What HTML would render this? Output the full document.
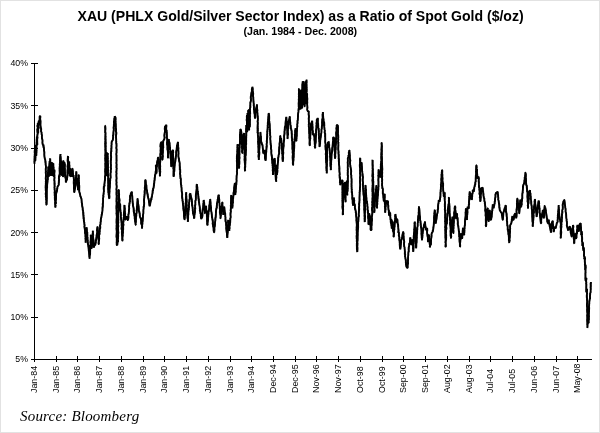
<!DOCTYPE html><html><head><meta charset="utf-8"><style>
html,body{margin:0;padding:0;background:#fff}
body{width:600px;height:433px;position:relative;overflow:hidden;font-family:"Liberation Sans",sans-serif;color:#000}
#frame{position:absolute;left:0;top:0;width:598px;height:431px;border:1px solid #e2e2e2}
#all{position:absolute;left:0;top:0;width:600px;height:433px;will-change:transform}
.t{position:absolute;left:0;width:600px;text-align:center;font-weight:bold;white-space:nowrap}
#t1{top:8.4px;font-size:14.07px;line-height:16px;left:0.6px}
#t2{top:26.1px;font-size:10.66px;line-height:11px;left:0.3px}
.yl{position:absolute;left:0;width:28px;text-align:right;font-size:8.75px;line-height:10px}
.xl{position:absolute;font-size:8.87px;line-height:10px;white-space:nowrap;transform-origin:0 0;transform:rotate(-90deg)}
#src{position:absolute;left:20px;top:406.8px;font-family:"Liberation Serif",serif;font-style:italic;font-size:15px;line-height:18px;letter-spacing:0.2px}
</style></head><body>
<div id="all">
<div id="frame"></div>
<div class="t" id="t1">XAU (PHLX Gold/Silver Sector Index) as a Ratio of Spot Gold ($/oz)</div>
<div class="t" id="t2">(Jan. 1984 - Dec. 2008)</div>
<div class="yl" style="top:58.4px">40%</div>
<div class="yl" style="top:100.7px">35%</div>
<div class="yl" style="top:143.0px">30%</div>
<div class="yl" style="top:185.3px">25%</div>
<div class="yl" style="top:227.5px">20%</div>
<div class="yl" style="top:269.8px">15%</div>
<div class="yl" style="top:312.1px">10%</div>
<div class="yl" style="top:354.4px">5%</div>
<div class="xl" style="left:29.1px;top:392.5px">Jan-84</div>
<div class="xl" style="left:51.1px;top:392.5px">Jan-85</div>
<div class="xl" style="left:72.1px;top:392.5px">Jan-86</div>
<div class="xl" style="left:94.1px;top:392.5px">Jan-87</div>
<div class="xl" style="left:116.1px;top:392.5px">Jan-88</div>
<div class="xl" style="left:138.1px;top:392.5px">Jan-89</div>
<div class="xl" style="left:159.1px;top:392.5px">Jan-90</div>
<div class="xl" style="left:181.1px;top:392.5px">Jan-91</div>
<div class="xl" style="left:203.1px;top:392.5px">Jan-92</div>
<div class="xl" style="left:225.1px;top:392.5px">Jan-93</div>
<div class="xl" style="left:246.1px;top:392.5px">Jan-94</div>
<div class="xl" style="left:268.1px;top:392.5px">Dec-94</div>
<div class="xl" style="left:290.1px;top:392.5px">Dec-95</div>
<div class="xl" style="left:311.1px;top:392.5px">Nov-96</div>
<div class="xl" style="left:333.1px;top:392.5px">Nov-97</div>
<div class="xl" style="left:355.1px;top:392.5px">Oct-98</div>
<div class="xl" style="left:377.1px;top:392.5px">Oct-99</div>
<div class="xl" style="left:398.1px;top:392.5px">Sep-00</div>
<div class="xl" style="left:420.1px;top:392.5px">Sep-01</div>
<div class="xl" style="left:442.1px;top:392.5px">Aug-02</div>
<div class="xl" style="left:464.1px;top:392.5px">Aug-03</div>
<div class="xl" style="left:485.1px;top:392.5px">Jul-04</div>
<div class="xl" style="left:507.1px;top:392.5px">Jul-05</div>
<div class="xl" style="left:529.1px;top:392.5px">Jun-06</div>
<div class="xl" style="left:551.1px;top:392.5px">Jun-07</div>
<div class="xl" style="left:572.1px;top:392.5px">May-08</div>
<div id="src">Source: Bloomberg</div>
<svg width="600" height="433" viewBox="0 0 600 433" style="position:absolute;left:0;top:0">
<g stroke="#000" stroke-width="1" fill="none" shape-rendering="crispEdges">
<path d="M34.5 63V359.5H592"/>
<path d="M31 63.5H38M31 105.5H38M31 148.5H38M31 190.5H38M31 232.5H38M31 274.5H38M31 317.5H38M31 359.5H38M34.5 356V362M56.5 356V362M77.5 356V362M99.5 356V362M121.5 356V362M143.5 356V362M164.5 356V362M186.5 356V362M208.5 356V362M230.5 356V362M251.5 356V362M273.5 356V362M295.5 356V362M316.5 356V362M338.5 356V362M360.5 356V362M382.5 356V362M403.5 356V362M425.5 356V362M447.5 356V362M469.5 356V362M490.5 356V362M512.5 356V362M534.5 356V362M556.5 356V362M577.5 356V362"/>
</g>
<path d="M34.5 163.7 L34.4 162.0 L34.3 161.8 L34.5 160.3 L34.6 157.9 L34.6 156.7 L34.5 155.6 L34.9 155.5 L34.6 153.5 L35.0 153.8 L34.7 152.5 L34.6 152.5 L34.8 150.0 L34.8 152.2 L34.8 151.4 L35.2 153.1 L35.1 153.9 L35.0 156.4 L34.9 157.4 L35.1 157.2 L35.2 160.1 L35.3 160.8 L35.4 159.2 L35.3 158.4 L35.5 158.3 L35.5 155.6 L35.7 155.2 L35.4 154.7 L35.4 154.3 L35.7 151.6 L35.6 149.7 L35.8 148.2 L35.8 149.1 L35.7 148.3 L35.8 146.7 L35.8 145.0 L35.9 146.4 L36.2 148.4 L36.1 148.5 L36.2 148.6 L36.4 151.4 L36.1 153.1 L36.3 153.1 L36.3 153.3 L36.3 155.8 L36.2 153.8 L36.5 152.3 L36.3 151.4 L36.6 151.0 L36.5 149.0 L36.7 149.2 L36.7 148.8 L36.5 146.2 L36.8 145.3 L36.5 145.8 L36.5 142.5 L36.7 141.6 L36.6 141.4 L36.7 138.7 L36.8 138.6 L36.9 139.1 L36.8 136.7 L37.0 137.9 L36.8 139.6 L37.2 141.4 L37.3 142.5 L37.1 142.3 L37.3 142.7 L37.3 145.0 L37.1 142.7 L37.2 141.9 L37.2 141.1 L37.2 139.1 L37.4 138.2 L37.6 136.8 L37.3 137.3 L37.4 135.2 L37.3 134.4 L37.8 134.6 L37.5 132.4 L37.3 130.2 L37.4 129.7 L37.4 129.9 L37.8 126.6 L37.4 126.8 L37.4 125.7 L37.9 124.6 L37.7 123.3 L37.8 125.5 L37.7 124.9 L38.0 125.7 L38.0 127.9 L37.8 128.4 L38.2 130.9 L38.2 132.1 L38.2 133.1 L38.2 133.3 L38.2 131.4 L38.0 130.7 L38.2 128.6 L38.4 128.1 L38.4 128.9 L38.7 127.8 L38.4 126.7 L38.4 123.5 L38.4 122.2 L38.8 122.3 L38.7 120.8 L38.8 123.3 L39.1 124.1 L39.2 125.0 L39.3 122.6 L39.5 123.7 L39.4 122.0 L39.6 119.1 L39.7 118.3 L39.5 118.9 L39.7 116.3 L40.2 116.0 L40.4 116.8 L40.1 118.9 L40.1 118.3 L40.5 121.6 L40.5 120.6 L40.5 124.1 L40.5 123.5 L40.5 125.0 L40.4 125.0 L40.9 128.7 L41.1 128.4 L41.2 129.2 L41.0 131.6 L41.3 131.7 L41.3 132.0 L41.6 133.1 L41.6 134.3 L42.0 135.0 L41.9 136.8 L42.0 138.3 L42.4 139.7 L42.5 140.3 L42.5 141.7 L42.4 142.9 L42.7 143.7 L43.0 145.0 L43.5 144.7 L43.7 146.7 L44.0 149.2 L44.1 151.0 L44.2 151.0 L44.4 152.8 L44.4 152.6 L44.3 154.2 L44.5 156.8 L44.7 157.4 L44.7 158.3 L45.3 160.0 L45.4 162.4 L45.5 162.7 L45.6 163.6 L45.6 164.6 L45.9 165.9 L46.0 167.7 L45.8 168.3 L45.7 170.6 L46.1 170.7 L45.7 172.6 L45.8 171.7 L45.7 172.7 L45.9 173.8 L46.0 176.9 L45.9 176.3 L45.7 178.8 L46.1 180.5 L46.1 179.8 L45.8 181.4 L46.0 184.1 L45.8 183.0 L45.8 185.0 L45.7 185.3 L45.6 187.8 L45.8 188.5 L45.7 188.1 L45.8 190.9 L46.1 190.5 L46.1 193.6 L45.7 192.8 L45.8 195.0 L46.0 194.8 L45.8 196.6 L46.3 198.1 L46.0 200.4 L46.4 199.5 L46.4 201.9 L46.1 201.6 L46.4 204.4 L46.5 205.0 L46.8 202.7 L46.7 203.2 L46.8 200.5 L46.8 199.3 L46.6 199.3 L46.9 198.5 L46.6 196.6 L46.7 196.2 L46.7 193.9 L46.7 192.6 L46.8 192.2 L46.8 192.4 L46.8 190.6 L46.8 189.0 L46.8 187.6 L47.1 187.9 L47.1 185.2 L47.2 185.0 L47.1 185.2 L47.3 183.7 L47.6 181.7 L47.5 180.2 L47.9 180.0 L47.9 177.9 L47.9 177.8 L47.8 175.8 L48.0 175.0 L47.9 172.5 L48.2 171.4 L48.0 170.7 L48.4 169.1 L48.3 170.1 L48.2 167.2 L48.3 166.7 L48.4 167.2 L48.4 167.9 L48.7 169.3 L48.6 172.5 L48.8 171.5 L48.6 172.8 L48.7 173.0 L48.8 175.5 L48.8 176.7 L48.9 174.7 L48.8 173.0 L48.9 172.0 L48.8 170.7 L49.0 170.3 L49.2 170.0 L49.3 169.3 L49.4 168.0 L49.2 166.0 L49.2 166.5 L49.5 164.6 L49.6 161.5 L49.5 161.7 L49.6 163.9 L49.7 164.5 L49.6 164.0 L49.8 166.1 L49.9 168.1 L49.9 168.6 L49.9 170.0 L49.6 169.8 L49.8 170.6 L50.1 171.7 L50.0 174.1 L50.0 175.0 L50.1 174.2 L49.8 172.6 L50.2 172.3 L50.1 170.3 L49.9 169.6 L50.0 168.7 L50.0 165.7 L50.0 166.3 L50.5 165.2 L50.2 163.3 L50.4 162.1 L50.3 161.7 L50.1 160.2 L50.3 158.7 L50.2 158.8 L50.3 161.6 L50.2 162.3 L50.4 162.0 L50.6 164.9 L50.4 166.0 L50.5 166.7 L50.4 167.7 L50.5 170.1 L50.9 171.4 L50.7 169.9 L51.0 173.3 L50.7 173.4 L51.0 173.9 L50.8 175.8 L50.9 173.9 L50.9 172.6 L50.8 173.8 L51.0 172.3 L51.1 171.4 L51.3 168.4 L50.9 168.0 L51.2 165.5 L51.1 165.7 L51.2 163.7 L51.5 163.1 L51.3 162.5 L51.5 162.2 L51.2 165.7 L51.6 167.1 L51.4 168.2 L51.5 167.8 L51.7 170.7 L51.6 170.1 L51.5 171.0 L51.9 171.6 L52.0 173.3 L51.8 175.0 L51.8 173.2 L51.8 172.8 L52.2 171.2 L52.2 171.5 L52.3 169.7 L52.1 169.4 L51.9 167.7 L52.2 166.6 L52.3 165.5 L52.1 163.0 L52.3 162.5 L52.2 164.8 L52.3 164.6 L52.6 165.3 L52.4 168.3 L52.4 168.5 L52.5 169.3 L52.5 169.3 L52.9 170.6 L52.6 172.5 L53.0 174.8 L52.6 174.6 L52.8 175.8 L52.7 173.8 L52.7 173.1 L52.8 171.7 L53.2 171.5 L53.0 170.9 L53.1 168.8 L53.1 167.5 L53.1 165.5 L53.1 166.9 L53.4 164.5 L53.3 163.3 L53.2 165.5 L53.3 164.9 L53.4 166.4 L53.7 169.1 L53.3 169.9 L53.7 168.7 L53.6 172.2 L53.4 172.5 L53.9 173.0 L53.9 175.4 L53.7 176.9 L53.8 176.7 L53.7 174.4 L54.1 174.5 L54.2 174.6 L54.3 172.7 L54.3 171.0 L54.3 170.0 L54.5 169.9 L54.6 171.5 L54.3 173.8 L54.3 173.5 L54.5 176.1 L54.2 175.8 L54.5 178.0 L54.3 178.8 L54.2 180.5 L54.5 180.9 L54.6 183.8 L54.5 184.7 L54.4 184.1 L54.7 187.2 L54.4 186.6 L54.7 188.2 L54.5 189.2 L54.9 191.0 L54.7 191.7 L54.5 192.0 L54.7 193.5 L54.7 195.6 L55.0 197.0 L54.8 197.3 L54.9 199.8 L54.9 200.5 L55.2 199.9 L55.3 201.3 L55.0 203.0 L55.1 203.3 L55.5 205.7 L55.2 205.4 L55.3 207.5 L55.7 205.5 L55.3 204.1 L55.5 202.7 L55.9 203.9 L56.0 202.3 L55.7 201.7 L56.1 198.3 L55.8 198.8 L56.0 197.4 L56.1 195.3 L56.0 193.6 L56.3 193.3 L56.5 191.5 L56.5 192.6 L56.8 191.5 L57.3 188.4 L57.3 188.8 L57.5 186.7 L58.7 185.0 L58.7 182.6 L59.0 182.4 L58.8 180.8 L58.7 181.7 L59.2 179.2 L58.9 179.1 L59.0 175.9 L59.1 177.3 L59.3 175.0 L59.5 176.7 L59.7 176.2 L59.5 174.0 L59.7 174.6 L59.7 171.6 L59.6 170.6 L59.8 168.6 L59.8 170.1 L59.5 169.0 L59.8 165.9 L60.1 166.8 L59.7 164.1 L59.9 163.1 L59.8 163.4 L60.1 162.0 L60.0 160.0 L60.2 159.8 L60.1 158.0 L60.2 156.0 L60.2 156.2 L60.5 154.2 L60.6 154.5 L60.3 155.8 L60.6 156.4 L60.8 158.3 L60.8 161.0 L60.4 160.5 L60.6 161.2 L60.6 164.0 L60.6 163.8 L60.8 166.1 L60.9 167.6 L60.5 168.5 L60.6 170.2 L60.7 170.6 L60.6 172.2 L60.7 172.0 L61.0 172.9 L60.8 175.0 L60.8 174.0 L61.2 172.3 L60.8 171.5 L61.1 171.1 L60.8 170.5 L61.2 167.8 L61.3 167.7 L61.1 164.3 L61.1 163.3 L61.3 164.5 L61.2 163.2 L61.3 160.8 L61.3 163.0 L61.5 162.5 L61.3 165.5 L61.5 165.7 L61.5 165.8 L61.4 166.7 L61.7 168.2 L61.5 170.5 L61.6 169.8 L61.6 172.9 L61.6 173.0 L61.8 175.5 L61.8 175.8 L61.7 173.5 L62.0 173.3 L61.8 172.9 L62.2 170.4 L62.0 170.0 L62.4 168.6 L62.3 167.5 L62.2 166.5 L62.6 166.9 L62.2 164.3 L62.3 164.3 L62.5 162.5 L62.7 162.3 L62.7 164.6 L62.8 165.8 L62.5 167.1 L62.7 167.0 L63.0 170.0 L62.9 169.6 L62.8 171.6 L62.8 172.1 L63.1 174.4 L63.0 174.4 L63.0 176.7 L63.3 176.4 L62.9 173.6 L63.3 174.5 L62.9 172.1 L63.1 172.2 L63.3 171.0 L63.1 169.7 L63.1 168.4 L63.5 166.2 L63.2 166.3 L63.3 163.4 L63.4 163.1 L63.3 160.9 L63.5 160.8 L63.7 162.6 L63.6 161.9 L63.4 165.0 L63.5 166.4 L63.7 166.9 L63.6 168.1 L63.8 168.7 L63.9 169.9 L63.8 171.1 L63.9 171.0 L63.8 173.5 L64.1 175.4 L64.0 175.8 L63.9 174.6 L63.9 173.5 L64.1 171.5 L64.1 170.2 L64.0 170.3 L64.0 169.6 L64.4 168.7 L64.1 167.0 L64.3 165.8 L64.2 166.0 L64.7 164.6 L64.5 162.5 L64.7 164.3 L64.9 163.9 L64.9 165.9 L64.6 168.3 L65.0 169.1 L64.8 168.1 L64.8 171.3 L65.0 171.7 L65.0 174.0 L65.0 175.0 L65.5 175.3 L65.3 175.6 L65.4 177.7 L65.4 177.5 L65.9 179.1 L65.9 181.8 L65.8 182.5 L66.6 180.0 L67.0 180.0 L67.1 177.7 L67.1 178.0 L67.2 177.5 L67.5 175.5 L67.6 172.9 L67.4 173.2 L67.5 171.7 L67.4 171.3 L67.6 170.7 L67.7 167.7 L67.5 166.8 L67.5 166.5 L67.6 165.5 L68.0 163.8 L67.9 162.5 L67.6 160.5 L67.7 158.6 L67.9 159.0 L68.2 157.5 L68.0 156.3 L67.9 156.4 L67.8 159.0 L68.0 158.3 L68.1 159.8 L68.2 161.2 L68.1 163.4 L68.2 164.6 L68.5 164.4 L68.1 165.8 L68.4 166.5 L68.5 169.8 L68.3 169.7 L68.5 169.7 L68.4 172.4 L68.5 173.3 L68.5 172.6 L68.8 172.3 L68.9 169.1 L68.8 167.4 L68.7 167.2 L69.0 165.1 L69.0 163.8 L68.9 165.3 L69.2 162.0 L69.2 161.7 L69.3 162.9 L69.1 164.9 L69.2 164.7 L69.5 165.1 L69.5 168.4 L69.6 167.4 L69.4 170.6 L69.5 171.8 L69.3 171.5 L69.4 172.7 L69.7 174.2 L69.7 175.8 L70.0 175.2 L69.8 174.0 L70.0 172.2 L70.1 171.7 L70.3 168.9 L70.3 168.3 L70.3 170.9 L70.2 171.8 L70.4 171.2 L70.8 173.8 L70.6 175.0 L70.7 176.6 L70.8 176.7 L71.1 174.7 L71.1 174.7 L71.4 173.7 L71.4 171.9 L71.3 170.8 L71.6 172.6 L71.6 173.0 L71.5 174.5 L71.8 174.6 L71.8 176.7 L72.1 174.2 L71.8 173.2 L72.3 171.9 L72.0 171.4 L72.1 169.3 L72.5 170.1 L72.5 168.3 L72.7 170.1 L72.7 169.5 L72.9 171.5 L73.0 174.0 L73.0 173.0 L73.2 176.7 L73.0 176.7 L73.7 175.0 L73.6 175.1 L73.5 176.2 L73.9 179.5 L74.0 180.0 L73.7 181.2 L73.7 180.9 L73.8 183.9 L73.9 183.8 L73.8 184.2 L74.1 186.1 L73.9 187.5 L74.1 190.3 L74.2 191.1 L74.1 190.0 L74.2 192.5 L74.5 191.1 L74.7 189.7 L74.7 189.1 L74.9 189.0 L75.3 186.7 L75.2 186.4 L75.3 182.9 L75.8 184.0 L75.6 180.6 L75.9 180.9 L75.8 178.8 L76.0 178.1 L76.2 176.7 L75.9 175.7 L76.1 175.7 L76.2 172.8 L76.4 171.6 L76.3 171.7 L76.5 173.4 L76.4 174.4 L76.5 174.9 L76.4 177.5 L76.4 178.6 L76.6 177.8 L76.8 181.0 L77.1 180.7 L76.9 181.4 L77.0 183.3 L77.3 184.5 L77.4 186.3 L77.4 186.2 L77.8 186.7 L78.0 189.4 L78.0 190.0 L78.0 187.9 L78.1 188.5 L78.1 185.5 L78.1 186.5 L78.2 183.4 L78.5 183.7 L78.2 180.9 L78.3 180.1 L78.3 179.7 L78.4 178.0 L78.7 178.7 L78.8 175.0 L78.7 175.0 L78.7 175.0 L78.9 178.6 L78.8 179.0 L78.9 178.6 L78.7 179.4 L78.7 181.4 L79.1 182.5 L79.0 184.4 L79.0 185.4 L79.2 185.1 L79.3 187.0 L79.2 189.5 L79.4 189.7 L79.2 190.3 L79.3 191.7 L79.9 193.7 L80.2 195.1 L80.5 196.7 L80.8 196.7 L81.0 198.2 L81.3 198.3 L81.4 198.7 L81.7 202.0 L81.7 202.6 L82.0 203.3 L82.1 204.3 L82.2 206.1 L82.6 207.4 L82.6 207.1 L82.7 210.1 L83.1 210.4 L83.0 211.7 L83.1 211.5 L83.4 213.0 L83.4 216.6 L83.5 215.2 L83.7 217.7 L83.8 218.8 L83.8 220.0 L84.0 222.2 L84.3 222.1 L84.3 222.7 L84.4 224.4 L84.7 224.8 L84.3 226.7 L84.7 228.3 L84.7 228.9 L84.9 229.4 L85.1 231.8 L85.0 232.8 L85.4 233.7 L85.4 237.1 L85.5 237.0 L85.7 237.3 L85.4 238.9 L85.6 239.3 L85.6 242.2 L85.5 242.5 L85.6 241.3 L85.9 239.4 L85.8 238.6 L86.0 238.8 L85.8 236.6 L85.9 235.7 L86.1 235.4 L86.1 234.3 L86.2 231.8 L86.2 230.7 L86.6 228.4 L86.4 228.0 L86.7 227.5 L86.7 228.1 L86.9 229.6 L86.9 231.5 L87.2 233.4 L87.3 232.0 L87.3 235.7 L87.5 234.6 L87.1 237.2 L87.7 236.6 L87.4 239.6 L87.5 239.2 L87.9 240.7 L87.6 242.2 L88.1 245.0 L88.0 245.0 L88.4 245.2 L88.5 247.8 L88.7 249.3 L88.7 250.0 L89.0 252.1 L89.0 251.6 L89.2 253.8 L89.4 254.8 L89.3 256.4 L89.3 256.6 L89.7 258.7 L89.5 257.5 L89.6 256.3 L89.8 255.3 L90.1 254.3 L90.1 251.6 L90.0 251.8 L90.2 251.2 L90.1 249.3 L90.0 249.8 L90.3 247.8 L90.3 244.9 L90.5 245.7 L90.6 243.5 L90.4 242.9 L90.3 242.9 L90.6 241.3 L90.8 239.0 L90.7 238.0 L90.9 237.3 L90.7 235.3 L90.8 235.0 L90.9 235.9 L90.9 238.2 L91.0 239.3 L91.0 239.5 L91.4 240.6 L91.4 242.1 L91.2 242.3 L91.4 243.3 L91.6 245.4 L91.6 244.8 L91.6 248.3 L91.7 248.3 L91.6 245.9 L91.7 244.6 L92.0 246.1 L92.1 244.1 L92.1 243.7 L92.2 241.7 L92.3 240.7 L92.1 239.5 L92.3 238.3 L92.2 237.4 L92.3 234.6 L92.8 235.1 L92.6 233.6 L92.9 232.9 L92.8 230.8 L92.8 232.1 L92.9 232.5 L93.0 233.6 L93.3 235.7 L93.2 235.1 L93.0 236.2 L93.3 239.5 L93.3 240.9 L93.4 239.4 L93.7 242.2 L93.6 244.4 L93.4 243.9 L93.6 245.7 L93.5 245.4 L93.8 247.5 L94.7 244.2 L95.3 245.0 L95.7 242.7 L95.9 241.5 L95.6 240.5 L95.9 241.2 L96.0 240.2 L96.3 238.3 L96.6 235.8 L96.7 236.6 L96.5 235.5 L96.9 234.1 L97.1 232.4 L97.3 230.6 L96.9 230.8 L97.3 227.5 L97.2 228.8 L97.5 226.7 L97.7 227.3 L97.8 228.0 L97.5 230.1 L97.8 230.9 L98.0 232.3 L98.1 232.6 L98.1 234.4 L98.1 236.4 L98.3 236.8 L98.4 239.6 L98.3 239.7 L98.7 239.4 L98.7 242.4 L98.6 242.5 L98.7 244.2 L98.9 244.4 L98.7 242.1 L99.1 240.4 L99.1 239.1 L99.3 238.6 L99.1 238.0 L99.1 234.5 L99.4 234.5 L99.6 234.5 L99.7 231.0 L99.8 232.1 L99.7 230.0 L99.7 229.1 L100.1 228.8 L100.3 227.2 L100.0 225.1 L100.5 224.6 L100.6 222.4 L100.4 223.5 L100.8 221.4 L100.8 220.0 L100.9 218.8 L101.3 217.0 L101.4 217.6 L101.7 214.2 L101.6 215.3 L102.1 213.6 L102.1 213.4 L102.4 211.0 L102.5 210.0 L102.4 208.0 L102.7 206.8 L102.8 206.2 L102.8 205.1 L102.6 203.3 L102.9 204.6 L103.1 200.8 L102.9 201.7 L103.1 200.0 L103.0 198.6 L103.5 196.0 L103.4 197.3 L103.3 195.3 L103.5 194.8 L103.7 194.1 L103.7 191.7 L104.0 191.5 L103.7 188.7 L103.8 187.4 L103.9 186.0 L104.4 186.3 L104.6 184.9 L104.2 185.1 L104.5 183.1 L104.7 181.7 L105.0 179.4 L104.9 178.6 L105.2 178.5 L105.0 177.4 L105.0 175.6 L105.5 175.9 L105.3 173.3 L105.1 171.5 L105.3 170.4 L105.5 171.1 L105.1 169.8 L105.4 168.6 L105.6 167.1 L105.2 164.3 L105.6 165.1 L105.2 163.8 L105.5 162.5 L105.2 160.0 L105.3 160.0 L105.1 158.2 L105.2 157.7 L105.2 156.0 L105.1 156.1 L105.2 155.1 L105.5 152.1 L105.6 151.5 L105.5 152.2 L105.3 149.1 L105.5 147.9 L105.4 148.8 L105.3 146.6 L105.3 146.6 L105.2 144.9 L105.1 142.7 L105.4 142.9 L105.5 140.3 L105.3 139.5 L105.2 138.1 L105.3 138.9 L105.3 136.0 L105.5 135.3 L105.6 133.6 L105.5 132.3 L105.2 132.9 L105.2 131.3 L105.2 129.6 L105.6 128.8 L105.5 129.4 L105.2 125.8 L105.3 125.8 L105.1 128.1 L105.3 128.7 L105.2 130.5 L105.3 131.2 L105.2 130.5 L105.5 133.5 L105.5 132.8 L105.4 136.0 L105.3 136.1 L105.7 136.2 L105.4 138.8 L105.4 138.1 L105.6 140.7 L105.5 140.9 L105.8 143.0 L105.7 144.7 L105.5 144.1 L105.7 146.7 L105.5 147.8 L105.7 149.2 L106.0 150.4 L105.6 150.5 L105.8 151.7 L105.8 153.9 L105.8 154.9 L106.1 154.1 L105.8 155.7 L106.0 156.9 L106.0 157.0 L106.0 159.3 L106.1 159.5 L106.2 162.5 L106.2 162.3 L106.2 163.6 L106.3 163.8 L106.1 167.4 L106.2 167.3 L106.0 168.4 L106.1 170.7 L106.0 169.7 L106.4 171.0 L106.1 171.5 L106.2 174.4 L106.3 175.0 L106.4 172.5 L106.4 173.0 L106.2 172.2 L106.5 171.5 L106.3 168.1 L106.5 168.2 L106.3 166.5 L106.4 165.7 L106.7 165.1 L106.6 162.8 L106.4 163.3 L106.9 162.4 L106.6 160.1 L106.7 160.2 L106.9 157.8 L106.7 157.8 L106.7 155.2 L107.0 154.6 L107.0 154.5 L106.8 152.5 L107.0 154.5 L106.9 153.5 L107.1 157.1 L106.9 156.2 L106.9 158.4 L106.8 159.3 L107.0 160.1 L106.8 160.1 L107.2 163.8 L107.1 164.8 L107.3 165.6 L106.9 166.9 L107.0 167.3 L107.1 168.6 L107.4 169.3 L107.1 170.6 L107.2 171.4 L107.2 173.8 L107.4 173.1 L107.4 173.7 L107.3 175.8 L107.4 176.0 L107.3 172.9 L107.2 172.6 L107.2 170.3 L107.4 169.6 L107.3 168.5 L107.5 166.8 L107.5 167.8 L107.6 165.9 L107.6 163.8 L107.5 163.4 L107.5 162.6 L107.4 160.7 L107.6 159.3 L107.6 158.6 L107.5 156.5 L107.5 157.7 L107.6 155.7 L107.9 153.9 L107.7 153.3 L107.8 153.9 L107.5 154.7 L107.7 157.8 L107.7 156.7 L107.9 158.9 L107.7 159.1 L107.9 162.6 L107.8 161.5 L107.9 163.2 L108.0 165.1 L107.9 166.8 L108.0 167.7 L107.9 168.9 L108.1 170.2 L107.8 171.7 L108.0 171.7 L107.8 173.8 L108.1 174.7 L108.3 175.1 L108.0 176.4 L108.3 178.2 L108.1 178.8 L108.1 179.6 L108.1 181.5 L108.2 181.7 L108.1 182.8 L108.4 185.1 L108.2 185.4 L108.2 185.7 L108.3 186.7 L108.1 189.1 L108.3 190.0 L108.4 192.4 L108.7 193.4 L108.5 194.9 L109.0 194.5 L108.7 194.5 L109.0 197.3 L109.2 198.3 L109.4 198.4 L109.5 196.2 L109.3 195.0 L109.3 194.4 L109.5 192.4 L109.7 191.2 L109.6 191.1 L109.5 188.3 L109.7 188.1 L109.9 187.4 L109.8 187.4 L109.9 184.8 L109.8 185.3 L110.1 182.9 L110.0 181.7 L110.0 179.6 L110.3 180.9 L110.1 178.4 L110.5 178.4 L110.7 177.1 L110.5 176.1 L110.5 172.9 L110.7 172.8 L110.8 171.7 L110.7 169.7 L110.9 169.8 L111.1 167.9 L110.6 167.6 L111.0 165.9 L110.9 164.5 L110.7 162.5 L110.9 163.7 L110.8 161.7 L110.7 161.0 L111.0 159.4 L111.0 157.7 L111.3 157.3 L111.0 156.3 L110.9 153.9 L111.0 154.6 L111.0 151.6 L111.4 151.7 L111.4 150.9 L111.1 148.2 L111.3 149.1 L111.4 147.8 L111.4 145.2 L111.7 143.9 L111.5 144.1 L111.6 142.6 L111.7 141.7 L112.8 140.0 L113.1 137.6 L113.2 137.9 L113.1 136.4 L112.9 134.7 L113.4 135.5 L113.5 132.5 L113.3 132.8 L113.7 131.1 L113.8 129.6 L113.5 127.7 L113.5 127.9 L113.9 125.6 L113.8 125.0 L114.1 123.7 L113.9 121.8 L114.0 120.9 L114.2 121.5 L114.2 119.0 L114.5 117.7 L114.7 116.3 L115.5 117.5 L115.3 118.4 L115.8 118.7 L115.5 120.5 L115.6 121.2 L115.5 122.4 L115.7 124.8 L115.9 124.5 L115.7 125.4 L115.7 128.7 L116.1 128.7 L116.0 130.0 L115.9 132.0 L116.2 131.8 L116.3 133.0 L116.4 133.6 L116.0 135.6 L116.0 136.5 L116.1 138.4 L116.3 140.0 L116.2 139.6 L116.2 141.4 L116.2 143.3 L116.4 143.4 L116.6 143.8 L116.5 145.2 L116.5 146.7 L116.4 148.0 L116.3 148.6 L116.7 149.1 L116.6 150.6 L116.5 151.2 L116.5 153.0 L116.3 153.9 L116.4 155.0 L116.6 155.6 L116.5 157.2 L116.6 160.0 L116.7 161.0 L116.4 160.1 L116.6 160.9 L116.4 163.8 L116.6 164.2 L116.4 166.1 L116.4 167.6 L116.3 168.1 L116.7 167.8 L116.5 170.0 L116.6 171.7 L116.3 171.0 L116.4 172.4 L116.5 173.9 L116.4 174.3 L116.4 177.0 L116.6 178.6 L116.4 179.4 L116.6 179.7 L116.3 180.6 L116.7 183.0 L116.3 182.7 L116.6 185.3 L116.4 184.2 L116.7 185.5 L116.8 186.9 L116.3 189.4 L116.5 190.4 L116.7 191.6 L116.4 191.5 L116.5 194.4 L116.7 195.4 L116.7 196.0 L116.5 196.8 L116.7 196.4 L116.6 198.5 L116.4 200.9 L116.4 201.6 L116.7 202.5 L116.6 202.4 L116.7 205.5 L116.5 205.4 L116.5 205.2 L116.5 207.3 L116.4 208.1 L116.7 210.3 L116.5 210.1 L116.6 212.0 L116.5 214.2 L116.8 213.6 L116.7 214.2 L116.8 215.9 L116.8 217.6 L116.7 217.6 L116.6 219.9 L116.8 221.5 L116.5 220.8 L116.5 222.6 L116.5 222.8 L116.7 224.3 L116.5 226.1 L116.6 226.9 L116.5 228.1 L116.4 228.4 L116.8 232.0 L116.8 230.6 L116.7 234.2 L116.7 232.9 L116.5 234.9 L116.4 236.3 L116.8 238.4 L116.9 238.7 L116.6 239.9 L116.5 239.9 L116.8 240.4 L116.6 243.7 L116.8 243.0 L116.7 245.0 L117.3 245.2 L117.7 241.6 L118.0 241.7 L118.1 241.5 L117.9 239.0 L118.0 239.3 L118.1 236.9 L118.2 235.8 L117.9 234.4 L118.2 234.2 L118.2 233.8 L118.4 232.9 L118.1 230.7 L118.1 228.7 L118.0 228.7 L118.0 227.9 L118.4 226.1 L118.0 224.1 L118.1 223.9 L118.0 223.6 L118.4 222.8 L118.2 221.6 L118.4 219.1 L118.3 218.6 L118.3 217.1 L118.5 216.9 L118.2 216.4 L118.3 213.6 L118.3 213.3 L118.2 211.2 L118.4 210.4 L118.6 211.1 L118.7 209.7 L118.5 208.9 L118.3 207.4 L118.5 205.9 L118.5 203.7 L118.5 204.4 L118.4 202.5 L118.7 200.6 L118.4 198.6 L118.6 199.3 L118.7 196.6 L118.7 196.2 L118.6 195.3 L118.6 194.6 L118.5 192.2 L118.7 193.3 L118.9 190.0 L118.7 190.0 L118.6 190.4 L118.7 192.4 L119.0 193.5 L119.1 193.9 L119.1 194.7 L119.0 197.3 L119.1 197.9 L119.5 199.2 L119.6 200.6 L119.3 202.4 L119.7 204.3 L119.7 204.0 L120.2 204.2 L120.3 207.0 L120.2 207.9 L120.5 210.7 L120.4 211.3 L120.4 212.5 L120.7 212.1 L120.8 212.6 L120.8 214.3 L120.9 216.9 L121.1 218.6 L121.2 219.8 L121.4 221.0 L121.3 221.0 L121.5 221.1 L121.6 222.7 L121.6 224.8 L121.5 224.3 L121.8 227.2 L121.4 228.2 L121.5 229.0 L121.9 229.9 L122.1 229.8 L121.8 232.5 L121.9 232.2 L122.1 235.2 L121.9 234.2 L122.3 235.3 L122.2 236.6 L122.4 238.0 L122.2 239.4 L122.4 240.8 L122.5 240.7 L122.7 239.1 L122.4 238.7 L122.5 235.8 L122.9 235.1 L122.6 234.8 L123.0 231.9 L122.9 232.2 L122.9 230.5 L123.0 230.4 L123.2 229.4 L123.1 225.9 L123.3 226.0 L123.6 224.1 L123.2 224.0 L123.4 221.7 L123.6 221.5 L123.5 220.2 L123.7 217.9 L123.5 217.8 L124.0 217.0 L123.7 214.7 L123.8 215.4 L124.0 213.2 L124.1 212.1 L124.3 211.7 L124.0 211.9 L124.4 209.6 L124.4 209.4 L124.4 207.6 L124.3 205.7 L124.5 205.0 L124.7 207.0 L124.7 208.6 L124.8 207.9 L124.8 210.3 L124.7 211.2 L124.8 212.1 L124.8 211.8 L125.2 213.7 L125.0 215.3 L125.0 215.8 L125.0 217.3 L125.4 217.4 L125.3 220.0 L125.7 218.7 L126.1 218.0 L126.7 216.7 L126.9 216.5 L127.5 218.1 L128.0 220.0 L128.1 219.5 L128.2 219.0 L128.4 217.8 L128.3 214.1 L128.8 214.4 L128.8 212.6 L129.0 211.6 L128.9 209.4 L128.9 210.7 L129.2 208.3 L129.0 206.5 L129.2 205.1 L129.3 205.6 L129.4 203.6 L129.8 203.1 L129.6 202.1 L130.1 201.2 L129.7 199.7 L130.2 199.2 L130.0 196.8 L130.3 195.2 L130.3 195.0 L130.8 195.3 L131.1 194.4 L131.7 191.7 L131.9 192.3 L131.9 194.5 L131.9 195.8 L132.1 195.1 L132.3 196.3 L132.4 198.3 L132.5 200.0 L132.5 201.5 L132.6 202.3 L133.0 204.9 L132.9 206.3 L133.4 206.3 L133.3 206.6 L133.7 208.3 L133.6 208.5 L133.7 211.5 L134.1 212.9 L134.3 213.2 L134.5 214.5 L134.4 215.8 L134.7 216.7 L134.7 218.6 L135.1 219.7 L135.0 221.1 L135.5 222.3 L135.3 222.5 L135.7 223.9 L135.7 225.0 L135.5 222.8 L135.9 222.7 L135.8 222.5 L135.9 222.0 L135.9 220.2 L136.0 217.0 L136.3 215.9 L136.2 216.3 L136.3 216.3 L136.3 212.9 L136.8 213.5 L136.7 211.7 L136.5 209.6 L136.7 210.2 L136.9 209.7 L136.9 207.6 L137.0 207.0 L137.3 204.5 L137.3 202.8 L137.3 201.5 L137.5 201.4 L137.4 199.3 L137.6 199.2 L137.5 198.3 L137.7 200.8 L137.6 199.7 L137.9 200.9 L137.9 202.0 L138.2 204.7 L138.5 204.4 L138.4 205.3 L138.7 206.2 L138.7 208.3 L138.7 210.7 L139.2 211.5 L139.2 211.2 L139.6 213.0 L139.7 213.2 L139.8 215.8 L140.0 216.7 L140.5 218.1 L140.9 217.9 L141.0 220.0 L141.3 220.8 L141.1 223.5 L141.7 224.7 L141.3 224.1 L142.0 224.8 L142.1 225.6 L142.0 228.3 L142.2 226.1 L142.0 224.8 L142.1 225.4 L142.6 223.2 L142.7 223.1 L142.4 222.7 L142.8 219.4 L142.6 219.6 L142.8 217.8 L143.0 216.7 L142.9 215.4 L143.4 213.0 L143.4 212.8 L143.3 211.1 L143.4 210.0 L143.6 209.1 L143.7 207.9 L143.5 207.8 L143.7 206.2 L143.8 206.8 L144.2 203.6 L144.0 203.3 L144.2 203.3 L144.0 200.5 L144.0 199.3 L144.3 197.6 L144.4 197.5 L144.2 196.3 L144.5 196.1 L144.6 194.6 L144.8 193.9 L144.8 193.3 L144.6 190.8 L145.0 189.8 L144.8 188.6 L144.8 187.5 L145.0 186.7 L144.8 187.0 L145.4 184.8 L145.3 182.6 L145.2 181.9 L145.2 180.2 L145.5 180.0 L145.8 182.2 L145.5 183.5 L145.8 183.9 L146.0 184.9 L146.4 185.0 L146.4 185.2 L146.4 188.9 L146.8 189.2 L146.7 190.0 L147.0 190.2 L147.1 193.0 L147.3 194.0 L147.6 194.5 L147.7 196.1 L148.0 196.7 L148.2 198.2 L148.5 198.1 L148.8 199.4 L148.9 201.2 L149.0 202.5 L149.1 202.6 L149.5 206.1 L149.7 205.8 L150.0 204.7 L150.1 204.4 L150.7 201.0 L150.8 200.8 L151.2 199.5 L151.6 199.4 L151.4 198.3 L152.1 195.4 L152.0 195.6 L152.5 193.3 L152.6 191.1 L152.8 189.9 L153.1 191.0 L153.0 188.7 L153.7 187.4 L153.6 187.3 L153.9 185.5 L153.8 185.3 L154.2 183.3 L154.3 182.7 L154.4 181.0 L154.6 179.4 L154.6 178.2 L155.0 176.5 L155.0 174.8 L155.3 175.0 L155.4 174.3 L155.6 171.7 L156.0 170.8 L155.8 170.6 L156.2 168.9 L156.0 166.5 L156.1 167.0 L156.0 165.0 L155.8 165.8 L156.0 167.2 L156.0 169.2 L156.3 169.5 L156.2 171.8 L156.3 171.8 L156.3 173.3 L156.3 173.5 L156.6 172.5 L156.6 169.6 L156.4 168.4 L156.6 168.5 L156.8 166.7 L157.0 166.7 L157.0 163.1 L157.0 163.3 L157.2 162.0 L157.4 162.1 L157.8 159.7 L157.8 158.5 L158.0 157.5 L158.3 158.7 L158.4 160.3 L158.2 160.6 L158.6 162.6 L158.9 164.1 L158.7 163.2 L159.2 164.2 L159.2 166.7 L159.1 166.6 L159.4 169.7 L159.6 168.8 L159.6 171.9 L159.8 171.1 L159.8 173.3 L160.1 176.2 L160.0 175.8 L159.8 175.7 L160.1 173.1 L160.3 171.1 L160.0 170.7 L160.0 169.7 L160.2 170.1 L160.1 168.0 L160.1 165.6 L160.4 166.8 L160.1 165.6 L160.0 162.7 L160.2 162.5 L160.3 161.2 L160.3 160.4 L160.2 159.9 L160.4 159.1 L160.3 155.5 L160.4 155.8 L160.3 154.7 L160.6 152.8 L160.6 151.7 L160.6 152.0 L160.7 149.9 L160.7 148.8 L160.5 146.6 L160.4 147.1 L160.4 146.6 L160.5 144.7 L160.7 143.3 L161.7 141.7 L161.7 144.0 L161.8 144.8 L161.9 145.6 L161.7 145.7 L161.7 148.4 L161.8 149.7 L161.8 148.6 L162.3 151.6 L162.2 151.7 L162.4 152.4 L162.1 154.8 L162.4 154.2 L162.5 155.3 L162.3 157.1 L162.4 159.1 L162.5 160.0 L162.4 159.0 L162.5 158.9 L162.5 157.6 L162.9 156.3 L162.5 154.1 L162.9 152.9 L162.9 151.3 L162.9 149.8 L162.9 150.5 L162.8 149.2 L162.9 148.5 L163.3 147.7 L163.2 146.6 L163.1 143.6 L163.2 143.8 L163.1 143.2 L163.3 140.8 L164.3 139.2 L164.6 138.0 L164.5 137.2 L164.3 134.6 L164.8 134.0 L164.5 134.5 L164.5 133.6 L165.0 131.5 L165.0 129.6 L164.7 129.4 L164.9 127.3 L165.0 126.7 L166.2 125.0 L166.4 125.4 L166.4 126.3 L166.2 127.8 L166.2 129.6 L166.7 130.7 L166.6 131.9 L166.7 131.4 L166.8 132.7 L166.8 133.9 L166.8 135.7 L166.8 137.7 L167.0 138.3 L167.3 138.5 L167.3 140.1 L167.2 142.7 L167.0 141.8 L167.1 145.0 L167.4 145.0 L167.4 145.0 L167.5 146.3 L167.4 148.4 L167.5 148.6 L167.4 149.7 L167.9 150.9 L167.9 152.8 L168.0 152.5 L168.0 155.0 L168.0 156.3 L168.1 156.4 L168.0 158.3 L167.9 156.2 L168.0 154.7 L168.0 155.0 L168.0 154.9 L168.1 152.9 L168.4 151.8 L168.1 151.0 L168.4 148.6 L168.2 149.6 L168.6 147.4 L168.5 146.8 L168.6 145.7 L168.4 144.9 L168.6 143.8 L168.5 141.2 L168.9 139.6 L168.8 139.2 L168.8 140.9 L169.0 141.0 L169.2 141.7 L169.7 143.3 L169.7 145.0 L169.9 147.6 L169.9 147.2 L170.1 149.2 L170.1 150.2 L170.2 149.7 L170.4 152.7 L170.4 151.6 L170.2 153.4 L170.5 155.0 L170.7 157.5 L170.5 158.0 L171.0 159.5 L171.0 160.8 L171.1 161.8 L171.0 162.3 L171.2 164.1 L171.1 165.4 L171.3 166.8 L171.3 166.7 L171.2 166.8 L171.6 165.7 L171.7 162.5 L171.4 161.3 L171.5 160.8 L171.8 159.7 L171.8 159.1 L171.9 157.1 L171.9 157.1 L172.0 156.4 L171.7 153.7 L172.1 153.3 L172.0 151.7 L173.0 150.0 L173.1 150.7 L173.2 153.2 L173.1 152.0 L172.9 153.1 L173.1 156.4 L173.1 157.0 L173.1 157.3 L173.4 158.5 L173.1 160.3 L173.2 160.0 L173.3 162.8 L173.5 163.8 L173.5 163.4 L173.6 164.3 L173.3 165.8 L173.4 169.1 L173.7 168.1 L173.7 170.3 L173.5 170.8 L173.6 173.5 L173.4 174.7 L173.4 175.4 L173.4 175.6 L173.7 176.7 L174.0 174.5 L174.0 174.2 L173.9 172.4 L174.1 170.8 L174.2 171.9 L174.5 169.3 L174.4 169.7 L174.5 166.1 L174.8 166.0 L174.7 165.0 L174.9 163.4 L174.9 163.0 L175.3 161.5 L175.3 161.5 L175.7 158.6 L175.8 156.5 L175.8 156.7 L176.0 156.0 L176.2 154.1 L176.3 154.3 L176.1 152.7 L176.2 150.2 L176.7 150.9 L176.7 148.3 L177.0 145.9 L177.0 146.1 L177.6 144.2 L177.6 143.7 L178.0 142.0 L177.9 143.9 L178.1 144.5 L178.2 146.9 L178.3 147.5 L178.5 147.5 L178.4 149.6 L178.2 149.5 L178.5 151.5 L178.4 153.3 L178.5 152.6 L178.4 155.9 L178.4 156.7 L178.4 156.6 L178.7 158.3 L178.9 158.9 L179.4 162.4 L179.3 161.1 L179.7 163.3 L179.6 165.7 L179.7 165.0 L179.7 165.5 L179.8 167.5 L179.8 170.2 L180.2 169.2 L180.2 171.0 L180.3 172.6 L180.0 172.8 L180.2 175.2 L180.4 175.7 L180.3 176.7 L180.4 178.6 L180.9 178.5 L180.8 180.0 L180.8 181.2 L180.9 182.6 L180.9 184.1 L181.2 185.4 L181.5 185.1 L181.3 186.7 L181.3 187.1 L181.6 187.7 L181.7 190.9 L181.9 191.1 L181.7 191.4 L182.2 194.1 L182.1 195.2 L182.1 196.8 L182.4 198.5 L182.3 198.3 L182.4 199.0 L182.5 201.5 L182.9 200.7 L182.8 202.9 L183.1 204.4 L182.9 203.9 L183.1 204.8 L183.4 207.2 L183.3 208.3 L183.5 210.0 L183.6 210.4 L183.9 211.2 L184.0 213.9 L184.0 213.1 L184.0 216.1 L184.3 217.7 L184.4 218.4 L184.6 219.3 L184.5 220.0 L184.7 217.7 L184.8 218.2 L184.6 215.8 L185.1 215.5 L185.0 213.4 L185.0 212.0 L185.3 211.7 L185.6 211.0 L185.4 210.3 L185.3 208.9 L185.4 208.1 L185.6 204.6 L185.5 203.9 L185.6 202.5 L185.9 202.8 L185.9 200.2 L185.7 199.3 L185.8 199.6 L186.0 197.7 L186.1 196.2 L186.2 195.1 L186.1 195.6 L186.3 192.3 L186.2 192.5 L186.2 192.3 L186.0 194.5 L186.4 196.3 L186.3 197.3 L186.5 198.2 L186.6 198.5 L186.7 201.8 L186.5 202.8 L186.4 204.0 L186.5 203.7 L186.8 204.8 L186.7 206.6 L186.6 206.7 L186.7 208.0 L187.0 208.5 L186.9 210.6 L187.0 211.7 L187.2 211.9 L187.1 213.0 L187.4 215.2 L187.5 217.5 L187.7 218.5 L187.7 219.0 L187.5 218.2 L187.9 219.1 L187.8 221.7 L188.0 221.2 L187.9 218.8 L188.1 217.4 L188.1 218.7 L188.1 214.8 L188.5 214.6 L188.4 214.8 L188.3 211.6 L188.7 210.7 L188.9 210.5 L188.9 210.6 L188.8 208.3 L189.1 207.1 L188.8 204.9 L189.1 205.0 L189.0 202.8 L189.5 201.1 L189.6 201.9 L189.4 201.6 L189.4 199.7 L189.8 198.7 L189.7 196.7 L189.7 194.3 L190.3 193.5 L190.5 193.3 L190.4 194.1 L191.0 196.6 L190.9 196.6 L191.3 199.0 L191.4 197.5 L191.7 200.0 L192.0 201.5 L192.0 202.3 L191.9 202.6 L192.1 205.9 L192.4 204.6 L192.3 205.9 L192.6 208.0 L192.8 209.7 L192.7 210.3 L193.0 211.7 L193.0 213.5 L193.3 213.8 L193.7 215.6 L193.9 215.3 L194.0 217.8 L194.2 218.3 L194.5 216.1 L194.2 216.2 L194.8 214.0 L194.6 212.8 L194.9 213.2 L195.0 211.6 L195.0 210.0 L194.9 207.6 L195.3 209.2 L195.0 205.3 L195.5 204.8 L195.4 203.6 L195.5 204.6 L195.4 203.4 L195.3 200.1 L195.4 200.7 L195.8 200.3 L195.9 196.9 L195.8 196.7 L195.9 194.5 L196.2 193.2 L196.4 194.4 L196.4 190.6 L196.5 191.2 L196.5 189.9 L196.7 189.0 L196.5 186.3 L196.7 186.6 L196.6 185.0 L197.0 184.2 L196.9 186.1 L197.4 187.5 L197.2 187.5 L197.4 189.2 L197.4 189.7 L197.8 192.5 L197.7 191.7 L198.0 193.3 L198.3 195.1 L198.1 196.6 L198.3 196.3 L198.3 198.6 L198.9 199.2 L198.5 200.8 L198.7 199.8 L199.1 202.8 L199.2 203.3 L199.3 204.5 L199.5 205.3 L199.8 207.1 L199.8 208.5 L200.0 210.1 L199.7 210.7 L200.2 211.7 L200.4 212.0 L200.3 213.3 L200.8 213.5 L200.8 215.5 L200.8 216.0 L201.0 217.5 L201.3 219.2 L201.5 216.7 L201.9 218.4 L202.2 217.1 L202.5 215.6 L202.5 213.3 L202.5 213.0 L202.7 210.4 L202.7 208.6 L203.1 210.0 L203.1 207.3 L203.3 207.5 L203.2 206.4 L203.4 203.3 L203.4 202.8 L203.5 201.8 L203.4 202.5 L203.7 200.0 L203.9 201.2 L204.1 202.3 L204.2 203.1 L204.3 205.0 L204.1 204.3 L204.5 206.0 L204.3 206.3 L204.8 209.5 L204.6 209.0 L204.9 211.7 L205.0 213.0 L205.0 213.3 L205.0 211.3 L205.4 209.4 L205.4 208.7 L205.7 209.8 L205.9 207.4 L206.0 205.8 L206.2 207.4 L206.1 207.7 L206.2 208.3 L206.4 210.4 L206.7 210.9 L206.8 213.3 L207.0 215.9 L207.1 215.0 L206.8 215.9 L207.1 217.4 L207.1 219.7 L207.0 221.0 L207.2 222.7 L207.1 223.6 L207.3 224.8 L207.5 225.0 L207.7 224.9 L207.6 223.3 L207.6 220.2 L207.7 221.7 L208.0 219.9 L207.9 218.8 L207.9 216.2 L208.2 217.5 L208.3 215.0 L208.5 214.3 L208.4 211.8 L208.9 210.0 L209.1 209.2 L209.1 208.8 L209.3 206.9 L209.2 206.1 L209.2 205.7 L209.7 203.7 L209.7 203.3 L209.8 201.3 L210.0 201.4 L210.3 199.2 L210.3 199.4 L210.4 201.1 L210.6 203.0 L210.5 204.8 L211.0 205.3 L210.6 205.2 L210.8 206.9 L211.2 208.1 L211.0 208.2 L211.1 210.5 L211.3 211.7 L211.5 212.0 L211.5 212.9 L211.8 214.8 L212.0 217.8 L212.0 216.3 L212.4 219.6 L212.5 220.0 L212.9 222.2 L212.6 223.3 L212.9 224.7 L212.9 223.6 L213.1 226.7 L213.3 226.7 L213.4 226.5 L213.6 230.3 L213.6 230.9 L213.9 231.2 L214.2 232.5 L214.4 230.5 L214.2 229.8 L214.5 230.5 L214.3 227.0 L214.7 227.2 L214.8 224.2 L214.9 225.2 L215.0 223.3 L215.1 221.3 L215.3 221.3 L215.5 218.7 L215.6 219.9 L215.5 218.4 L215.6 217.4 L215.8 215.0 L216.0 213.0 L215.9 213.9 L216.0 210.7 L216.1 210.2 L216.5 208.2 L216.8 208.2 L216.7 206.5 L217.0 204.2 L216.9 203.7 L217.0 203.3 L217.4 202.1 L217.7 200.8 L217.5 200.0 L217.7 199.4 L218.1 198.7 L218.3 195.8 L218.7 195.0 L219.0 195.4 L218.8 196.8 L219.1 198.0 L219.0 198.3 L219.3 199.8 L219.3 200.5 L219.3 202.5 L219.6 204.5 L219.4 204.4 L219.7 206.7 L220.0 206.7 L219.7 208.0 L220.0 210.2 L219.8 212.5 L219.9 211.7 L220.1 213.9 L220.4 214.6 L220.5 216.5 L220.3 218.5 L220.5 218.3 L220.5 218.5 L220.9 214.8 L220.5 213.8 L220.8 213.3 L221.1 214.2 L221.1 211.4 L221.3 211.6 L221.2 209.9 L221.3 208.3 L221.4 205.9 L221.8 206.5 L222.1 205.8 L222.0 205.1 L222.3 202.5 L222.6 202.4 L222.4 205.0 L222.5 206.5 L222.6 206.3 L222.9 208.3 L223.0 208.1 L223.0 210.8 L223.2 212.1 L223.1 211.3 L223.3 214.4 L223.3 215.0 L223.3 214.3 L223.8 214.0 L223.7 210.6 L223.8 211.6 L224.3 208.8 L224.1 209.1 L224.3 206.7 L224.4 208.5 L224.7 209.4 L224.5 208.9 L224.7 210.3 L224.7 210.8 L225.0 213.1 L225.2 213.2 L225.3 216.9 L225.3 216.7 L225.5 217.4 L225.4 218.8 L225.4 220.1 L225.6 221.9 L226.1 222.1 L226.1 224.5 L226.1 225.3 L226.4 226.6 L226.4 226.3 L226.3 228.3 L226.3 228.9 L226.6 231.7 L226.9 233.0 L226.7 233.4 L227.0 232.9 L227.0 236.3 L227.0 235.5 L227.3 238.0 L227.5 235.9 L227.3 234.3 L227.6 234.0 L227.3 234.9 L227.9 231.3 L227.5 232.6 L227.8 229.7 L227.8 228.5 L227.8 227.8 L227.8 225.5 L227.8 224.7 L228.2 224.9 L228.3 222.7 L228.1 222.9 L228.1 221.1 L228.3 220.0 L228.5 222.5 L228.4 221.1 L228.6 224.2 L228.6 225.5 L229.0 226.9 L229.0 226.0 L229.2 227.5 L229.4 230.5 L229.3 230.8 L229.2 228.8 L229.6 228.9 L229.5 226.1 L229.6 226.3 L229.8 225.2 L230.0 222.9 L230.2 222.5 L230.3 219.8 L230.3 220.0 L230.3 218.1 L230.5 218.1 L230.7 216.9 L230.4 214.6 L230.4 214.8 L230.5 212.2 L230.8 212.8 L230.9 211.5 L230.6 210.6 L230.9 208.1 L230.9 206.2 L230.7 205.2 L230.7 205.3 L231.2 205.3 L230.9 202.8 L231.1 200.7 L231.0 200.7 L231.2 200.2 L231.0 199.2 L231.2 196.1 L231.2 196.1 L231.3 195.0 L231.3 196.6 L231.5 196.7 L231.7 199.0 L231.6 199.1 L232.0 201.8 L231.6 202.0 L232.0 202.6 L231.8 203.2 L232.3 206.4 L232.1 205.0 L232.1 207.6 L232.3 208.3 L232.6 205.9 L232.5 206.8 L232.6 203.6 L233.0 202.5 L232.7 201.2 L232.8 202.1 L232.8 199.0 L233.1 198.0 L233.1 198.8 L233.3 196.7 L233.6 194.6 L233.5 194.2 L233.5 192.2 L233.6 193.6 L234.0 190.4 L234.2 191.2 L234.3 188.8 L234.1 188.1 L234.4 186.6 L234.3 186.3 L234.8 183.5 L234.7 183.3 L234.9 183.4 L234.7 185.2 L234.9 186.1 L234.8 189.4 L234.9 190.2 L235.2 189.4 L235.0 191.0 L235.4 192.4 L235.3 194.9 L235.3 195.0 L235.5 192.5 L235.7 193.1 L235.5 193.0 L235.8 191.6 L235.7 188.8 L235.8 188.0 L235.7 186.9 L236.2 185.3 L236.2 184.7 L236.3 185.0 L236.5 182.0 L236.3 181.7 L236.7 181.4 L236.6 180.1 L236.4 179.2 L236.6 177.7 L236.5 177.1 L236.7 175.1 L236.8 174.8 L237.1 173.8 L237.0 171.7 L236.8 171.5 L237.1 170.5 L237.1 168.6 L237.2 165.8 L237.0 166.0 L237.1 164.2 L237.2 164.3 L236.9 161.6 L236.8 160.5 L237.0 160.0 L236.8 158.4 L236.9 158.6 L236.9 155.4 L237.0 156.2 L237.1 154.2 L237.4 154.1 L237.3 151.5 L237.3 152.1 L237.4 150.9 L237.5 148.2 L237.2 147.8 L237.6 146.7 L237.5 145.3 L237.5 144.2 L237.8 145.1 L237.5 147.1 L237.7 147.4 L238.0 150.3 L238.2 149.1 L238.1 150.0 L238.3 152.4 L238.0 153.6 L238.3 155.0 L238.5 156.2 L238.4 158.0 L238.6 157.5 L238.4 160.3 L238.9 161.6 L238.6 161.5 L238.9 163.4 L238.7 163.0 L238.9 164.5 L238.9 165.2 L239.0 167.2 L239.0 168.3 L239.3 166.2 L239.1 167.5 L238.9 165.7 L239.2 164.9 L239.4 163.4 L239.4 161.1 L239.0 159.5 L239.5 159.2 L239.5 159.2 L239.6 157.0 L239.2 156.0 L239.6 155.0 L239.5 153.3 L239.4 151.7 L239.5 151.0 L239.4 150.0 L239.5 147.6 L239.8 148.4 L239.7 146.7 L239.6 144.8 L239.6 144.4 L240.0 143.5 L239.9 141.2 L240.0 141.5 L240.0 140.3 L240.1 137.9 L239.8 138.5 L240.0 137.4 L239.9 133.8 L240.2 134.7 L240.2 131.7 L240.5 131.9 L240.4 129.9 L240.3 129.2 L240.7 129.5 L241.3 131.7 L241.3 131.8 L241.3 134.3 L241.4 134.1 L241.4 135.0 L241.6 136.8 L241.6 137.6 L241.9 139.5 L242.0 140.8 L241.7 141.8 L241.7 143.3 L241.7 143.3 L242.2 145.9 L241.9 146.2 L242.0 147.4 L242.1 149.3 L242.4 148.9 L242.0 151.3 L242.4 153.2 L242.3 153.3 L242.5 151.8 L242.4 152.2 L242.4 149.7 L242.7 148.9 L242.9 148.3 L242.6 145.4 L242.9 146.3 L242.9 144.4 L243.1 142.6 L242.9 142.0 L242.8 139.8 L243.2 140.7 L243.1 137.1 L243.2 137.2 L243.5 135.8 L243.3 135.0 L244.2 133.3 L244.2 134.0 L244.3 136.7 L244.2 136.6 L244.3 137.4 L244.2 139.6 L244.3 139.6 L244.5 140.7 L244.3 142.3 L244.5 142.8 L244.5 143.4 L244.3 144.1 L244.6 145.3 L244.3 146.7 L244.4 147.5 L244.6 150.5 L244.8 152.1 L244.8 152.2 L244.8 152.0 L244.5 154.1 L244.8 156.1 L244.5 156.2 L244.8 158.6 L245.0 159.0 L244.5 158.5 L244.5 159.9 L244.9 162.6 L244.7 162.0 L244.9 163.3 L245.1 165.8 L245.1 166.0 L244.9 167.3 L244.8 167.9 L245.2 171.1 L245.0 170.8 L244.9 170.3 L244.9 167.7 L245.3 167.0 L245.2 165.1 L245.0 165.7 L245.4 163.9 L245.3 163.2 L245.4 162.9 L245.4 160.2 L245.7 160.8 L245.6 159.6 L245.4 156.3 L245.7 155.8 L245.8 153.6 L245.7 154.7 L245.9 151.4 L245.8 151.7 L245.9 150.3 L246.0 149.6 L246.1 148.1 L246.1 148.5 L245.8 146.4 L245.8 144.7 L246.1 145.0 L246.2 143.6 L246.1 143.0 L246.2 140.1 L246.1 138.8 L246.3 137.4 L246.0 137.2 L245.9 137.3 L246.3 136.2 L246.3 132.9 L246.4 133.0 L246.2 131.9 L246.0 131.8 L246.1 130.2 L246.1 127.7 L246.3 128.3 L246.2 126.7 L246.3 125.0 L246.5 126.9 L246.5 126.3 L246.4 129.4 L246.7 130.0 L246.6 129.3 L246.9 127.3 L247.0 127.8 L246.8 125.2 L246.9 125.1 L247.0 123.0 L247.1 121.6 L246.7 120.7 L246.7 120.3 L246.7 119.0 L247.0 118.7 L246.8 116.8 L247.0 115.0 L247.0 116.5 L247.2 116.5 L247.1 117.0 L247.3 118.3 L246.9 121.6 L247.1 121.6 L247.3 123.4 L247.4 123.5 L247.0 124.1 L247.0 127.0 L247.2 126.4 L247.1 127.9 L247.3 130.6 L247.2 131.3 L247.3 131.7 L247.2 131.7 L247.4 130.5 L247.5 129.5 L247.4 127.4 L247.4 126.9 L247.6 123.7 L247.5 124.5 L247.3 123.2 L247.6 121.3 L247.6 121.5 L247.5 118.1 L247.4 118.1 L247.3 115.9 L247.5 115.5 L247.4 113.8 L247.5 113.3 L247.7 114.6 L247.4 115.8 L247.5 117.7 L247.8 119.1 L247.7 117.9 L247.6 121.3 L247.6 121.2 L247.5 120.9 L247.6 122.3 L247.8 124.8 L247.8 126.8 L248.0 126.3 L247.8 128.1 L247.9 129.9 L247.8 130.0 L247.9 128.5 L248.1 127.2 L248.2 126.0 L247.7 124.3 L247.8 124.6 L247.8 123.4 L248.1 123.2 L248.3 121.6 L248.2 121.4 L247.9 119.5 L248.1 116.5 L248.1 118.0 L247.9 115.7 L248.4 114.2 L248.4 113.6 L248.1 110.9 L248.5 110.2 L248.3 110.0 L248.6 110.0 L248.6 111.6 L248.3 113.5 L248.4 115.9 L248.2 116.3 L248.7 117.8 L248.6 116.9 L248.3 118.5 L248.6 119.9 L248.8 122.7 L248.6 124.0 L248.4 124.2 L248.6 125.5 L248.8 125.7 L248.5 126.5 L248.7 128.3 L249.2 130.0 L249.0 127.9 L249.4 128.0 L249.2 125.7 L249.3 125.8 L249.3 124.2 L249.1 122.0 L249.2 122.0 L249.2 121.8 L249.2 120.9 L249.3 117.8 L249.3 117.5 L249.3 117.4 L249.6 116.0 L249.4 114.3 L249.5 114.5 L249.2 111.3 L249.4 110.0 L249.5 110.0 L249.6 110.0 L249.4 112.0 L249.8 113.4 L249.4 113.7 L249.5 115.0 L249.7 117.8 L249.5 117.6 L249.5 117.6 L249.8 121.0 L249.8 120.2 L249.7 121.0 L249.6 122.9 L249.9 125.1 L249.6 125.6 L249.8 126.7 L249.8 126.0 L249.6 124.8 L249.6 124.3 L249.8 121.3 L249.7 120.1 L250.1 120.3 L249.8 118.2 L249.8 118.0 L250.0 116.1 L249.8 115.0 L250.0 112.9 L250.2 114.3 L250.0 110.7 L249.8 110.6 L250.0 109.9 L250.0 108.3 L250.0 108.1 L250.4 107.4 L250.3 105.0 L250.3 103.8 L250.3 102.6 L250.7 102.0 L251.0 100.6 L250.9 97.8 L250.7 98.9 L250.8 96.3 L251.2 95.9 L251.3 94.1 L251.3 93.3 L251.7 91.7 L252.0 90.1 L251.8 89.4 L252.4 87.1 L252.5 87.2 L252.7 89.3 L252.9 88.4 L252.6 91.2 L252.9 91.3 L252.7 91.3 L253.2 93.4 L253.0 96.4 L253.3 97.3 L253.3 98.3 L253.3 98.3 L253.5 100.9 L253.5 102.0 L253.6 100.9 L253.6 103.0 L253.8 103.8 L253.7 105.6 L253.9 105.9 L254.0 107.7 L253.9 109.3 L254.2 110.0 L254.2 111.3 L254.5 113.2 L254.5 114.4 L254.9 114.0 L254.7 116.0 L254.8 116.5 L255.0 118.3 L255.3 117.8 L255.4 115.9 L255.3 113.9 L255.4 113.1 L255.7 112.0 L255.6 111.9 L255.8 110.0 L256.3 107.8 L256.5 107.8 L256.8 106.4 L257.0 104.7 L256.8 105.2 L256.9 106.7 L257.2 109.6 L257.5 110.0 L257.2 111.5 L257.2 111.4 L257.6 113.9 L257.5 114.2 L257.6 114.8 L257.7 116.7 L257.9 118.4 L257.9 119.8 L257.6 119.8 L257.9 120.6 L257.5 121.4 L257.9 122.7 L257.6 125.4 L257.9 126.5 L257.5 126.5 L257.6 128.5 L257.9 127.9 L257.6 129.8 L257.5 131.4 L257.6 130.9 L257.7 133.3 L257.4 131.9 L257.8 130.8 L257.8 129.5 L257.5 129.2 L257.8 126.5 L257.7 126.7 L257.6 128.1 L257.9 128.0 L257.6 131.2 L257.9 131.4 L257.6 131.7 L258.0 132.8 L257.9 134.7 L257.8 134.5 L258.0 136.1 L258.2 137.4 L258.3 137.8 L258.3 139.3 L258.2 140.4 L258.0 141.9 L258.4 144.2 L258.4 143.8 L258.5 145.5 L258.3 146.7 L258.3 146.5 L258.5 148.1 L258.6 150.8 L258.4 151.2 L258.3 153.1 L258.7 152.7 L258.9 154.3 L258.6 154.4 L258.5 155.9 L258.5 156.6 L258.8 158.5 L258.8 160.0 L258.8 158.9 L259.0 158.4 L258.8 158.0 L259.1 155.6 L259.3 154.1 L259.4 152.5 L259.1 151.8 L259.3 151.4 L259.1 149.4 L259.3 150.2 L259.5 146.7 L259.4 146.8 L259.7 145.1 L259.6 144.0 L259.7 143.3 L259.7 143.5 L259.7 140.6 L260.0 140.2 L260.0 138.4 L260.3 136.5 L260.4 136.0 L260.4 134.5 L260.3 132.3 L260.5 132.5 L260.7 135.0 L260.7 135.3 L260.7 135.9 L261.0 136.1 L260.9 138.8 L260.9 139.8 L261.1 140.9 L261.3 141.7 L261.6 142.8 L261.9 144.1 L262.5 145.0 L262.7 146.1 L262.6 146.3 L262.9 149.1 L263.1 150.1 L263.0 151.2 L263.4 152.0 L263.3 153.3 L263.8 152.5 L264.1 150.6 L264.5 150.0 L264.8 152.6 L264.5 152.9 L264.6 153.9 L265.2 156.1 L264.9 156.7 L265.0 158.2 L265.3 159.4 L265.6 158.2 L265.5 160.8 L265.8 159.5 L265.7 159.1 L265.7 158.5 L265.8 157.4 L265.9 153.7 L265.9 152.7 L266.0 153.2 L266.3 151.7 L266.3 149.6 L266.7 148.8 L266.7 149.5 L266.5 148.6 L266.5 147.0 L266.8 146.2 L266.6 144.6 L267.0 141.6 L266.9 141.8 L266.7 141.6 L266.9 140.0 L267.0 139.2 L267.3 136.4 L267.2 135.5 L267.2 135.0 L267.1 134.8 L267.3 133.3 L267.2 130.9 L267.4 131.9 L267.5 129.5 L267.7 127.0 L267.8 127.9 L267.6 125.7 L267.9 124.6 L267.8 124.3 L267.8 122.8 L268.0 121.7 L268.1 121.7 L268.3 119.2 L268.4 117.1 L268.5 116.3 L268.4 114.3 L268.6 114.6 L268.7 113.0 L268.8 113.8 L268.8 114.6 L269.1 115.1 L269.2 117.1 L269.2 119.2 L269.1 120.6 L269.3 122.2 L269.6 123.7 L269.7 124.3 L269.7 125.0 L269.8 125.9 L269.6 128.5 L269.8 127.2 L269.7 129.5 L270.1 129.8 L269.8 131.3 L270.1 131.9 L270.1 133.0 L270.1 135.1 L270.4 136.1 L270.5 135.8 L270.3 138.3 L270.2 138.6 L270.5 141.3 L270.4 141.8 L270.6 143.6 L270.6 144.6 L270.9 145.2 L270.9 145.7 L271.1 146.0 L270.9 148.9 L271.3 149.6 L271.4 149.4 L271.3 151.7 L271.2 153.9 L271.3 153.1 L271.5 154.3 L271.7 156.1 L271.9 156.6 L272.1 157.9 L271.9 160.1 L272.0 159.7 L272.3 161.7 L272.2 162.3 L272.6 164.5 L272.4 166.4 L272.7 164.8 L272.8 167.0 L272.6 168.0 L272.9 168.2 L272.7 170.6 L273.0 171.5 L272.9 173.7 L272.9 173.0 L273.0 175.0 L273.0 175.0 L273.1 173.1 L273.2 171.4 L273.2 169.7 L273.0 170.3 L273.5 167.7 L273.1 168.3 L273.5 166.1 L273.4 165.6 L273.4 162.4 L273.7 162.9 L273.7 160.3 L273.7 160.0 L274.7 158.3 L274.8 159.9 L274.7 159.2 L274.9 161.2 L274.7 162.3 L274.8 164.4 L274.9 165.8 L275.2 166.2 L275.2 166.1 L275.4 167.1 L275.3 168.1 L275.1 170.2 L275.3 171.7 L275.4 172.5 L275.3 173.6 L275.5 175.1 L275.7 177.5 L275.7 177.0 L275.8 179.7 L276.2 179.9 L276.2 180.3 L276.2 181.7 L276.0 180.0 L276.2 178.2 L276.1 179.4 L276.4 177.1 L276.1 175.5 L276.2 175.1 L276.5 175.1 L276.3 172.1 L276.0 171.5 L276.5 170.4 L276.3 168.9 L276.1 168.9 L276.1 168.4 L276.4 165.6 L276.3 165.0 L276.3 164.7 L276.5 166.1 L276.4 166.9 L276.4 168.6 L276.6 169.4 L276.6 171.7 L276.8 173.7 L276.8 173.2 L277.0 175.0 L276.9 174.9 L277.0 173.5 L277.2 173.0 L277.5 170.8 L277.2 168.3 L277.5 168.9 L277.5 167.9 L277.5 166.1 L277.6 164.8 L277.7 164.1 L278.0 162.1 L278.0 161.7 L278.3 159.3 L278.1 159.4 L278.3 157.2 L278.6 157.2 L278.5 155.7 L278.7 155.0 L278.6 155.0 L279.0 154.2 L279.2 153.1 L279.2 149.8 L279.0 149.8 L279.3 149.8 L279.3 148.1 L279.6 144.9 L279.5 145.0 L279.5 142.9 L279.6 143.1 L279.9 141.5 L280.0 139.2 L280.0 138.1 L280.2 138.6 L280.1 135.6 L280.3 135.8 L280.7 138.7 L281.2 138.3 L281.2 139.3 L281.5 141.2 L281.4 142.3 L281.5 143.2 L281.8 143.3 L281.8 146.7 L281.7 147.9 L281.7 148.7 L282.0 149.5 L282.0 150.0 L282.3 152.4 L282.1 153.4 L282.2 154.3 L282.3 154.1 L282.6 156.7 L282.6 158.0 L282.4 157.2 L282.5 159.5 L282.6 160.0 L282.8 161.7 L283.0 159.5 L283.1 158.6 L283.2 157.7 L282.9 156.5 L282.8 155.6 L283.1 154.6 L283.4 152.3 L283.0 152.1 L283.2 152.7 L283.1 149.5 L283.5 147.9 L283.5 148.1 L283.4 146.0 L283.5 147.0 L283.8 145.9 L283.7 143.3 L283.9 141.1 L283.9 139.7 L284.0 140.9 L284.2 139.0 L284.1 136.8 L284.1 136.0 L284.4 134.7 L284.5 134.7 L284.5 133.7 L284.7 133.5 L284.5 131.3 L284.7 130.0 L284.7 130.2 L284.9 126.6 L285.3 127.3 L285.3 126.0 L285.5 125.8 L285.5 123.3 L285.6 121.9 L285.7 121.6 L286.1 118.3 L286.0 119.2 L286.3 117.0 L286.6 118.7 L286.3 118.2 L286.5 120.4 L286.8 122.8 L286.8 122.5 L286.6 124.2 L286.6 126.3 L286.8 124.8 L286.9 125.8 L287.0 128.3 L287.3 129.2 L287.3 130.3 L287.3 132.5 L287.2 132.0 L287.3 133.9 L287.4 135.4 L287.6 135.6 L287.4 138.7 L287.7 138.3 L287.5 136.7 L287.5 134.9 L288.0 134.7 L288.1 134.3 L288.0 133.5 L287.7 131.6 L287.9 129.9 L287.9 129.4 L288.1 128.1 L288.1 126.8 L288.3 124.5 L288.3 125.3 L288.3 123.3 L288.6 120.9 L289.0 122.2 L288.8 120.7 L289.3 119.9 L289.7 116.8 L289.7 116.3 L290.0 118.5 L289.9 118.1 L289.9 119.7 L290.2 122.1 L290.3 122.0 L290.4 125.0 L290.5 125.0 L290.7 127.6 L290.7 129.1 L291.2 128.6 L291.3 130.0 L291.7 131.9 L291.6 132.7 L291.7 134.0 L292.0 135.4 L291.8 134.5 L291.8 138.3 L292.2 138.3 L292.0 140.3 L292.4 141.0 L292.2 141.0 L292.4 142.1 L292.4 144.0 L292.4 144.6 L292.5 147.5 L292.3 148.6 L292.4 148.5 L292.7 149.2 L292.6 149.8 L292.8 152.6 L292.5 151.6 L292.9 154.1 L292.9 154.3 L292.7 156.0 L292.5 158.7 L292.6 158.1 L292.7 158.7 L292.9 161.4 L293.0 160.9 L292.8 163.1 L293.1 165.1 L293.0 165.3 L293.3 163.4 L293.0 164.0 L293.4 160.5 L293.1 161.7 L293.5 160.4 L293.6 158.9 L293.4 158.8 L293.8 157.2 L293.7 154.5 L293.9 154.5 L293.7 153.0 L293.8 151.7 L293.9 149.8 L294.2 148.4 L293.9 149.5 L294.2 147.8 L294.3 145.0 L294.2 145.8 L294.2 142.7 L294.4 143.6 L294.3 142.6 L294.5 139.4 L294.4 140.5 L294.7 138.3 L294.9 136.0 L294.9 134.9 L294.8 133.8 L295.2 134.4 L295.1 132.5 L295.1 130.3 L295.5 129.8 L295.5 130.1 L295.5 128.3 L295.7 129.6 L295.6 129.5 L295.6 131.1 L295.7 133.6 L295.8 133.5 L296.0 136.2 L296.0 136.2 L296.3 138.6 L296.2 138.4 L296.1 140.7 L296.3 140.8 L296.2 139.0 L296.6 138.5 L296.5 136.3 L296.6 137.5 L296.9 134.6 L296.7 134.9 L296.9 131.5 L297.1 132.1 L296.9 130.7 L296.9 129.1 L297.1 127.7 L297.2 126.7 L297.5 126.7 L297.3 125.6 L297.2 124.5 L297.6 123.2 L297.5 121.9 L297.4 121.1 L297.9 119.5 L298.0 117.0 L298.0 115.3 L298.0 115.0 L298.1 113.7 L298.4 111.7 L298.2 112.1 L298.3 111.7 L298.6 108.7 L298.9 108.1 L298.8 106.7 L298.9 106.6 L298.6 103.8 L298.8 101.7 L298.8 101.7 L298.8 103.1 L298.8 105.4 L298.8 104.8 L299.1 105.5 L298.9 107.9 L298.7 108.6 L298.8 110.0 L298.8 108.4 L299.1 107.6 L298.7 106.8 L298.7 104.3 L299.0 104.0 L298.8 104.3 L298.9 102.9 L298.9 101.1 L298.7 98.6 L299.0 99.2 L299.1 97.3 L298.8 97.4 L299.0 94.2 L298.8 94.7 L299.0 91.9 L299.1 90.8 L298.9 91.3 L298.9 89.6 L299.0 88.7 L298.9 88.9 L299.0 91.8 L299.0 92.6 L299.2 94.0 L299.1 94.7 L299.0 95.6 L299.3 97.9 L299.3 97.8 L299.2 97.7 L299.5 99.2 L299.3 99.7 L299.5 103.2 L299.3 103.9 L299.5 103.7 L299.6 105.0 L299.5 106.7 L299.7 105.1 L299.7 104.7 L299.6 104.7 L299.4 103.6 L299.5 102.2 L299.7 100.1 L299.7 99.7 L300.0 97.0 L300.0 96.8 L299.7 95.5 L299.8 95.2 L300.0 93.3 L299.8 94.4 L300.1 94.9 L300.1 97.5 L300.2 97.7 L300.0 99.5 L300.2 100.2 L300.0 101.9 L300.1 101.9 L300.1 102.4 L300.3 105.3 L300.4 104.9 L300.4 105.8 L300.1 107.1 L300.3 109.2 L300.8 108.3 L300.9 106.5 L301.1 105.4 L300.8 106.1 L301.0 104.4 L300.8 102.8 L301.2 102.7 L300.9 99.0 L300.8 98.7 L301.2 97.8 L301.2 95.6 L300.8 95.2 L301.0 95.7 L300.9 92.6 L300.9 91.9 L301.0 90.3 L301.2 90.0 L301.3 91.4 L301.5 91.6 L301.7 93.3 L301.8 95.2 L301.9 95.2 L301.8 97.6 L301.7 97.9 L302.0 98.1 L301.6 100.6 L302.0 102.6 L302.0 101.3 L301.9 103.0 L301.8 105.8 L302.0 106.0 L302.0 106.3 L302.0 108.3 L302.3 107.0 L302.1 105.2 L301.9 103.7 L301.9 102.8 L301.9 102.9 L301.9 102.5 L302.3 100.9 L302.0 98.4 L302.1 99.1 L302.1 98.4 L302.4 95.8 L302.4 94.6 L302.1 95.0 L302.4 92.9 L302.4 90.6 L302.4 91.3 L302.1 89.7 L302.1 89.6 L302.4 88.0 L302.4 85.6 L302.3 85.0 L302.6 83.6 L302.8 81.4 L302.7 81.7 L302.8 82.5 L302.9 83.8 L302.7 84.5 L302.7 84.8 L302.9 86.1 L302.7 88.8 L303.0 90.8 L302.6 91.8 L302.9 92.2 L302.6 93.1 L302.8 95.1 L303.0 95.3 L302.6 95.5 L302.8 98.4 L302.7 97.1 L303.0 100.8 L302.8 99.8 L303.0 102.8 L302.8 103.0 L303.2 103.6 L303.0 105.0 L303.0 102.5 L303.3 101.5 L303.3 100.5 L303.2 101.4 L303.2 98.1 L303.1 98.2 L303.1 96.1 L302.9 96.8 L303.1 95.9 L303.0 93.1 L303.2 92.5 L303.4 91.7 L303.2 90.4 L303.1 90.6 L303.2 86.8 L303.1 86.5 L303.0 85.6 L303.3 85.9 L303.4 84.6 L303.4 83.1 L303.3 81.3 L303.5 81.9 L303.4 82.7 L303.5 84.9 L303.4 84.8 L303.6 87.7 L303.3 89.3 L303.3 88.2 L303.7 90.8 L303.7 91.6 L303.6 92.4 L303.7 94.6 L303.7 95.0 L303.8 95.6 L303.5 96.9 L303.7 97.6 L303.8 98.7 L303.7 99.6 L303.7 100.9 L303.6 103.5 L303.8 103.3 L304.0 100.8 L303.9 100.7 L303.9 100.2 L303.7 98.0 L304.2 98.6 L304.0 95.9 L303.8 94.8 L304.3 95.3 L304.0 92.3 L304.3 92.4 L304.1 90.6 L304.4 88.8 L304.4 89.5 L304.3 86.2 L304.4 87.5 L304.3 85.0 L304.2 86.0 L304.5 86.1 L304.5 87.2 L304.4 90.0 L304.6 91.8 L304.2 92.2 L304.4 93.2 L304.7 93.4 L304.3 95.9 L304.4 95.7 L304.4 97.7 L304.7 98.5 L304.7 98.9 L304.8 100.5 L304.5 103.4 L304.4 103.5 L304.7 104.1 L304.6 105.9 L304.7 106.7 L304.5 104.2 L304.6 104.6 L304.9 102.8 L304.9 103.4 L305.0 100.4 L305.0 100.0 L305.2 98.3 L304.9 96.8 L305.3 96.5 L304.9 94.6 L305.0 93.4 L305.1 92.9 L305.1 92.9 L305.1 91.0 L305.4 90.8 L305.4 88.7 L305.5 87.1 L305.4 86.7 L305.2 85.2 L305.5 83.4 L305.3 83.3 L305.7 81.7 L305.8 82.4 L305.7 83.8 L305.6 84.3 L305.8 85.8 L305.5 87.5 L305.7 89.1 L305.7 88.5 L306.0 90.0 L305.7 92.1 L305.7 92.4 L305.8 93.6 L306.0 96.2 L306.1 97.0 L305.7 98.1 L305.8 97.5 L306.0 99.2 L306.0 101.9 L305.9 102.0 L306.0 103.3 L306.2 103.5 L305.8 100.6 L305.9 101.3 L305.9 99.8 L306.0 98.1 L306.0 97.7 L306.0 94.3 L306.4 95.2 L306.3 93.6 L306.1 91.5 L306.5 89.8 L306.3 88.5 L306.2 88.3 L306.5 87.4 L306.2 85.7 L306.5 85.7 L306.2 84.2 L306.2 84.1 L306.3 81.0 L306.5 80.8 L306.5 79.7 L306.6 80.9 L306.5 83.0 L306.7 81.7 L306.5 82.7 L306.6 84.2 L306.4 87.0 L306.8 86.8 L306.4 89.0 L306.8 90.1 L306.5 90.4 L306.6 92.2 L306.5 91.9 L306.5 93.7 L306.8 94.7 L306.7 96.3 L306.6 98.1 L307.0 97.9 L307.0 100.5 L306.8 101.3 L306.8 101.7 L306.9 101.3 L306.8 98.2 L307.1 97.0 L306.9 96.4 L306.8 95.8 L307.1 95.1 L307.0 93.3 L307.2 95.3 L306.9 95.0 L307.2 97.4 L307.0 97.4 L307.3 97.9 L307.3 99.9 L307.1 100.7 L307.3 102.3 L307.1 104.4 L307.2 105.0 L307.4 106.6 L307.2 106.8 L307.5 107.2 L307.2 109.7 L307.3 110.0 L308.0 111.7 L308.8 110.8 L308.7 110.9 L308.6 114.5 L308.8 115.3 L308.9 115.8 L308.9 116.6 L309.0 116.9 L308.7 118.2 L308.9 120.9 L308.8 121.7 L309.0 123.7 L308.7 125.2 L308.8 123.7 L308.8 127.1 L309.2 127.5 L309.1 127.6 L309.2 130.8 L309.1 130.6 L309.4 131.4 L309.3 134.0 L309.4 133.8 L309.5 135.4 L309.5 136.2 L309.4 138.3 L309.6 139.1 L309.7 140.2 L309.7 139.8 L309.5 143.0 L309.4 144.5 L309.7 144.2 L309.7 145.8 L309.7 145.6 L309.9 145.0 L309.7 141.1 L310.0 140.1 L309.9 139.6 L309.9 138.9 L310.4 139.1 L310.2 136.9 L310.4 135.1 L310.7 134.0 L310.5 133.3 L310.7 133.6 L310.5 132.1 L310.7 128.9 L310.8 127.8 L311.1 129.2 L310.9 128.0 L310.9 124.7 L311.0 123.8 L311.3 123.3 L311.7 122.2 L312.2 120.8 L312.3 122.5 L312.2 123.5 L312.5 125.1 L312.4 126.2 L312.4 126.6 L312.6 126.6 L312.5 129.4 L312.9 131.3 L312.9 132.5 L312.7 132.6 L313.0 133.2 L313.0 135.0 L313.8 133.3 L313.7 135.9 L313.9 134.2 L314.2 136.4 L314.4 136.8 L314.5 138.6 L314.3 139.8 L314.7 140.5 L314.7 142.8 L314.7 142.4 L315.0 145.6 L314.6 147.3 L315.2 146.8 L315.0 148.3 L315.3 147.3 L314.9 145.4 L315.2 146.3 L315.3 144.1 L315.7 143.0 L315.7 143.0 L315.8 139.8 L315.7 138.0 L315.8 138.3 L315.8 138.5 L316.0 135.7 L316.1 134.1 L315.8 134.2 L315.9 133.8 L316.1 132.0 L316.0 129.3 L316.4 130.6 L316.4 127.9 L316.6 128.2 L316.3 125.8 L316.7 124.6 L316.6 124.1 L316.5 123.3 L316.8 121.3 L316.7 120.0 L317.7 118.3 L317.9 118.6 L317.9 119.3 L317.8 122.1 L318.0 124.2 L318.1 123.2 L318.2 125.6 L318.2 125.0 L318.3 128.3 L318.7 128.1 L318.7 130.0 L318.9 132.2 L318.6 131.3 L318.9 134.1 L318.7 134.1 L318.9 135.4 L319.3 136.9 L318.9 136.9 L319.0 139.4 L319.2 139.2 L319.2 142.5 L319.4 141.7 L319.4 142.4 L319.4 145.0 L319.4 146.4 L319.7 146.7 L319.8 144.3 L320.1 144.1 L320.1 141.9 L320.1 142.4 L320.3 139.6 L320.4 140.3 L320.5 138.3 L320.8 137.0 L320.9 136.2 L321.1 133.6 L321.3 133.3 L321.6 132.3 L321.5 132.4 L321.4 129.3 L321.8 129.0 L321.8 126.8 L321.8 127.8 L321.9 126.4 L322.2 124.4 L322.0 122.0 L322.2 121.7 L322.1 122.0 L322.4 118.8 L322.5 119.0 L322.7 118.4 L322.5 114.5 L322.8 113.4 L322.9 112.2 L323.0 112.5 L322.9 114.0 L323.1 115.8 L323.2 117.2 L323.3 117.4 L323.5 117.5 L323.3 117.9 L323.7 119.9 L323.4 121.6 L323.7 122.1 L323.6 124.8 L323.8 125.0 L323.8 124.6 L323.8 122.8 L323.8 121.7 L324.2 122.7 L324.3 125.3 L324.3 125.9 L324.1 125.4 L324.5 128.6 L324.5 129.2 L324.7 130.0 L324.9 130.5 L324.6 132.4 L324.8 133.0 L325.2 133.4 L325.2 137.0 L325.0 135.6 L325.2 137.0 L325.3 140.2 L325.1 141.3 L325.3 141.7 L325.2 141.4 L325.6 144.9 L325.4 145.0 L325.4 147.1 L325.4 146.7 L325.6 149.7 L325.9 150.2 L326.0 150.8 L326.0 152.5 L325.7 154.1 L325.8 154.6 L326.0 155.0 L326.0 155.7 L325.9 158.7 L325.9 158.3 L326.2 161.0 L326.2 161.3 L326.1 162.7 L326.4 162.8 L326.5 164.8 L326.5 164.8 L326.4 167.2 L326.5 167.4 L326.3 167.7 L326.5 170.0 L326.4 170.6 L326.7 170.9 L326.7 173.3 L326.8 172.8 L326.8 170.2 L326.8 170.8 L326.8 168.0 L326.7 167.4 L327.0 165.5 L327.1 165.8 L326.8 163.3 L326.7 163.2 L327.0 161.4 L327.2 160.8 L327.1 160.0 L327.2 158.8 L326.9 157.1 L327.3 157.7 L327.0 154.2 L327.3 153.3 L327.0 151.9 L327.1 151.8 L327.3 150.0 L327.1 148.7 L327.3 147.7 L327.4 146.8 L327.4 145.7 L327.5 145.0 L328.1 142.1 L328.3 143.6 L328.7 141.7 L328.7 141.3 L328.9 145.3 L329.3 144.3 L329.0 147.6 L329.4 147.6 L329.4 147.6 L329.7 150.0 L329.8 151.5 L329.9 152.6 L329.6 153.0 L330.1 153.1 L330.2 156.6 L330.2 155.4 L330.0 156.8 L330.4 158.0 L330.4 160.9 L330.5 160.8 L330.4 161.5 L330.3 163.8 L330.3 164.1 L330.4 166.4 L330.5 165.6 L330.8 168.2 L330.9 169.0 L330.8 170.0 L330.7 169.6 L330.8 167.9 L330.8 165.9 L331.0 164.3 L331.2 165.5 L331.0 162.2 L331.2 162.5 L331.1 159.8 L331.4 160.2 L331.5 157.7 L331.5 157.0 L331.4 156.8 L331.5 156.8 L331.6 154.2 L331.7 153.3 L332.0 153.3 L332.0 151.9 L332.2 150.7 L332.5 150.3 L332.2 148.6 L332.5 146.7 L332.6 145.7 L332.8 143.5 L332.9 142.2 L332.9 141.8 L333.1 141.2 L333.4 140.9 L333.1 139.1 L333.3 137.0 L334.2 138.3 L334.2 139.9 L334.2 141.8 L334.1 141.3 L334.4 142.7 L334.2 143.3 L334.2 145.0 L334.5 145.2 L334.5 146.8 L334.5 148.4 L334.4 148.4 L334.9 150.7 L334.6 151.0 L334.9 152.3 L335.0 153.9 L334.7 153.6 L334.8 155.3 L334.9 156.9 L335.0 158.3 L335.0 158.6 L335.4 156.3 L335.2 155.4 L335.2 154.8 L335.6 151.4 L335.4 151.8 L335.6 149.3 L335.6 149.1 L335.8 147.7 L335.6 146.8 L335.6 147.2 L335.8 144.3 L335.7 145.3 L336.1 141.9 L336.0 141.7 L336.0 139.4 L336.2 140.2 L335.9 139.2 L336.1 138.3 L336.2 137.0 L336.3 136.1 L336.1 133.2 L336.1 132.8 L336.6 130.7 L336.6 130.8 L336.5 128.5 L336.3 128.2 L336.8 126.6 L336.6 126.7 L336.7 125.0 L337.8 125.3 L338.0 126.8 L337.9 128.8 L338.1 127.5 L337.8 128.9 L338.0 129.9 L338.0 132.3 L337.8 133.1 L338.1 134.9 L338.2 134.9 L338.3 137.8 L337.9 139.0 L338.1 138.5 L338.3 139.3 L338.0 142.2 L338.5 142.2 L338.2 144.4 L338.3 143.3 L338.4 145.6 L338.3 146.7 L338.3 146.9 L338.2 150.3 L338.3 150.3 L338.5 151.8 L338.4 153.4 L338.5 154.4 L338.4 153.2 L338.6 154.4 L338.7 158.0 L338.5 158.4 L338.8 158.9 L338.9 158.9 L338.8 161.0 L339.1 163.2 L339.0 163.3 L338.9 163.4 L339.0 164.3 L339.4 167.2 L339.4 169.3 L339.5 168.0 L339.4 170.9 L339.5 172.8 L339.4 171.4 L339.6 172.6 L339.8 175.1 L339.5 174.5 L339.7 178.4 L340.0 177.5 L340.1 178.2 L340.0 181.6 L339.8 181.9 L340.2 183.1 L340.2 184.7 L340.3 185.1 L340.5 182.5 L340.8 183.3 L341.4 181.7 L342.6 179.9 L342.5 180.0 L342.6 183.1 L342.8 183.1 L342.5 184.9 L342.8 186.0 L342.6 186.6 L342.8 188.4 L342.4 189.7 L342.5 190.7 L342.6 191.7 L342.7 190.4 L342.6 187.9 L342.6 187.5 L342.6 187.6 L342.5 185.8 L342.6 183.6 L342.6 183.0 L342.4 184.2 L342.6 186.0 L342.5 186.0 L342.8 188.5 L342.5 189.9 L342.6 188.7 L342.8 189.7 L342.5 192.6 L342.7 193.1 L342.5 193.5 L342.7 196.3 L342.4 196.9 L342.5 197.0 L342.7 197.7 L342.8 200.3 L342.8 201.4 L342.6 202.3 L342.6 202.9 L342.6 205.8 L342.5 204.4 L342.6 206.1 L342.6 208.1 L342.6 209.2 L342.7 209.3 L342.3 205.9 L342.6 206.4 L342.6 205.2 L342.6 202.4 L342.6 203.5 L342.4 200.2 L342.6 201.5 L342.7 198.3 L342.8 199.3 L342.7 197.4 L342.6 194.8 L342.5 195.7 L342.8 192.8 L342.3 193.2 L342.6 190.3 L342.6 191.7 L342.4 190.3 L342.4 188.4 L342.4 186.6 L342.6 186.0 L342.4 187.1 L342.7 188.7 L342.7 190.6 L342.8 189.5 L342.8 191.9 L342.4 192.9 L342.4 194.6 L342.6 196.5 L342.6 197.5 L342.7 197.1 L342.6 199.3 L342.5 199.2 L342.4 201.6 L342.6 201.2 L342.6 203.3 L342.4 202.6 L342.8 200.4 L342.7 199.3 L342.4 198.2 L342.8 197.6 L342.4 197.2 L342.6 195.9 L342.7 194.2 L342.4 193.1 L342.4 192.5 L342.8 190.3 L342.6 189.9 L342.6 189.1 L342.6 187.1 L342.5 185.0 L342.8 183.9 L342.6 184.0 L342.7 186.2 L342.8 185.3 L342.7 186.7 L342.6 188.9 L342.5 190.2 L342.6 191.6 L342.8 192.5 L342.5 192.2 L342.6 194.0 L342.4 192.5 L342.7 192.8 L342.6 190.7 L342.4 190.6 L342.7 188.1 L342.6 187.5 L342.4 185.6 L342.5 185.7 L342.8 185.3 L342.6 183.0 L342.5 185.4 L342.4 185.2 L342.4 185.9 L342.9 187.4 L342.6 189.2 L342.9 189.0 L342.8 189.5 L342.5 192.8 L342.8 194.2 L342.7 193.7 L342.7 195.4 L342.9 197.3 L342.5 196.9 L342.8 199.2 L342.5 200.0 L343.0 199.5 L342.8 201.4 L342.6 204.2 L342.6 204.3 L342.9 205.2 L342.9 205.2 L343.0 208.6 L343.1 209.2 L342.9 210.1 L343.0 211.5 L343.0 212.0 L342.8 211.9 L343.1 213.4 L342.9 215.0 L342.8 214.7 L342.7 214.1 L342.9 210.5 L343.2 209.4 L342.9 209.1 L343.0 209.3 L343.0 207.6 L343.2 206.0 L343.0 204.4 L342.9 203.8 L343.1 201.8 L343.0 202.5 L343.3 199.3 L343.3 198.4 L343.2 197.1 L343.0 196.2 L343.3 195.9 L343.1 194.8 L343.2 193.6 L343.4 192.2 L343.0 190.8 L343.2 190.7 L343.0 190.1 L343.2 188.8 L343.2 188.4 L343.2 185.9 L343.3 185.0 L343.2 186.2 L343.3 187.8 L343.3 189.0 L343.5 189.4 L343.6 191.3 L343.3 191.6 L343.4 191.9 L343.5 193.2 L343.6 195.7 L343.6 197.5 L343.8 197.5 L343.6 195.7 L343.9 194.3 L343.7 194.4 L344.0 193.9 L344.0 191.7 L343.9 191.2 L343.9 188.5 L344.0 189.8 L343.9 187.9 L344.3 187.1 L344.1 184.9 L344.0 184.2 L344.2 183.0 L344.1 183.4 L344.3 186.0 L344.6 188.0 L344.7 189.0 L344.2 190.2 L344.8 189.4 L344.6 191.7 L344.7 191.5 L344.7 189.6 L344.6 187.8 L344.7 187.0 L345.0 184.6 L345.1 184.6 L345.0 182.6 L345.0 182.0 L345.2 182.5 L345.1 183.4 L345.0 185.5 L345.1 185.3 L345.3 187.7 L345.0 187.9 L345.3 189.3 L345.3 190.2 L345.0 190.8 L345.3 193.8 L345.3 193.3 L345.3 196.7 L345.3 196.7 L345.2 197.7 L345.5 199.9 L345.3 199.5 L345.7 200.2 L345.5 202.2 L345.5 202.0 L345.6 200.2 L345.4 197.9 L345.5 198.3 L345.4 196.7 L345.5 194.0 L345.8 194.7 L345.8 194.5 L345.5 192.0 L345.8 192.1 L345.6 190.7 L345.9 189.5 L345.9 186.6 L346.0 185.1 L346.1 184.4 L346.0 184.0 L346.2 184.2 L346.2 186.5 L346.1 188.6 L346.2 188.9 L346.4 190.6 L346.4 191.4 L346.4 191.7 L346.7 189.8 L346.7 190.7 L346.7 187.7 L346.8 187.5 L346.7 186.6 L346.9 184.3 L346.8 183.8 L346.6 183.3 L346.9 181.0 L346.9 180.8 L347.1 182.2 L347.2 183.4 L346.8 185.0 L347.1 187.6 L347.1 187.9 L347.3 189.4 L347.2 190.5 L347.1 191.5 L347.0 193.4 L347.4 194.6 L347.2 195.2 L347.3 194.8 L347.2 192.4 L347.4 190.5 L347.7 191.6 L347.6 188.4 L347.6 189.1 L347.5 188.0 L347.7 185.4 L347.7 185.3 L347.8 183.5 L348.0 181.8 L347.8 181.0 L347.8 179.4 L347.7 179.6 L347.8 178.3 L348.0 175.4 L347.8 175.0 L347.7 175.7 L347.7 172.2 L348.0 171.3 L347.6 171.2 L347.8 170.0 L347.8 168.2 L347.7 166.8 L347.8 167.6 L347.8 164.6 L347.8 163.1 L347.6 163.4 L347.7 162.0 L347.9 161.3 L347.9 160.6 L347.8 158.3 L348.4 157.2 L348.4 155.0 L348.9 155.5 L348.8 152.3 L349.0 151.8 L349.2 152.5 L349.4 150.2 L349.6 152.0 L349.6 151.9 L349.6 153.3 L349.8 154.9 L349.9 155.0 L349.8 156.2 L349.9 158.3 L350.3 160.5 L350.3 160.3 L350.4 160.5 L350.0 162.1 L350.2 164.9 L350.4 165.3 L350.3 167.3 L350.6 166.5 L350.7 167.6 L351.0 169.5 L351.2 171.1 L351.1 172.3 L351.0 174.5 L351.5 175.9 L351.3 176.0 L351.3 176.0 L351.3 177.4 L351.6 179.3 L351.5 180.9 L351.6 182.6 L351.4 184.1 L351.6 185.4 L351.4 186.1 L351.6 187.0 L351.6 188.7 L351.8 190.0 L351.8 189.4 L351.7 192.4 L352.1 193.2 L352.1 194.6 L352.3 195.2 L352.3 196.3 L352.2 198.2 L352.4 198.7 L352.5 200.1 L352.6 200.1 L352.7 203.3 L353.0 204.4 L353.0 203.8 L353.1 205.7 L353.4 203.0 L353.1 203.7 L353.4 202.2 L353.4 201.5 L353.7 201.1 L353.9 197.4 L353.9 197.5 L353.9 199.8 L354.3 200.5 L354.0 202.1 L354.2 203.2 L354.6 204.2 L354.8 204.4 L355.0 206.6 L354.8 206.8 L355.1 209.5 L355.4 209.9 L355.5 210.0 L355.8 211.5 L355.7 212.7 L356.1 213.1 L356.2 216.0 L356.2 216.7 L356.4 217.6 L356.4 217.0 L356.3 221.1 L356.6 220.8 L356.4 221.9 L356.8 222.4 L356.8 223.0 L356.8 226.2 L356.8 225.9 L356.6 227.3 L356.7 230.0 L356.4 230.4 L356.5 229.7 L356.8 231.1 L356.7 233.3 L356.9 233.8 L356.6 236.1 L356.7 237.4 L356.6 238.0 L357.0 240.0 L356.9 240.4 L356.7 240.9 L357.0 242.0 L356.8 243.8 L357.0 244.1 L356.8 244.6 L356.9 246.9 L356.9 249.3 L357.3 250.1 L357.2 250.0 L357.2 251.7 L357.3 251.9 L357.5 249.1 L357.5 247.6 L357.3 246.6 L357.4 245.4 L357.4 245.9 L357.6 242.8 L357.4 243.1 L357.3 242.3 L357.6 240.5 L357.6 239.8 L357.5 236.7 L357.6 236.1 L357.6 235.3 L357.7 234.6 L357.7 233.3 L357.6 233.3 L357.6 230.4 L358.0 228.8 L357.8 230.0 L358.2 227.2 L358.3 227.5 L358.1 226.7 L358.1 222.9 L358.0 223.0 L358.3 221.1 L358.3 221.2 L358.4 218.5 L358.4 217.2 L358.8 216.1 L358.5 217.2 L359.0 215.8 L358.7 214.3 L358.9 212.7 L358.8 212.4 L359.2 209.1 L359.3 208.4 L358.9 208.7 L359.2 205.7 L359.3 204.7 L359.1 205.0 L359.1 203.3 L359.4 203.2 L359.4 201.5 L359.6 198.6 L359.5 199.5 L359.5 197.5 L359.6 196.6 L359.6 195.9 L359.7 193.4 L359.5 192.0 L360.0 191.7 L359.7 191.1 L360.0 189.4 L359.9 188.4 L360.1 187.0 L360.1 185.8 L360.1 185.7 L360.2 184.3 L360.0 181.4 L360.0 180.8 L360.0 180.2 L360.2 180.4 L360.2 177.6 L359.9 177.9 L360.3 176.0 L360.3 174.2 L360.0 174.2 L360.2 171.3 L360.0 170.9 L360.1 170.0 L360.2 168.7 L360.3 168.7 L359.9 167.2 L359.8 165.0 L360.0 163.4 L360.1 162.1 L360.2 160.8 L360.0 160.4 L360.0 160.0 L360.1 158.3 L360.3 158.2 L360.3 161.4 L360.1 161.8 L360.9 163.0 L361.6 162.4 L361.6 162.9 L361.6 165.2 L362.0 167.1 L361.7 167.0 L362.0 167.3 L362.0 170.4 L362.0 170.4 L362.5 172.6 L362.4 172.3 L362.6 174.4 L362.4 173.7 L362.7 174.5 L362.6 175.8 L363.0 177.2 L362.7 180.2 L362.8 181.9 L363.0 181.7 L363.0 181.9 L362.9 185.1 L363.1 186.3 L363.1 187.6 L363.0 186.8 L363.2 189.3 L363.3 191.1 L363.2 192.4 L363.3 192.2 L363.6 195.0 L363.7 194.2 L363.7 195.0 L363.9 196.8 L363.9 199.3 L363.7 199.0 L364.1 201.4 L364.3 200.7 L364.2 203.3 L364.1 205.6 L364.3 205.7 L364.4 208.0 L364.4 208.0 L364.1 209.1 L364.3 210.5 L364.4 211.0 L364.4 211.9 L364.7 214.5 L364.7 214.9 L364.6 215.1 L364.7 218.0 L364.5 218.2 L364.7 221.0 L364.6 221.3 L364.8 222.0 L364.8 219.8 L365.0 219.5 L364.9 219.1 L365.0 217.8 L365.1 215.5 L364.9 215.6 L364.7 213.4 L365.0 213.7 L364.8 212.5 L365.1 210.9 L365.2 210.2 L365.1 207.6 L365.1 206.3 L364.8 206.6 L365.1 205.2 L364.8 205.3 L365.2 203.2 L365.3 201.0 L365.1 201.0 L365.1 201.1 L365.0 197.9 L365.2 196.8 L365.5 197.1 L365.5 195.5 L365.4 194.0 L365.3 191.7 L365.2 190.7 L365.2 191.7 L365.4 189.2 L365.2 188.7 L365.6 186.4 L365.3 186.1 L365.6 185.3 L365.6 186.3 L365.5 188.9 L365.5 187.7 L366.1 189.9 L365.7 191.6 L365.9 192.0 L366.1 194.4 L366.0 194.5 L366.2 195.1 L366.2 196.0 L366.3 197.5 L366.4 197.4 L366.5 201.3 L366.9 201.0 L367.0 203.1 L367.1 203.3 L367.3 204.1 L367.4 204.8 L367.3 205.4 L367.6 207.0 L367.5 209.9 L367.9 210.3 L367.8 212.6 L368.2 214.0 L368.2 214.2 L368.1 216.3 L368.0 217.2 L368.3 218.1 L368.1 219.3 L368.4 218.5 L368.5 221.1 L368.5 221.1 L368.4 224.5 L368.6 224.3 L368.9 224.1 L368.7 222.5 L368.8 220.6 L368.6 218.6 L368.8 217.9 L368.9 218.5 L369.1 217.2 L369.3 216.1 L369.2 213.8 L369.4 215.7 L369.8 215.3 L370.0 217.3 L370.2 218.0 L370.2 218.3 L370.1 220.3 L370.5 222.1 L370.2 224.5 L370.5 225.6 L370.4 225.5 L370.6 225.7 L370.6 227.7 L370.6 230.1 L370.6 230.1 L371.4 230.1 L371.5 229.4 L371.5 226.7 L371.4 225.3 L371.6 226.8 L371.6 223.2 L371.8 221.9 L371.6 221.2 L372.0 221.2 L372.0 218.2 L371.9 218.7 L371.7 217.1 L372.1 215.7 L372.1 215.0 L372.4 213.4 L372.3 212.3 L372.3 212.5 L372.2 210.6 L372.0 210.4 L372.0 207.6 L372.3 207.2 L372.5 207.4 L372.3 204.8 L372.5 202.9 L372.2 202.9 L372.2 202.8 L372.4 199.8 L372.3 200.9 L372.6 197.8 L372.7 196.9 L372.4 194.9 L372.7 194.6 L372.6 194.0 L372.7 191.8 L372.8 192.8 L372.3 191.4 L372.4 189.4 L372.4 187.3 L372.6 187.8 L372.5 185.0 L372.8 183.7 L372.6 184.4 L372.8 183.8 L372.4 180.6 L372.6 179.4 L372.6 179.4 L372.6 178.7 L372.7 176.4 L372.3 176.9 L372.4 174.5 L372.5 174.1 L372.7 173.2 L372.6 172.4 L372.6 170.0 L372.8 169.2 L372.5 168.6 L372.8 165.6 L372.8 164.4 L372.6 165.7 L372.6 164.6 L372.6 163.0 L372.4 160.4 L372.6 160.1 L372.6 161.9 L372.6 161.2 L372.5 162.7 L372.7 165.5 L372.9 166.3 L372.7 166.5 L372.7 167.6 L373.0 169.7 L372.8 170.0 L372.9 170.5 L372.6 171.4 L373.1 173.8 L373.2 173.9 L372.9 176.1 L373.2 177.3 L373.3 176.7 L373.0 178.6 L373.2 179.6 L373.1 181.1 L373.3 180.9 L373.3 183.8 L373.5 184.0 L373.1 184.0 L373.4 185.1 L373.3 187.7 L373.2 188.8 L373.7 188.5 L373.3 192.0 L373.6 192.4 L373.8 193.2 L373.8 194.6 L373.9 195.8 L373.9 195.3 L373.7 197.5 L374.0 198.2 L374.1 200.7 L373.8 201.7 L374.1 202.2 L374.0 202.1 L374.1 204.7 L374.1 205.2 L374.0 207.5 L374.3 208.5 L374.2 208.8 L374.4 210.3 L374.2 210.9 L374.3 212.7 L374.5 211.2 L374.7 209.3 L374.6 209.2 L374.4 207.7 L374.7 206.5 L375.0 204.5 L374.8 204.8 L374.8 202.0 L375.0 201.7 L375.0 201.0 L375.1 198.8 L375.3 198.0 L375.4 198.1 L375.6 197.1 L375.8 193.9 L375.8 194.0 L376.0 192.7 L375.9 192.8 L376.0 191.3 L375.9 189.4 L376.2 188.7 L376.3 186.4 L376.4 185.3 L376.3 186.0 L376.5 188.1 L376.4 187.4 L376.4 191.0 L376.6 190.4 L376.8 191.7 L376.4 194.6 L376.5 193.6 L376.6 195.3 L376.9 197.1 L376.5 196.6 L376.7 197.8 L376.8 199.0 L376.9 200.8 L377.1 203.6 L377.0 203.2 L377.0 203.6 L377.1 206.8 L376.8 205.9 L377.0 208.0 L377.2 208.0 L376.9 206.4 L377.0 204.8 L377.4 204.0 L377.1 201.7 L377.6 201.7 L377.4 200.2 L377.7 198.2 L377.6 197.5 L377.6 197.7 L378.0 194.3 L377.8 193.8 L378.1 192.3 L378.0 193.1 L378.1 191.5 L378.4 189.1 L378.4 189.5 L378.4 187.0 L378.6 186.4 L378.6 185.8 L378.4 183.6 L378.4 181.0 L378.2 180.7 L378.4 181.3 L378.2 180.0 L378.6 177.2 L378.6 176.9 L378.3 175.2 L378.6 175.0 L378.5 172.9 L378.5 172.6 L378.5 170.5 L378.5 169.4 L378.8 171.5 L379.1 171.5 L379.2 173.0 L379.3 174.7 L380.0 175.4 L380.3 177.0 L380.5 177.1 L380.3 174.3 L380.5 173.3 L380.6 171.0 L380.4 172.4 L380.7 171.1 L380.8 170.3 L380.9 168.3 L380.7 166.3 L381.1 166.4 L380.8 164.8 L381.1 163.0 L381.1 161.4 L381.4 160.5 L381.5 159.9 L381.3 158.3 L381.2 158.3 L381.3 156.8 L381.4 155.2 L381.3 154.5 L381.4 153.2 L381.5 152.4 L381.7 150.9 L381.3 148.7 L381.6 149.3 L381.7 147.5 L381.5 147.0 L381.6 146.2 L381.8 144.3 L381.7 142.6 L381.6 143.3 L381.6 144.5 L381.9 145.7 L382.0 145.9 L381.8 149.0 L381.7 149.7 L382.0 151.2 L381.8 151.3 L381.7 151.9 L381.9 154.8 L381.9 154.8 L381.6 155.2 L381.9 156.8 L381.9 158.3 L382.0 158.6 L381.9 160.2 L381.9 162.5 L382.2 163.7 L381.9 163.8 L382.1 165.3 L382.2 167.4 L382.2 167.8 L382.3 168.9 L382.4 168.6 L382.1 171.3 L382.3 173.3 L381.9 173.6 L382.1 174.8 L382.3 175.8 L382.3 175.7 L382.0 177.3 L381.9 177.7 L382.2 179.5 L382.0 182.5 L382.1 181.8 L382.1 183.9 L382.0 185.2 L382.1 185.8 L382.3 185.6 L382.2 188.8 L382.6 188.0 L382.9 189.2 L382.8 191.7 L382.8 193.4 L382.8 193.7 L383.1 193.9 L383.5 197.5 L383.5 198.3 L383.5 198.9 L383.7 200.3 L383.8 201.0 L384.1 199.5 L384.0 198.1 L384.4 198.0 L384.3 195.9 L384.3 194.9 L384.6 194.0 L384.8 194.8 L384.6 195.5 L384.7 196.9 L384.5 199.4 L384.6 199.8 L384.9 201.4 L384.7 201.4 L384.8 202.8 L385.1 205.6 L384.9 206.5 L384.8 206.7 L385.2 207.9 L385.0 208.0 L385.3 209.5 L385.1 210.9 L385.2 212.7 L385.4 210.2 L385.5 210.4 L385.6 209.8 L385.4 207.3 L385.4 207.1 L385.8 207.0 L385.8 204.5 L385.9 202.1 L385.8 203.0 L386.1 201.0 L386.6 200.7 L386.9 203.3 L387.5 202.1 L387.7 201.0 L388.1 201.9 L387.8 204.4 L388.1 204.6 L388.3 205.5 L388.4 207.4 L388.3 207.3 L388.4 209.2 L388.6 210.5 L388.9 210.0 L388.8 212.5 L389.1 214.9 L389.3 215.0 L389.8 214.7 L390.1 212.7 L390.4 214.2 L390.2 213.7 L390.4 215.2 L390.2 216.5 L390.4 217.4 L390.6 219.8 L390.8 220.8 L390.7 221.9 L391.0 223.3 L391.0 223.1 L391.4 224.4 L391.6 226.7 L391.6 225.0 L391.6 222.8 L391.7 221.6 L391.5 222.3 L391.6 220.0 L391.8 220.0 L391.7 221.2 L391.6 224.3 L391.4 225.8 L391.8 226.6 L391.8 228.2 L391.6 228.3 L391.7 227.0 L391.8 227.2 L391.8 224.2 L392.0 223.0 L392.3 224.1 L392.5 221.7 L392.8 222.4 L392.6 224.5 L392.7 224.0 L393.1 225.7 L393.2 227.2 L392.8 227.9 L392.9 230.9 L393.3 231.7 L393.5 231.4 L393.6 233.0 L393.7 234.5 L393.5 236.8 L393.7 236.7 L393.9 236.1 L393.6 234.9 L394.1 233.9 L393.8 231.3 L394.2 229.8 L394.4 228.8 L394.6 228.6 L394.4 228.5 L394.5 226.7 L394.5 224.6 L394.8 224.7 L394.6 224.4 L394.9 220.7 L395.0 221.5 L395.1 220.7 L395.2 219.1 L395.3 216.5 L395.0 216.9 L395.3 214.3 L395.3 214.2 L395.7 214.8 L395.6 216.0 L396.0 217.9 L396.1 218.6 L396.1 221.1 L396.2 221.7 L396.9 222.1 L397.3 219.2 L397.5 221.1 L397.4 220.1 L397.5 223.1 L397.8 224.2 L398.1 224.6 L398.2 227.1 L398.2 227.0 L398.3 228.3 L398.7 230.9 L398.3 230.9 L398.4 232.9 L398.9 231.6 L399.0 233.0 L398.8 235.6 L399.4 237.3 L399.5 237.7 L399.3 238.3 L399.4 240.4 L399.8 241.7 L399.5 242.5 L399.9 242.8 L399.7 244.0 L399.8 245.4 L399.9 246.7 L400.1 248.6 L400.3 249.2 L400.3 249.3 L400.7 247.3 L400.8 244.8 L400.9 244.7 L400.9 242.5 L401.1 243.3 L401.1 240.4 L401.3 240.0 L401.4 240.2 L402.0 237.7 L402.3 236.7 L402.3 235.2 L403.0 232.9 L403.0 232.8 L403.3 231.7 L403.2 232.7 L403.7 232.8 L403.4 235.9 L403.4 235.8 L403.7 236.9 L403.8 239.3 L404.1 240.8 L403.7 241.1 L404.1 241.0 L404.3 242.1 L404.0 243.1 L404.2 247.0 L404.3 246.7 L404.5 247.9 L404.5 247.7 L404.8 249.6 L404.9 252.0 L404.9 251.3 L404.8 254.6 L405.2 254.0 L405.0 257.0 L405.3 256.7 L405.4 258.3 L405.7 259.0 L405.7 258.8 L405.9 260.6 L405.8 262.9 L406.1 262.3 L406.1 265.0 L406.4 266.3 L406.3 266.7 L407.5 268.0 L407.7 266.1 L407.5 266.5 L407.6 265.6 L407.8 264.6 L408.1 263.5 L407.9 261.7 L408.1 259.6 L408.1 259.4 L408.0 258.5 L408.1 256.2 L408.3 255.0 L408.3 252.9 L408.6 251.3 L408.6 251.9 L408.8 251.2 L408.6 249.7 L408.7 247.5 L409.2 245.8 L409.2 244.6 L409.3 244.1 L409.3 243.3 L409.7 243.3 L410.0 242.5 L410.2 239.5 L410.0 239.5 L410.3 237.5 L410.5 238.2 L410.5 241.1 L410.9 242.5 L411.0 242.8 L411.1 243.4 L411.3 245.0 L411.6 244.5 L412.0 243.2 L411.8 239.9 L412.3 240.0 L412.3 242.5 L412.5 243.3 L412.4 242.7 L412.8 244.5 L412.6 244.5 L413.1 246.4 L412.9 248.9 L413.1 249.0 L413.1 251.1 L413.3 251.7 L413.4 250.1 L413.4 248.6 L413.5 248.9 L413.4 245.8 L413.4 246.1 L413.6 244.5 L413.5 243.3 L413.4 243.6 L413.5 242.5 L413.8 240.4 L413.9 238.8 L413.7 239.0 L413.7 235.5 L414.0 236.7 L413.9 235.2 L414.0 233.3 L414.2 231.7 L414.3 231.2 L414.1 228.9 L414.5 229.2 L414.5 227.4 L414.5 225.2 L414.6 224.7 L414.4 223.4 L414.7 222.2 L414.7 221.7 L415.0 223.5 L414.6 223.7 L414.8 226.1 L415.0 227.0 L414.8 227.3 L415.3 227.9 L415.4 229.7 L415.4 231.9 L415.2 233.6 L415.5 233.3 L415.6 234.2 L415.8 234.4 L415.7 235.8 L415.6 237.3 L415.7 239.0 L415.9 239.3 L415.6 241.8 L415.7 243.9 L415.9 242.9 L416.0 244.5 L415.9 247.2 L416.2 247.4 L416.2 248.3 L416.2 246.5 L416.5 245.9 L416.3 245.7 L416.4 242.5 L416.5 243.5 L416.6 241.1 L416.7 238.9 L416.5 239.6 L416.9 237.7 L416.8 236.1 L416.9 235.2 L416.9 234.2 L417.0 233.3 L417.2 233.5 L417.1 232.6 L417.2 229.9 L417.3 230.0 L417.3 228.3 L417.4 226.8 L417.5 226.8 L417.7 225.8 L417.8 222.9 L417.9 223.5 L417.9 222.1 L418.0 220.0 L417.9 219.2 L418.2 218.7 L418.2 217.1 L418.3 216.3 L418.7 213.9 L418.6 214.1 L418.7 213.2 L418.9 210.8 L418.8 211.2 L418.8 208.7 L419.1 206.4 L419.0 206.7 L419.2 208.8 L419.4 208.8 L419.3 208.6 L419.5 210.4 L419.6 211.8 L419.6 214.5 L419.5 213.3 L419.9 216.6 L420.0 216.7 L419.9 217.6 L420.0 217.7 L420.1 221.2 L420.4 220.6 L420.4 222.4 L420.7 223.8 L420.6 225.9 L420.7 224.9 L421.0 226.7 L420.9 227.2 L421.3 227.5 L421.4 229.3 L421.5 232.0 L421.5 230.8 L421.6 234.4 L421.5 234.7 L421.7 236.5 L421.7 236.2 L421.7 237.7 L422.1 239.4 L422.0 240.0 L421.9 239.3 L422.4 237.5 L422.3 235.6 L422.5 236.1 L422.3 233.9 L422.5 233.9 L422.8 232.5 L422.7 231.8 L423.0 230.0 L423.4 230.3 L423.3 228.7 L423.7 227.0 L424.0 225.0 L424.4 224.6 L424.9 222.5 L425.0 221.7 L425.1 222.7 L425.1 224.7 L425.3 226.4 L425.4 227.6 L425.8 226.5 L425.8 228.0 L426.0 230.0 L427.0 228.3 L427.2 228.6 L427.3 231.2 L427.0 230.6 L427.1 233.0 L427.4 234.5 L427.7 236.3 L427.7 236.6 L427.6 237.2 L427.9 237.1 L427.9 239.9 L427.9 240.6 L428.0 241.7 L428.1 241.9 L428.6 238.3 L428.7 239.1 L428.6 238.7 L428.8 235.0 L429.0 235.0 L429.0 236.2 L429.1 238.2 L429.2 240.0 L429.6 239.2 L429.6 240.2 L429.6 241.5 L429.6 243.3 L430.0 245.6 L429.7 247.1 L430.0 247.0 L430.2 244.1 L430.5 245.1 L431.0 244.5 L431.0 241.7 L431.0 241.0 L431.0 239.0 L431.4 237.8 L431.2 236.4 L431.7 235.8 L431.4 235.0 L431.7 233.3 L432.7 231.7 L432.7 230.3 L433.0 230.4 L433.4 228.2 L433.3 226.6 L433.4 227.6 L433.7 225.0 L433.8 224.0 L433.9 222.2 L434.1 221.3 L434.1 220.5 L434.1 219.4 L434.0 217.8 L434.1 216.5 L434.4 214.4 L434.3 214.7 L434.2 214.1 L434.6 211.2 L434.8 209.8 L434.7 210.0 L435.0 211.1 L434.8 213.3 L434.9 212.9 L435.0 215.2 L435.3 216.2 L435.2 217.4 L435.2 218.5 L435.3 219.1 L435.7 221.3 L435.5 221.3 L435.6 221.1 L435.7 223.3 L435.7 223.6 L435.9 222.0 L436.1 220.7 L436.5 219.2 L436.7 216.3 L436.7 216.7 L436.8 215.5 L437.2 213.5 L437.3 213.7 L437.7 211.7 L437.6 209.2 L437.8 209.7 L438.1 208.9 L438.1 206.6 L438.2 204.8 L438.1 205.1 L438.2 204.0 L438.5 203.7 L438.7 202.4 L438.7 200.0 L439.7 201.7 L439.9 199.7 L439.8 199.8 L440.1 198.9 L440.0 197.8 L440.4 197.5 L440.5 194.8 L440.4 195.4 L440.4 191.9 L440.7 191.7 L440.6 190.5 L440.9 188.6 L440.9 186.8 L441.0 186.7 L441.0 185.1 L440.8 183.8 L441.1 184.5 L441.4 181.7 L441.3 180.8 L441.3 180.0 L441.4 177.8 L441.6 178.9 L441.8 177.6 L441.4 174.8 L441.8 173.4 L441.7 173.5 L441.7 172.8 L441.9 171.4 L442.0 170.0 L442.2 170.1 L442.3 171.3 L442.2 174.1 L442.1 174.3 L442.4 174.5 L442.4 176.3 L442.3 177.4 L442.7 177.9 L442.4 179.8 L442.5 182.2 L442.6 181.4 L442.9 183.5 L443.1 183.1 L443.1 186.1 L443.0 186.7 L443.1 187.5 L443.1 187.7 L443.2 191.1 L443.5 192.3 L443.3 193.5 L443.7 193.1 L443.5 193.9 L443.8 194.1 L443.8 196.7 L444.0 195.4 L444.5 193.1 L444.7 192.5 L444.8 192.9 L444.7 195.0 L444.7 197.1 L444.8 196.2 L444.6 197.8 L444.8 200.0 L444.7 199.9 L445.0 202.3 L444.9 202.4 L444.9 203.1 L444.8 205.2 L445.0 206.4 L444.8 205.9 L445.0 208.3 L444.8 209.2 L445.1 210.7 L445.2 212.0 L445.2 213.1 L445.3 212.8 L445.2 216.2 L445.2 217.0 L445.0 217.0 L445.3 218.2 L445.4 220.2 L445.4 220.5 L445.0 221.2 L445.3 222.5 L445.1 224.6 L445.4 223.6 L445.5 225.2 L445.1 227.3 L445.5 228.3 L445.6 228.6 L445.2 229.2 L445.5 231.8 L445.6 232.9 L445.2 232.9 L445.4 235.0 L445.4 235.7 L445.4 238.1 L445.5 238.7 L445.7 238.7 L445.5 239.7 L445.7 240.6 L445.5 243.1 L445.7 242.6 L445.7 244.3 L445.4 246.3 L445.7 247.0 L445.9 244.6 L445.5 245.8 L445.7 242.9 L445.7 243.5 L445.6 242.8 L445.6 241.5 L446.1 239.6 L446.1 238.8 L446.2 236.7 L445.9 237.1 L446.2 235.7 L446.0 233.0 L446.1 233.5 L446.1 232.8 L446.0 230.4 L446.4 228.8 L446.4 227.6 L446.3 228.0 L446.1 225.5 L446.3 225.0 L446.6 222.6 L446.9 224.0 L447.0 220.8 L446.8 220.1 L447.2 220.3 L447.1 218.4 L447.3 216.7 L447.3 214.4 L447.4 213.7 L447.6 213.5 L448.0 211.4 L447.6 210.7 L448.0 208.5 L448.1 207.5 L448.2 206.4 L448.3 206.7 L448.4 205.9 L448.7 203.5 L448.7 204.6 L448.9 203.3 L448.8 200.6 L449.0 199.5 L448.8 197.7 L449.0 197.5 L449.1 198.5 L449.0 201.2 L449.1 199.6 L449.0 203.2 L449.3 203.3 L449.2 205.4 L449.6 205.9 L449.5 208.1 L449.6 207.5 L449.6 209.7 L449.6 210.7 L449.6 212.0 L449.5 211.8 L449.6 213.9 L449.7 214.2 L449.8 215.7 L450.0 218.5 L450.0 218.3 L450.0 219.6 L450.3 220.7 L450.2 221.7 L450.1 222.4 L450.1 223.1 L450.1 224.4 L450.4 225.9 L450.6 226.1 L450.6 228.2 L450.7 229.2 L450.4 231.1 L450.5 231.8 L450.7 233.5 L450.5 233.1 L450.6 236.4 L451.1 235.4 L450.9 235.9 L451.0 238.3 L451.1 237.0 L451.3 236.9 L451.0 234.5 L451.0 233.1 L451.3 232.1 L451.1 232.8 L451.6 229.9 L451.4 229.7 L451.3 227.1 L451.6 226.4 L451.6 224.8 L451.7 225.0 L451.5 224.7 L451.8 222.0 L452.1 221.8 L452.0 220.8 L452.2 218.6 L452.5 217.7 L452.3 216.7 L452.4 217.9 L452.5 219.4 L452.6 220.0 L452.8 221.4 L452.7 221.7 L452.9 224.7 L452.7 224.6 L452.8 224.6 L452.9 226.5 L453.0 227.1 L452.9 229.1 L453.2 230.5 L453.1 230.2 L453.3 230.9 L453.3 233.3 L453.3 232.7 L453.5 231.3 L453.3 228.6 L453.8 228.8 L453.6 228.2 L453.5 225.8 L453.8 225.8 L453.5 223.9 L453.9 222.4 L453.8 222.7 L453.9 221.9 L453.8 218.3 L454.1 219.6 L454.0 216.2 L454.1 215.9 L454.4 213.7 L454.1 214.0 L454.3 211.5 L454.3 211.7 L454.6 211.8 L454.8 210.4 L454.5 208.7 L454.9 206.4 L455.0 205.8 L454.9 206.7 L455.4 206.8 L455.2 209.7 L455.5 210.3 L455.5 210.5 L455.7 211.9 L455.9 214.7 L455.7 214.6 L455.7 215.5 L456.1 218.5 L456.0 218.3 L456.5 218.7 L456.6 215.8 L456.7 215.9 L457.0 213.3 L457.2 215.7 L457.1 215.0 L457.1 217.4 L457.2 217.3 L457.7 218.0 L457.8 221.8 L457.8 221.5 L457.8 223.2 L457.7 223.9 L458.0 225.0 L458.1 225.3 L458.4 226.8 L458.4 227.5 L458.8 230.6 L459.0 231.9 L459.0 231.7 L459.1 232.0 L459.3 235.0 L459.2 234.4 L459.1 236.6 L459.5 236.8 L459.4 239.2 L459.6 240.1 L459.4 240.7 L459.8 243.0 L459.9 243.3 L459.9 245.6 L460.2 246.7 L460.0 247.0 L460.3 244.5 L460.3 244.6 L460.0 244.3 L460.1 242.7 L460.3 242.0 L460.4 239.8 L460.7 239.9 L460.8 237.3 L460.9 235.8 L461.0 235.9 L461.2 234.8 L461.0 233.3 L461.2 235.2 L461.5 236.1 L461.7 236.4 L462.0 238.3 L462.3 238.1 L462.3 237.5 L462.3 235.0 L462.5 234.5 L462.7 234.1 L462.6 231.3 L462.9 229.2 L462.8 229.2 L463.0 228.3 L463.2 228.0 L463.2 231.8 L463.6 232.4 L463.7 233.3 L463.9 233.1 L464.0 235.0 L464.3 234.1 L464.1 232.7 L464.4 232.7 L464.5 229.9 L464.3 228.1 L464.6 229.1 L464.6 227.7 L464.7 225.6 L464.9 225.4 L465.0 223.3 L465.0 221.9 L465.0 220.2 L465.1 220.4 L465.3 217.6 L465.6 217.4 L465.4 216.1 L465.6 216.6 L465.6 214.0 L465.5 212.2 L465.8 211.7 L465.8 209.5 L466.0 208.5 L466.0 208.3 L466.2 209.0 L466.2 211.5 L466.1 211.5 L466.5 212.1 L466.3 215.1 L466.8 216.7 L466.7 216.1 L466.7 218.2 L467.0 218.4 L467.0 220.0 L467.0 218.8 L466.9 218.0 L467.1 216.6 L467.2 214.6 L467.3 215.0 L467.4 213.3 L467.6 212.0 L467.2 210.3 L467.6 210.2 L467.5 208.6 L467.5 207.3 L467.7 206.7 L468.7 208.3 L468.9 208.1 L468.8 205.5 L468.7 204.9 L468.9 204.6 L469.2 204.2 L468.9 202.8 L469.3 199.4 L469.3 198.3 L469.4 197.4 L469.1 195.9 L469.4 197.2 L469.7 194.9 L469.4 194.7 L469.5 193.4 L469.7 191.7 L469.8 192.8 L470.1 193.3 L470.3 194.7 L470.7 196.7 L470.9 199.1 L471.5 199.1 L471.7 200.0 L471.6 199.4 L472.1 199.1 L471.9 197.7 L472.2 196.5 L472.2 193.0 L472.4 193.9 L472.6 193.6 L472.8 192.1 L472.7 190.0 L473.7 191.7 L474.1 189.9 L474.3 187.5 L474.4 186.6 L474.7 186.7 L474.7 185.2 L475.3 184.6 L475.3 182.0 L475.7 181.7 L475.7 181.2 L475.7 177.8 L475.7 179.2 L475.8 176.7 L475.9 174.9 L476.1 175.5 L476.1 172.9 L475.9 170.8 L476.2 170.6 L476.0 168.8 L476.1 169.8 L476.2 166.3 L476.3 165.3 L476.5 165.3 L476.7 166.7 L476.7 167.1 L476.8 168.4 L476.9 168.9 L477.1 169.8 L477.0 171.6 L477.0 172.7 L477.2 174.1 L477.4 176.8 L477.2 178.5 L477.3 178.3 L478.7 176.7 L478.6 177.9 L478.8 178.3 L478.6 181.4 L478.8 181.8 L478.8 182.5 L479.0 184.0 L479.0 183.9 L478.9 184.1 L479.0 187.8 L479.3 187.5 L479.5 187.6 L479.3 190.0 L479.3 190.0 L479.7 190.3 L479.6 192.1 L479.4 193.8 L479.9 194.7 L480.0 196.7 L479.7 197.5 L480.0 197.9 L480.3 198.0 L480.3 199.3 L480.3 201.7 L480.2 199.9 L480.6 200.8 L480.6 199.0 L480.9 197.4 L480.7 194.8 L480.9 194.2 L481.1 193.6 L480.9 192.0 L481.2 192.9 L481.1 190.3 L481.1 190.1 L481.3 188.3 L482.7 187.5 L482.7 189.3 L482.7 190.7 L483.2 192.2 L483.0 190.6 L483.5 194.5 L483.6 193.7 L483.4 195.8 L483.7 196.7 L483.9 198.5 L484.3 198.0 L484.3 201.1 L484.7 201.7 L484.9 202.6 L484.8 203.5 L485.2 205.1 L485.0 204.9 L485.5 207.2 L485.3 208.3 L485.1 210.9 L485.2 211.0 L485.3 210.9 L485.7 212.9 L485.5 215.4 L485.7 216.3 L485.8 215.2 L485.9 216.9 L485.9 217.6 L485.8 219.8 L485.8 220.0 L485.9 222.8 L485.9 224.6 L485.7 225.5 L486.0 226.2 L486.0 226.7 L486.0 226.6 L486.3 224.3 L486.2 222.5 L486.4 223.1 L486.1 220.9 L486.4 220.5 L486.5 217.8 L486.8 216.4 L486.9 217.1 L486.6 215.6 L487.1 213.7 L486.8 211.4 L487.0 211.7 L487.1 209.4 L487.5 208.7 L487.7 208.3 L487.9 208.2 L487.7 210.4 L487.9 210.5 L488.0 212.3 L488.0 212.7 L488.0 215.0 L488.4 216.1 L488.1 217.5 L488.2 218.7 L488.3 218.4 L488.4 220.6 L488.7 221.7 L488.6 219.8 L488.7 220.5 L489.1 218.7 L489.1 216.9 L489.3 215.3 L489.1 215.2 L489.2 214.1 L489.3 212.3 L489.6 211.1 L489.7 210.0 L489.7 211.8 L489.9 210.9 L490.0 214.6 L490.2 214.8 L490.4 216.0 L490.5 218.0 L490.3 218.7 L490.7 218.2 L490.7 220.0 L491.2 219.2 L491.2 218.7 L491.7 216.7 L491.8 214.5 L491.9 213.2 L491.9 212.5 L492.1 212.5 L491.9 211.2 L492.4 210.8 L492.4 209.7 L492.7 207.8 L492.6 206.9 L492.7 205.0 L492.8 204.5 L493.5 208.0 L493.7 208.3 L493.8 206.7 L494.3 205.6 L494.2 205.4 L494.7 203.3 L494.6 201.3 L494.8 201.8 L495.0 201.2 L495.1 198.0 L495.4 196.7 L495.3 195.2 L495.2 195.2 L495.8 193.6 L495.7 193.3 L496.7 192.5 L497.7 191.7 L497.7 193.9 L498.1 195.0 L498.1 196.1 L498.1 196.3 L498.3 197.9 L498.2 199.7 L498.6 200.6 L498.7 200.4 L498.7 201.7 L498.8 202.2 L499.2 204.3 L499.3 204.5 L499.4 206.9 L499.5 207.0 L499.7 210.0 L499.7 210.0 L500.7 211.7 L501.7 213.3 L502.0 215.1 L502.0 216.0 L502.2 215.7 L502.6 219.3 L502.4 217.5 L502.7 220.0 L503.0 218.0 L503.1 216.7 L503.0 215.5 L503.1 216.7 L503.3 214.3 L503.3 213.6 L503.7 211.7 L503.9 211.2 L504.2 211.0 L504.7 208.3 L504.8 207.8 L505.4 207.6 L505.7 205.0 L505.9 207.4 L506.0 206.0 L505.8 208.1 L506.1 210.8 L506.0 210.4 L506.0 212.4 L506.1 212.4 L506.6 213.4 L506.8 214.8 L506.7 216.7 L506.9 217.2 L506.9 219.7 L506.8 220.5 L507.3 222.3 L507.0 222.6 L507.1 222.4 L507.3 226.2 L507.5 225.4 L507.7 225.8 L507.7 228.3 L507.7 230.3 L508.2 229.1 L508.3 232.6 L508.6 231.9 L508.3 234.3 L508.7 235.0 L508.9 237.6 L509.1 236.4 L509.0 238.7 L508.9 238.2 L508.9 241.6 L509.0 241.0 L509.3 243.0 L509.2 242.1 L509.4 241.6 L509.7 240.4 L509.4 239.9 L509.8 237.0 L509.9 235.8 L509.8 234.7 L509.9 233.3 L509.9 232.3 L510.1 232.4 L509.9 229.6 L510.2 228.7 L510.3 228.9 L510.1 228.1 L510.0 226.1 L510.3 225.0 L511.3 223.3 L511.6 221.8 L511.8 220.4 L511.8 219.1 L511.9 219.5 L512.1 218.3 L512.3 216.7 L512.5 216.2 L513.2 219.4 L513.3 220.0 L513.8 219.3 L514.0 218.0 L514.1 217.4 L514.3 215.0 L515.3 213.3 L515.4 214.7 L515.6 215.0 L516.0 215.8 L516.3 218.3 L516.4 216.6 L516.3 217.0 L516.7 216.1 L516.6 213.0 L516.4 211.9 L516.5 210.9 L516.5 209.1 L517.0 210.3 L516.6 209.4 L517.1 205.9 L516.9 205.8 L517.0 205.6 L516.9 203.4 L517.2 201.7 L516.9 202.8 L517.2 199.8 L517.3 198.8 L517.3 198.3 L517.5 199.6 L517.8 199.6 L517.9 203.1 L518.3 203.3 L518.6 204.6 L518.5 205.8 L518.8 207.9 L518.7 209.3 L518.9 208.8 L519.1 211.0 L519.1 211.3 L519.1 213.4 L519.3 213.3 L519.3 211.1 L519.3 210.4 L519.6 211.4 L519.6 209.8 L519.6 207.8 L519.8 207.8 L520.0 205.3 L520.2 205.5 L520.0 203.3 L520.1 203.2 L520.2 200.2 L520.3 200.0 L520.4 200.5 L520.6 203.1 L520.7 203.7 L521.1 203.2 L521.3 206.4 L521.3 206.7 L521.3 205.9 L521.7 204.4 L521.7 204.2 L521.6 202.6 L522.1 199.8 L521.9 198.6 L522.2 198.6 L522.4 198.4 L522.3 196.7 L522.3 196.8 L522.3 193.6 L522.4 192.7 L522.8 193.4 L522.6 190.8 L522.8 190.9 L522.9 189.3 L523.0 186.7 L523.1 186.3 L523.3 185.0 L523.9 184.0 L524.3 182.5 L524.3 180.6 L524.5 180.3 L524.7 179.0 L524.7 177.0 L525.0 177.6 L525.2 176.4 L525.1 174.8 L525.4 174.9 L525.5 172.5 L525.5 173.5 L525.9 174.4 L525.9 175.6 L525.9 176.0 L525.7 177.5 L525.9 178.7 L526.0 180.9 L525.9 182.6 L526.2 183.8 L526.2 184.7 L526.3 185.0 L526.7 185.4 L526.8 187.6 L526.9 188.4 L527.1 190.9 L527.1 192.0 L527.3 191.7 L527.6 192.2 L527.6 194.8 L527.4 194.8 L527.4 197.4 L527.4 196.3 L527.6 197.8 L527.6 199.1 L527.6 199.2 L527.5 201.7 L528.0 202.7 L528.0 204.3 L527.9 206.0 L527.7 204.8 L528.1 207.4 L528.0 208.3 L527.9 206.7 L528.2 206.8 L528.0 204.8 L528.3 203.9 L528.6 203.2 L528.6 200.2 L528.5 199.7 L528.8 198.6 L528.5 197.8 L528.6 196.7 L528.6 194.2 L528.9 194.1 L529.0 193.3 L529.2 190.5 L529.7 192.5 L530.0 190.0 L530.1 192.5 L530.3 193.6 L530.1 193.0 L530.6 193.4 L530.5 196.0 L530.7 195.7 L530.7 199.1 L530.9 200.4 L531.0 200.0 L531.0 200.2 L531.4 202.9 L531.2 202.4 L531.3 203.4 L531.5 204.7 L531.7 205.9 L531.7 207.0 L531.7 208.6 L532.0 210.0 L531.9 209.8 L532.2 210.8 L532.2 212.0 L532.3 215.6 L532.2 215.0 L532.2 216.5 L532.2 216.5 L532.3 217.9 L532.3 219.5 L532.4 221.4 L532.7 222.3 L532.8 223.3 L532.7 225.2 L532.5 224.7 L532.8 226.7 L532.8 226.1 L532.8 223.8 L533.2 222.4 L533.3 222.1 L533.0 222.1 L533.4 219.2 L533.3 218.1 L533.3 219.0 L533.7 216.4 L533.7 216.6 L533.4 215.0 L533.4 212.0 L533.7 213.4 L534.0 212.2 L533.8 210.0 L534.2 208.0 L533.9 206.9 L534.4 205.7 L534.2 206.5 L534.6 203.9 L534.7 203.7 L534.5 201.2 L534.9 200.4 L534.8 199.2 L535.1 200.7 L535.1 200.7 L535.2 204.0 L535.4 204.9 L535.5 205.0 L535.5 207.0 L535.8 207.7 L536.0 209.9 L535.8 210.0 L536.1 210.7 L536.3 212.4 L536.3 212.5 L536.7 213.7 L536.4 216.2 L536.8 216.7 L536.8 214.4 L537.2 214.7 L537.0 212.9 L537.3 212.5 L537.3 210.9 L537.4 209.5 L537.6 209.8 L537.7 208.4 L537.8 206.7 L537.9 204.6 L538.4 204.9 L538.3 204.5 L538.4 201.2 L538.8 200.8 L538.9 201.1 L539.2 203.7 L538.9 204.5 L539.0 205.0 L539.3 205.9 L539.2 207.7 L539.7 208.1 L539.6 210.3 L539.6 210.5 L539.5 213.0 L539.8 213.3 L540.2 214.9 L539.8 216.0 L540.3 215.3 L540.2 216.8 L540.5 219.3 L540.6 219.4 L540.6 222.3 L540.8 221.9 L540.8 223.3 L541.1 223.3 L541.3 222.3 L541.1 221.2 L541.3 219.1 L541.5 216.2 L541.6 217.5 L541.8 215.0 L542.3 213.1 L542.5 214.1 L542.7 210.8 L542.8 210.0 L542.7 209.9 L543.0 211.1 L543.4 212.8 L543.6 214.6 L543.5 215.9 L543.5 216.7 L543.8 218.3 L544.1 217.1 L544.2 217.4 L544.0 213.8 L544.0 214.8 L544.1 211.4 L544.4 210.3 L544.6 211.0 L544.5 207.9 L544.4 209.0 L544.8 205.7 L544.7 205.8 L544.8 208.2 L545.4 207.6 L545.7 210.0 L545.8 210.1 L545.8 211.1 L546.2 213.3 L546.1 215.5 L546.3 215.1 L546.7 216.7 L546.7 217.9 L547.2 218.4 L547.3 220.5 L547.2 221.4 L547.7 222.8 L547.7 223.3 L548.2 220.8 L548.2 220.6 L548.7 220.0 L549.0 221.6 L548.8 221.2 L549.0 223.3 L549.6 224.5 L549.5 224.1 L549.7 226.7 L549.8 226.7 L550.6 229.2 L550.7 230.0 L550.8 231.2 L550.8 232.5 L551.1 231.9 L551.0 231.6 L551.4 228.1 L551.4 228.2 L551.5 225.7 L551.3 224.5 L551.5 223.4 L551.7 223.3 L552.2 221.8 L552.7 220.8 L552.7 223.2 L552.8 223.3 L552.8 223.8 L552.9 223.8 L553.3 227.1 L553.2 228.1 L553.2 228.4 L553.7 229.0 L553.5 231.1 L553.7 232.0 L553.9 230.8 L554.1 228.7 L554.6 227.8 L554.7 226.7 L555.7 228.3 L555.8 228.4 L556.0 225.7 L556.2 226.1 L556.7 223.3 L557.7 221.7 L557.5 220.5 L557.8 219.3 L557.7 216.9 L557.9 217.2 L557.8 215.5 L558.0 214.5 L558.2 212.7 L558.2 212.0 L558.0 212.3 L558.4 210.5 L558.5 210.6 L558.5 209.3 L558.7 206.4 L558.6 206.8 L558.7 205.0 L558.5 207.4 L558.8 208.4 L559.1 208.5 L559.0 208.5 L558.9 209.1 L559.0 213.0 L559.1 212.6 L559.3 215.2 L559.3 216.0 L559.4 216.0 L559.7 217.5 L559.7 218.3 L560.0 219.8 L560.4 220.2 L560.2 220.5 L560.7 223.3 L560.9 224.9 L560.6 226.6 L560.7 228.0 L560.8 228.1 L560.9 229.4 L560.7 231.4 L560.7 232.5 L560.6 233.1 L560.7 234.1 L560.9 236.2 L561.0 235.7 L560.9 236.1 L560.8 238.3 L560.6 237.6 L560.8 236.0 L560.8 236.4 L561.1 234.3 L561.3 231.7 L561.2 231.9 L561.0 229.9 L561.0 228.9 L561.3 227.5 L561.5 226.9 L561.3 225.1 L561.6 225.1 L561.4 223.4 L561.5 221.7 L561.8 221.3 L561.6 219.8 L561.6 220.1 L562.1 217.0 L561.8 218.4 L561.9 215.5 L562.0 215.0 L562.2 213.0 L562.3 213.8 L562.5 211.2 L562.2 211.6 L562.3 209.7 L562.7 209.4 L562.8 206.6 L562.6 205.1 L562.7 204.5 L563.0 203.3 L563.6 202.1 L563.7 201.4 L564.2 200.0 L564.4 200.2 L564.7 202.3 L564.6 202.3 L564.8 204.3 L564.9 204.6 L565.2 206.7 L565.2 208.0 L565.5 208.5 L565.6 211.6 L565.5 211.0 L565.8 212.7 L566.0 212.6 L566.2 215.0 L566.2 216.5 L566.4 218.0 L566.2 217.2 L566.6 219.7 L566.5 221.0 L566.9 221.5 L566.9 222.9 L567.0 223.5 L566.8 225.4 L567.2 226.7 L567.7 228.7 L568.2 230.7 L568.3 230.0 L568.9 229.7 L569.5 226.9 L570.0 226.7 L570.1 227.5 L570.4 227.7 L570.7 230.7 L570.6 230.0 L570.7 232.7 L571.3 234.6 L571.2 234.9 L571.6 235.8 L571.7 236.7 L571.9 235.0 L572.1 234.6 L572.2 234.0 L572.4 232.1 L572.4 231.1 L572.3 229.1 L572.5 228.7 L572.6 228.8 L572.8 227.4 L573.0 225.0 L573.1 225.3 L573.4 226.8 L573.0 228.8 L573.1 229.0 L573.4 230.7 L573.5 231.3 L573.7 232.9 L573.5 234.7 L573.4 236.3 L573.5 235.7 L573.8 238.9 L574.1 239.7 L574.1 238.7 L574.1 239.7 L574.0 243.0 L574.2 243.3 L574.4 243.4 L574.3 241.1 L574.3 239.0 L574.7 239.0 L574.8 236.8 L574.8 235.4 L574.9 236.1 L575.0 234.5 L575.3 233.3 L575.4 235.8 L576.0 237.2 L576.0 238.6 L576.3 238.3 L576.2 237.8 L576.6 237.5 L576.4 233.6 L576.6 232.7 L577.0 234.1 L577.1 231.2 L577.0 229.1 L576.9 229.1 L577.3 229.6 L577.4 228.7 L577.2 226.5 L577.5 225.0 L577.9 226.0 L578.0 227.4 L578.0 228.2 L578.1 227.9 L578.3 229.6 L578.7 231.7 L579.0 229.0 L579.1 230.7 L579.0 228.9 L579.3 227.7 L579.4 226.5 L579.7 224.2 L580.7 223.3 L580.7 223.9 L580.7 224.9 L581.0 227.5 L581.0 229.4 L581.0 228.7 L581.1 230.6 L581.2 232.7 L581.2 234.0 L581.0 233.7 L581.3 235.0 L581.5 233.3 L581.6 231.3 L581.8 231.7 L581.8 231.8 L582.1 235.1 L582.0 234.1 L581.8 236.4 L582.1 237.0 L582.1 238.5 L582.2 238.7 L582.0 241.4 L582.4 242.5 L582.3 244.6 L582.4 244.7 L582.3 245.8 L582.6 244.6 L582.7 243.2 L582.8 242.5 L582.9 244.4 L582.9 245.2 L583.1 245.6 L583.1 247.1 L583.1 248.1 L583.5 250.0 L583.3 250.8 L583.6 248.8 L583.7 248.7 L583.8 247.5 L583.8 249.1 L583.9 248.4 L584.0 251.1 L584.1 253.4 L584.0 253.8 L583.9 255.3 L584.2 256.8 L584.3 256.7 L584.5 258.1 L584.3 259.2 L584.4 256.7 L584.8 256.7 L584.7 258.0 L585.1 258.1 L584.8 260.1 L584.8 260.7 L584.8 261.5 L585.1 264.7 L584.8 264.1 L585.3 266.9 L585.3 265.5 L585.4 267.9 L585.1 268.7 L585.2 270.0 L585.3 267.3 L585.5 266.7 L585.6 265.4 L585.5 265.0 L585.7 265.7 L585.7 267.9 L585.4 268.7 L585.4 269.0 L585.4 269.8 L585.5 272.0 L585.7 272.6 L585.5 272.9 L585.4 275.4 L585.4 277.0 L585.4 278.3 L585.5 279.8 L585.4 278.8 L585.6 281.0 L585.7 278.5 L586.2 278.0 L586.5 278.7 L586.2 280.0 L586.0 282.2 L586.5 281.5 L586.1 283.4 L586.4 284.1 L586.3 287.5 L586.3 287.9 L586.3 287.7 L586.2 289.2 L586.2 291.6 L586.4 292.0 L586.8 290.1 L586.9 289.0 L587.1 288.9 L587.0 291.7 L586.8 291.7 L587.2 294.6 L587.1 293.5 L586.8 295.2 L586.8 297.4 L587.2 299.3 L586.9 298.9 L587.2 300.7 L587.2 300.6 L587.1 303.0 L587.1 303.1 L586.9 304.3 L587.0 306.5 L587.4 308.6 L587.2 309.2 L587.1 310.1 L587.2 310.7 L587.2 311.7 L587.5 314.0 L587.4 314.8 L587.0 314.8 L587.3 315.7 L587.4 318.3 L587.4 319.8 L587.1 319.2 L587.2 320.8 L587.5 323.0 L587.5 323.2 L587.4 324.9 L587.6 325.2 L587.4 327.3 L587.4 327.6 L587.3 327.8 L587.6 326.0 L587.5 323.5 L588.0 323.0 L588.1 320.6 L587.8 321.8 L588.1 319.4 L588.2 318.0 L588.1 318.8 L588.6 319.8 L588.7 322.7 L588.6 323.0 L588.6 321.9 L588.6 319.5 L589.0 319.9 L588.8 317.3 L589.0 316.1 L588.9 315.4 L588.7 315.5 L588.9 313.9 L588.9 312.0 L589.1 310.5 L589.0 311.9 L589.1 309.2 L589.2 307.4 L588.9 307.8 L589.0 305.8 L589.2 305.0 L589.1 304.3 L589.2 303.6 L589.3 302.2 L589.6 300.0 L589.8 298.8 L590.1 298.6 L590.0 296.0 L590.2 293.8 L590.1 293.4 L590.6 292.3 L590.6 289.8 L590.6 290.0 L590.8 289.0 L590.6 287.6 L590.5 287.6 L590.7 286.0 L590.6 283.0 L590.7 284.1 L590.9 282.0" stroke="#000" stroke-width="1.9" fill="none" stroke-linejoin="bevel" stroke-linecap="butt"/>
<path d="M34.5 163.7 L34.6 161.7 L34.7 162.0 L34.4 159.2 L34.5 158.0 L34.5 158.7 L34.5 156.9 L34.7 155.0 L34.8 155.7 L34.6 151.8 L35.0 151.1 L35.0 152.2 L34.8 150.0 L35.0 152.3 L35.1 153.9 L35.2 152.8 L35.2 154.8 L35.1 156.2 L35.1 156.8 L35.0 157.8 L35.4 160.7 L35.3 160.8 L35.5 161.3 L35.5 158.8 L35.5 156.2 L35.3 156.1 L35.5 154.2 L35.5 153.2 L35.5 153.3 L35.6 150.6 L35.5 149.8 L35.6 148.5 L35.8 147.0 L35.7 148.8 L36.0 146.9 L35.8 145.0 L35.7 144.7 L36.1 148.4 L35.8 149.1 L36.2 149.5 L36.3 152.3 L36.3 151.2 L36.3 153.0 L36.5 153.4 L36.3 155.8 L36.5 155.0 L36.5 152.6 L36.5 152.7 L36.6 150.9 L36.4 149.7 L36.6 148.0 L36.4 146.7 L36.6 145.4 L36.6 145.9 L36.6 143.0 L36.5 142.9 L36.9 140.7 L36.6 139.9 L36.8 139.3 L36.8 137.5 L37.0 137.4 L36.8 136.7 L36.8 136.2 L37.2 139.0 L37.0 140.3 L37.0 142.0 L37.2 141.0 L37.4 145.2 L37.3 145.0 L37.4 143.1 L37.2 143.9 L37.3 141.9 L37.3 139.6 L37.3 138.3 L37.4 136.7 L37.6 135.7 L37.2 136.2 L37.3 135.6 L37.5 133.5 L37.4 131.9 L37.4 131.1 L37.4 131.4 L37.4 130.1 L37.5 127.3 L37.4 125.2 L37.6 125.2 L37.9 125.7 L37.7 123.3 L37.7 122.9 L37.9 124.3 L38.0 126.1 L37.7 127.9 L37.8 127.2 L37.8 131.2 L38.0 131.0 L38.3 131.7 L38.2 133.3 L38.3 131.2 L38.5 131.6 L38.5 130.0 L38.4 128.6 L38.6 128.1 L38.2 127.8 L38.5 124.2 L38.5 125.3 L38.8 122.4 L38.4 121.3 L38.7 120.8 L38.6 120.6 L38.8 124.4 L39.2 125.0 L39.4 124.5 L39.5 124.2 L39.4 121.0 L39.6 121.2 L39.7 118.1 L39.5 116.2 L39.7 116.3 L40.2 116.0 L40.2 118.8 L40.4 117.5 L40.0 119.2 L40.2 118.9 L40.6 121.1 L40.6 121.9 L40.4 125.0 L40.5 125.0 L40.8 127.9 L40.7 127.2 L41.1 128.2 L40.9 129.6 L41.2 130.1 L41.3 131.7 L41.5 131.7 L41.7 132.2 L41.5 133.9 L41.7 136.4 L41.9 138.6 L42.0 138.3 L42.3 139.5 L42.5 139.5 L42.5 142.2 L42.4 144.5 L42.7 145.2 L43.0 145.0 L43.2 147.7 L43.7 146.0 L44.0 149.2 L44.0 151.8 L44.2 151.4 L44.3 151.7 L44.3 152.1 L44.3 155.8 L44.3 155.1 L44.5 157.9 L44.7 158.3 L45.3 160.0 L45.5 162.6 L45.7 161.0 L45.7 165.0 L45.7 165.9 L45.8 166.7 L45.6 167.5 L45.8 168.3 L45.9 168.3 L45.6 170.9 L45.9 172.1 L46.0 172.8 L45.8 175.1 L45.8 176.0 L45.8 176.3 L45.8 178.6 L45.8 179.8 L46.0 180.0 L45.8 181.1 L45.8 180.3 L46.0 182.5 L46.1 184.8 L45.8 184.8 L46.0 186.3 L45.7 185.9 L45.7 187.2 L46.1 188.8 L46.1 189.6 L45.7 191.0 L45.6 194.3 L45.6 192.7 L45.8 195.0 L45.9 194.6 L45.8 196.2 L46.2 196.7 L46.0 197.9 L46.4 200.8 L46.4 202.2 L46.5 203.5 L46.3 205.1 L46.5 205.0 L46.6 202.4 L46.6 202.8 L46.4 202.6 L46.6 201.2 L46.6 199.2 L46.8 197.6 L47.0 197.4 L46.9 195.4 L46.9 193.7 L47.0 192.8 L46.8 194.3 L46.8 192.7 L46.8 189.9 L46.8 189.3 L47.1 189.0 L47.2 187.0 L47.0 185.2 L47.2 185.0 L47.0 183.4 L47.1 184.1 L47.6 180.3 L47.5 181.7 L47.4 179.2 L47.7 176.6 L47.6 176.3 L47.7 177.5 L48.0 175.0 L48.2 173.4 L47.9 173.4 L48.2 172.2 L48.4 170.7 L48.3 170.0 L48.3 168.8 L48.3 166.7 L48.5 168.0 L48.4 169.3 L48.6 168.4 L48.5 170.6 L48.6 171.5 L48.8 173.0 L48.8 174.8 L48.7 176.5 L48.8 176.7 L49.0 175.6 L49.1 175.1 L49.0 174.5 L48.9 172.2 L49.1 170.0 L49.3 169.7 L49.1 167.1 L49.2 168.2 L49.1 167.4 L49.3 166.0 L49.2 164.2 L49.6 162.5 L49.5 161.7 L49.6 163.6 L49.4 163.6 L49.6 165.7 L49.7 166.9 L49.9 166.9 L50.0 167.1 L50.0 168.1 L49.8 170.8 L49.9 173.1 L49.7 172.8 L50.0 174.9 L50.0 175.0 L49.8 173.0 L50.3 172.4 L50.1 172.7 L50.3 168.8 L50.2 168.2 L50.4 168.0 L50.3 165.7 L49.9 166.4 L50.1 164.7 L50.5 164.0 L50.3 162.7 L50.2 161.3 L50.1 159.7 L50.3 158.7 L50.1 160.5 L50.2 161.0 L50.2 162.3 L50.5 161.7 L50.7 165.1 L50.8 166.1 L50.6 165.5 L50.4 168.3 L50.5 167.8 L50.8 170.2 L50.7 172.0 L50.8 171.0 L50.6 173.6 L50.7 175.1 L50.8 175.8 L50.9 174.1 L50.7 174.4 L50.8 172.3 L51.2 172.0 L51.2 169.5 L50.9 169.0 L51.1 167.3 L51.2 168.0 L51.3 164.2 L51.2 165.0 L51.3 162.8 L51.3 162.5 L51.3 164.3 L51.6 163.6 L51.3 165.7 L51.3 168.3 L51.6 167.7 L51.8 169.9 L51.7 169.4 L51.7 172.9 L51.7 173.4 L52.0 174.6 L51.8 175.0 L52.0 173.3 L52.1 172.2 L52.1 172.5 L52.1 171.7 L51.9 170.8 L51.9 168.4 L52.2 167.3 L52.4 165.2 L52.1 164.5 L52.3 162.6 L52.3 162.5 L52.1 163.2 L52.7 164.1 L52.5 165.7 L52.3 166.7 L52.4 168.4 L52.6 167.9 L52.4 170.9 L52.4 172.9 L52.6 171.4 L52.9 174.6 L52.8 175.5 L52.8 175.8 L52.7 176.1 L52.7 175.1 L53.1 171.3 L53.1 172.2 L53.2 169.3 L53.0 169.1 L53.4 166.5 L53.1 165.3 L53.4 165.1 L53.5 165.6 L53.3 163.3 L53.1 164.9 L53.3 166.3 L53.7 168.2 L53.6 166.3 L53.3 168.0 L53.6 171.2 L53.7 170.4 L53.6 170.8 L53.9 173.8 L53.9 173.2 L53.6 174.2 L53.8 176.7 L53.8 175.0 L54.1 173.0 L53.9 173.0 L54.0 172.3 L54.5 171.7 L54.3 170.0 L54.3 171.0 L54.3 172.0 L54.2 173.1 L54.5 173.9 L54.2 175.6 L54.6 175.7 L54.6 177.5 L54.5 179.5 L54.5 179.8 L54.5 181.1 L54.3 184.0 L54.7 182.8 L54.7 186.2 L54.4 187.1 L54.4 187.8 L54.6 189.4 L54.6 189.4 L54.7 189.6 L54.7 191.7 L54.7 194.0 L54.7 193.7 L54.7 194.0 L55.1 197.3 L54.8 196.9 L55.1 197.9 L54.8 198.8 L54.8 200.1 L55.0 200.7 L55.4 203.5 L55.1 203.3 L55.0 205.5 L55.3 205.0 L55.3 207.5 L55.3 206.2 L55.3 204.8 L55.4 203.1 L55.5 201.9 L55.5 202.7 L55.7 200.1 L56.0 198.2 L56.2 199.6 L56.1 196.3 L56.0 195.5 L56.3 194.2 L56.3 193.3 L56.7 191.8 L56.6 190.9 L57.0 191.5 L57.3 188.0 L57.4 187.7 L57.5 186.7 L58.7 185.0 L58.9 183.8 L58.8 183.6 L59.0 181.2 L59.0 181.7 L59.1 180.7 L59.0 178.0 L59.0 176.4 L59.3 177.6 L59.3 175.0 L59.5 176.7 L59.4 174.2 L59.7 174.2 L59.7 174.5 L59.6 171.5 L59.6 172.6 L59.5 170.5 L59.7 168.8 L60.0 169.1 L59.7 167.5 L60.0 166.8 L59.8 163.0 L59.8 163.5 L60.1 161.4 L60.0 160.2 L60.0 160.0 L60.1 157.2 L60.0 159.3 L60.5 155.1 L60.4 156.8 L60.5 154.2 L60.4 154.7 L60.6 157.2 L60.7 157.5 L60.5 157.5 L60.8 161.2 L60.8 161.1 L60.6 163.5 L60.5 162.3 L60.6 165.1 L60.5 165.8 L60.6 168.4 L60.8 168.5 L60.6 168.7 L60.7 170.6 L60.6 170.2 L61.0 171.2 L61.0 172.9 L60.8 175.0 L61.1 174.2 L60.8 172.5 L61.0 170.1 L61.1 170.9 L60.8 170.5 L61.2 168.4 L61.0 168.2 L60.9 167.0 L61.1 164.7 L61.1 163.3 L61.2 161.6 L61.3 160.8 L61.3 161.9 L61.2 162.2 L61.7 164.2 L61.3 166.6 L61.3 167.0 L61.8 167.2 L61.4 168.4 L61.7 170.3 L61.9 171.3 L61.7 172.4 L61.8 172.6 L61.8 175.5 L61.8 175.8 L61.8 174.4 L62.2 174.8 L62.1 172.8 L61.9 170.8 L62.2 168.8 L62.3 170.6 L62.4 168.6 L62.2 166.6 L62.5 165.0 L62.4 165.4 L62.7 164.5 L62.5 162.5 L62.4 162.2 L62.7 164.8 L62.6 165.2 L62.6 167.8 L62.5 169.0 L62.8 169.3 L62.8 172.0 L62.9 172.5 L62.9 173.6 L62.7 173.7 L63.1 176.8 L63.0 176.7 L63.2 176.0 L62.9 173.8 L63.1 173.4 L63.3 172.6 L63.1 170.7 L63.4 170.6 L63.3 169.0 L63.5 168.9 L63.6 165.0 L63.4 164.0 L63.6 164.2 L63.2 162.2 L63.4 163.5 L63.5 160.8 L63.5 161.8 L63.3 162.4 L63.5 164.5 L63.9 165.4 L63.6 168.2 L63.5 167.2 L63.6 169.3 L64.0 168.8 L64.0 171.4 L63.7 171.4 L64.0 173.8 L64.0 173.6 L64.0 175.8 L64.0 174.9 L64.1 173.0 L63.9 171.2 L64.3 169.9 L64.3 169.4 L64.4 167.9 L64.4 166.5 L64.5 167.0 L64.1 167.1 L64.3 163.2 L64.6 162.1 L64.5 162.5 L64.7 162.4 L64.7 166.3 L64.8 167.6 L65.0 166.7 L64.8 167.3 L64.9 169.1 L65.2 169.8 L65.0 171.7 L65.2 174.6 L65.4 174.1 L65.1 176.8 L65.2 177.8 L65.3 176.3 L65.5 178.4 L65.5 181.7 L65.7 181.8 L65.8 182.5 L66.7 179.5 L67.0 180.0 L67.0 180.2 L67.1 178.9 L67.4 177.0 L67.2 175.7 L67.3 172.5 L67.3 173.1 L67.5 171.7 L67.3 170.7 L67.6 168.5 L67.7 168.1 L67.5 166.1 L67.6 166.5 L67.8 163.4 L67.8 162.9 L68.0 163.8 L68.1 162.0 L67.8 160.8 L67.7 160.1 L68.0 156.6 L68.0 156.3 L68.1 156.2 L67.9 158.7 L67.9 160.5 L68.0 160.8 L68.0 163.4 L68.3 162.7 L68.4 163.6 L68.1 164.1 L68.3 164.9 L68.4 167.6 L68.6 168.7 L68.2 169.0 L68.6 170.2 L68.3 173.2 L68.5 173.3 L68.8 170.5 L68.5 172.6 L68.5 169.9 L68.6 168.7 L68.7 168.1 L68.8 166.6 L69.2 165.1 L69.3 164.1 L69.0 163.6 L69.2 161.7 L69.4 162.0 L69.1 164.9 L69.2 166.2 L69.5 166.6 L69.2 169.0 L69.3 167.6 L69.7 170.3 L69.6 171.6 L69.5 173.4 L69.7 173.1 L69.8 175.1 L69.7 175.8 L69.8 176.3 L69.7 172.8 L69.9 172.4 L70.1 170.2 L70.3 170.4 L70.3 168.3 L70.5 169.4 L70.7 171.1 L70.7 172.5 L70.8 172.2 L70.8 172.6 L70.8 173.8 L70.8 176.7 L70.8 174.7 L70.9 175.2 L70.9 173.8 L71.2 171.0 L71.3 170.8 L71.5 172.2 L71.7 172.7 L71.5 172.7 L71.8 175.1 L71.8 176.7 L72.1 176.0 L72.1 173.8 L71.9 173.8 L72.2 171.4 L72.3 171.1 L72.3 168.3 L72.5 168.3 L72.4 168.9 L72.8 171.6 L72.6 172.7 L72.6 173.4 L72.7 173.3 L73.0 175.8 L73.0 176.7 L73.7 175.0 L73.5 176.3 L73.9 177.3 L73.7 179.7 L74.0 179.5 L73.9 179.3 L74.0 180.7 L73.7 183.7 L74.2 182.8 L74.0 184.9 L73.9 186.9 L74.1 186.5 L74.0 188.5 L74.3 191.2 L74.1 190.6 L74.2 192.5 L74.4 192.4 L74.6 191.7 L74.8 187.3 L75.1 189.4 L75.3 186.7 L75.6 187.1 L75.3 185.0 L75.3 182.9 L75.5 181.5 L75.5 182.4 L75.6 179.2 L76.0 177.4 L76.0 177.1 L76.1 177.4 L76.2 174.1 L76.2 174.6 L76.5 172.8 L76.3 171.7 L76.2 173.2 L76.5 175.1 L76.7 174.4 L76.7 177.8 L76.8 177.4 L76.5 177.2 L76.8 179.5 L76.9 181.5 L76.9 182.2 L77.0 183.3 L77.2 185.3 L77.4 184.5 L77.6 186.5 L77.9 188.5 L77.8 189.9 L78.0 190.0 L77.9 189.4 L78.3 187.9 L78.1 185.3 L78.3 185.2 L78.3 183.2 L78.5 181.8 L78.4 180.5 L78.4 181.6 L78.4 178.8 L78.5 179.8 L78.8 177.5 L78.8 176.1 L78.7 175.0 L78.9 176.4 L78.6 177.6 L78.7 177.4 L78.9 178.5 L78.8 180.3 L79.2 180.1 L78.8 182.7 L78.8 184.4 L79.3 183.8 L79.0 186.7 L79.3 186.0 L79.1 187.5 L79.3 188.7 L79.1 189.7 L79.3 191.7 L79.7 194.4 L79.9 192.6 L80.5 197.1 L80.8 196.7 L81.2 198.0 L81.0 197.1 L81.5 198.9 L81.6 199.7 L81.8 203.3 L82.0 203.3 L81.9 205.1 L82.2 205.7 L82.4 207.5 L82.8 208.7 L82.9 210.8 L83.1 211.2 L83.0 211.7 L82.9 212.6 L83.2 215.1 L83.6 214.7 L83.3 216.1 L83.3 219.0 L83.8 217.2 L83.8 220.0 L84.1 220.0 L84.0 220.6 L84.3 223.2 L84.4 225.6 L84.6 224.9 L84.5 225.6 L84.7 228.3 L84.9 228.0 L84.9 230.7 L84.9 233.6 L85.2 233.8 L85.4 233.0 L85.5 235.2 L85.5 237.0 L85.4 238.9 L85.5 238.9 L85.5 239.0 L85.7 242.1 L85.5 242.5 L85.6 241.2 L85.8 240.7 L86.0 239.6 L86.1 239.1 L86.0 236.5 L86.0 234.4 L86.1 234.5 L86.4 234.8 L86.2 233.2 L86.6 231.2 L86.5 229.4 L86.8 227.6 L86.7 227.5 L86.7 228.9 L86.7 231.1 L86.9 231.1 L87.0 233.5 L87.3 234.9 L87.2 233.2 L87.1 235.6 L87.5 238.1 L87.5 239.6 L87.6 237.9 L87.5 241.5 L87.7 242.4 L88.1 242.3 L88.1 244.5 L88.0 245.0 L88.3 247.2 L88.5 246.5 L88.6 247.3 L88.7 250.0 L88.8 251.9 L89.2 252.8 L89.0 254.4 L89.4 256.6 L89.3 255.5 L89.5 256.9 L89.7 258.7 L89.7 258.7 L89.7 257.9 L89.7 254.8 L89.7 255.1 L90.1 251.9 L89.8 252.7 L89.8 250.5 L90.3 250.8 L90.3 247.0 L90.5 246.5 L90.5 245.1 L90.4 244.5 L90.5 244.2 L90.6 242.4 L90.6 242.8 L90.5 239.1 L90.9 238.6 L90.9 238.1 L90.6 237.0 L90.9 235.1 L90.8 235.0 L90.9 234.8 L91.2 237.3 L90.8 239.5 L91.1 239.0 L91.0 241.5 L91.1 242.3 L91.3 243.1 L91.6 242.8 L91.4 246.2 L91.4 245.7 L91.6 246.7 L91.7 248.3 L92.0 245.9 L91.7 245.8 L91.7 244.0 L91.9 243.6 L92.0 243.5 L92.0 240.4 L92.0 240.9 L92.1 237.8 L92.3 238.0 L92.4 237.5 L92.4 236.7 L92.7 233.9 L92.8 234.4 L92.8 232.6 L92.8 230.8 L93.1 231.7 L92.9 232.5 L93.1 234.8 L93.0 236.7 L93.3 237.5 L93.4 236.3 L93.5 239.3 L93.6 239.8 L93.6 241.0 L93.3 243.0 L93.4 244.4 L93.6 244.2 L93.6 245.1 L93.9 245.7 L93.8 247.5 L94.6 245.8 L95.3 245.0 L95.3 242.6 L95.6 243.5 L96.0 241.9 L95.9 239.0 L96.3 240.7 L96.3 238.3 L96.3 238.2 L96.7 235.8 L96.8 236.5 L96.7 235.3 L97.1 233.1 L97.1 230.1 L97.2 229.5 L97.2 230.3 L97.4 226.5 L97.5 226.7 L97.5 228.1 L97.6 230.0 L97.8 230.1 L98.0 229.7 L97.8 232.9 L98.1 235.1 L98.0 235.2 L98.0 236.6 L98.0 237.0 L98.3 236.8 L98.5 239.6 L98.6 241.1 L98.5 242.4 L98.4 243.8 L98.7 244.2 L98.8 244.6 L98.9 241.6 L98.8 240.4 L99.2 239.9 L99.3 238.6 L99.4 236.7 L99.4 237.4 L99.5 233.3 L99.4 233.8 L99.5 233.4 L99.6 232.3 L99.7 230.0 L100.0 227.7 L99.9 226.8 L99.8 225.7 L100.1 225.5 L100.5 223.0 L100.5 223.6 L100.5 221.0 L100.8 222.0 L100.8 220.0 L100.9 218.5 L101.2 219.3 L101.5 215.6 L101.7 216.1 L101.7 213.6 L101.7 212.8 L102.2 212.1 L102.5 211.1 L102.5 210.0 L102.7 208.2 L102.8 208.8 L103.0 205.4 L102.6 204.3 L102.8 204.6 L102.8 202.6 L102.8 203.0 L103.3 200.2 L103.3 198.4 L103.2 199.0 L103.1 197.8 L103.5 197.4 L103.2 195.8 L103.4 193.4 L103.4 194.4 L103.7 191.7 L104.0 191.5 L103.8 191.0 L103.8 189.7 L104.2 187.0 L104.1 185.9 L104.3 185.4 L104.6 185.1 L104.7 181.3 L104.7 181.7 L104.6 179.5 L105.1 181.0 L105.1 178.3 L104.9 177.2 L105.2 175.8 L105.2 173.2 L105.3 173.3 L105.4 173.1 L105.2 169.7 L105.1 171.5 L105.5 170.1 L105.2 167.1 L105.1 166.3 L105.6 164.6 L105.5 164.4 L105.2 164.3 L105.5 163.0 L105.3 159.8 L105.3 160.0 L105.4 158.5 L105.3 158.0 L105.6 158.0 L105.5 155.5 L105.5 153.6 L105.4 151.9 L105.4 152.6 L105.4 150.5 L105.2 149.9 L105.4 148.8 L105.5 149.4 L105.3 147.4 L105.2 146.3 L105.5 144.1 L105.1 142.9 L105.1 140.9 L105.1 142.0 L105.3 141.2 L105.3 139.1 L105.4 138.8 L105.4 137.3 L105.4 135.0 L105.3 134.5 L105.4 135.1 L105.3 133.5 L105.5 131.1 L105.5 129.4 L105.2 129.9 L105.5 127.0 L105.3 128.2 L105.3 125.8 L105.2 125.9 L105.2 128.3 L105.5 127.8 L105.2 131.6 L105.2 132.9 L105.3 131.6 L105.4 133.6 L105.4 134.8 L105.6 136.0 L105.4 136.6 L105.7 138.9 L105.8 140.1 L105.7 140.0 L105.6 141.8 L105.6 142.5 L105.6 143.5 L105.8 145.9 L105.9 147.3 L105.6 146.6 L106.0 148.4 L105.7 148.2 L105.6 150.5 L105.8 151.7 L106.0 154.0 L106.0 153.3 L105.7 154.0 L105.8 156.6 L106.1 156.8 L106.0 159.2 L105.9 160.7 L106.2 161.7 L105.9 161.9 L106.2 162.6 L106.0 165.3 L106.3 165.5 L106.0 167.5 L106.0 167.2 L106.3 169.2 L106.2 170.9 L106.0 171.3 L106.2 170.8 L106.3 172.9 L106.3 174.1 L106.3 175.0 L106.1 174.4 L106.2 173.7 L106.5 170.0 L106.6 168.9 L106.5 169.0 L106.6 169.6 L106.4 168.0 L106.5 165.7 L106.5 164.0 L106.5 163.3 L106.6 161.1 L106.5 161.1 L106.8 161.5 L106.9 158.4 L106.5 159.1 L106.5 155.6 L106.9 157.2 L106.9 154.9 L106.8 155.2 L106.8 152.5 L106.7 152.1 L106.9 153.9 L107.0 155.1 L107.1 155.5 L106.8 156.8 L106.7 160.0 L107.0 159.0 L106.8 162.5 L107.1 161.3 L107.2 162.9 L107.0 164.1 L106.9 166.3 L107.0 168.2 L107.3 168.8 L107.2 170.3 L107.2 169.0 L107.3 170.4 L107.1 170.9 L107.3 174.2 L107.4 175.9 L107.3 175.8 L107.4 175.9 L107.5 173.3 L107.2 171.3 L107.6 170.6 L107.3 169.8 L107.6 168.0 L107.3 167.1 L107.6 167.5 L107.6 165.0 L107.5 165.1 L107.6 164.8 L107.3 161.0 L107.6 161.9 L107.7 158.8 L107.4 157.7 L107.7 157.1 L107.8 157.3 L107.4 154.8 L107.5 153.4 L107.7 153.3 L107.6 155.6 L107.7 155.4 L107.5 158.1 L107.6 157.5 L108.0 158.2 L107.7 158.9 L108.0 162.6 L107.8 163.1 L107.9 163.6 L108.1 166.4 L108.1 166.3 L107.9 166.8 L108.1 169.4 L108.0 170.4 L108.0 169.1 L108.0 171.7 L108.0 173.7 L108.2 174.3 L108.1 174.3 L108.3 177.5 L107.9 178.7 L108.2 178.9 L108.3 180.8 L108.1 180.8 L108.4 180.7 L108.4 183.9 L108.1 183.8 L108.3 184.9 L108.0 185.7 L108.2 187.5 L108.3 189.1 L108.3 190.0 L108.3 192.9 L108.8 193.9 L108.7 194.1 L109.0 194.1 L109.1 195.9 L108.9 197.6 L109.2 198.3 L109.2 197.2 L109.1 195.8 L109.2 194.8 L109.5 193.1 L109.4 192.2 L109.3 190.4 L109.3 192.1 L109.4 189.8 L109.8 188.5 L109.8 187.5 L110.0 186.2 L109.7 184.8 L110.1 183.2 L110.1 183.5 L110.0 181.7 L110.2 181.1 L110.4 178.7 L110.4 179.5 L110.5 178.9 L110.7 174.9 L110.7 175.6 L110.4 173.8 L110.8 172.1 L110.8 171.7 L110.6 169.4 L110.7 170.9 L110.7 168.8 L111.0 166.3 L110.9 165.3 L110.7 164.8 L111.1 165.0 L110.8 163.1 L110.8 161.7 L111.0 159.1 L111.2 160.9 L111.1 156.9 L110.9 156.0 L111.2 157.0 L111.2 154.0 L111.1 154.1 L111.3 154.2 L111.0 150.3 L111.2 150.9 L111.5 149.7 L111.5 148.3 L111.6 148.7 L111.6 145.9 L111.5 146.6 L111.6 144.8 L111.7 141.4 L111.7 141.7 L112.8 140.0 L113.1 137.6 L113.1 138.8 L112.8 138.1 L113.4 136.4 L113.2 133.5 L113.4 131.6 L113.4 130.3 L113.5 130.9 L113.8 130.4 L113.8 129.1 L113.7 125.9 L114.0 126.7 L113.8 125.0 L114.1 123.0 L114.3 122.7 L114.1 120.8 L114.4 121.3 L114.5 119.3 L114.5 118.7 L114.7 116.3 L115.5 117.5 L115.7 117.2 L115.4 120.2 L115.8 122.4 L115.6 122.2 L115.9 124.0 L115.8 125.5 L116.0 126.4 L115.8 127.3 L115.8 126.5 L116.2 129.0 L116.0 130.0 L116.1 129.8 L116.0 133.4 L116.2 133.1 L115.9 134.0 L115.9 135.0 L116.2 138.1 L116.1 139.0 L116.4 138.4 L116.3 138.8 L116.1 140.9 L116.6 141.7 L116.2 143.2 L116.4 145.1 L116.6 145.4 L116.5 146.7 L116.3 146.8 L116.5 148.5 L116.5 150.0 L116.6 152.4 L116.6 153.1 L116.5 152.9 L116.4 154.2 L116.4 156.4 L116.3 156.4 L116.5 156.9 L116.4 160.1 L116.5 160.5 L116.3 159.5 L116.6 161.7 L116.3 162.1 L116.5 163.6 L116.6 164.2 L116.7 166.5 L116.7 168.7 L116.7 167.6 L116.5 170.0 L116.5 171.0 L116.3 173.1 L116.7 172.7 L116.7 172.9 L116.3 175.7 L116.4 175.2 L116.7 178.2 L116.3 179.6 L116.5 180.3 L116.4 180.9 L116.6 183.2 L116.4 184.7 L116.4 183.9 L116.4 184.6 L116.5 187.0 L116.6 188.6 L116.5 187.6 L116.7 190.9 L116.8 189.4 L116.8 191.8 L116.7 193.5 L116.4 193.7 L116.5 196.2 L116.6 196.3 L116.4 198.9 L116.8 199.6 L116.4 198.5 L116.8 202.1 L116.7 202.4 L116.6 201.6 L116.4 205.6 L116.4 205.0 L116.3 206.0 L116.4 208.5 L116.5 210.1 L116.5 209.7 L116.4 210.3 L116.9 210.4 L116.4 213.4 L116.5 215.7 L116.6 215.6 L116.6 215.4 L116.6 216.1 L116.6 217.1 L116.8 218.4 L116.4 220.0 L116.8 223.0 L116.4 222.8 L116.9 223.9 L116.4 225.4 L116.9 225.2 L116.7 227.3 L116.7 228.6 L116.6 229.9 L116.6 229.1 L116.8 231.3 L116.9 232.4 L116.7 232.8 L116.8 236.5 L116.6 234.6 L116.5 238.6 L116.9 237.6 L116.6 240.4 L116.7 241.2 L116.5 242.9 L116.9 241.4 L116.7 245.0 L116.7 245.0 L116.9 244.6 L117.4 242.2 L118.0 241.7 L118.0 239.6 L117.8 240.7 L117.9 239.1 L118.1 237.7 L117.8 236.0 L118.3 234.8 L118.2 233.0 L118.0 234.1 L118.0 230.4 L118.2 231.3 L118.0 229.9 L118.3 228.0 L118.1 227.9 L118.0 225.6 L118.2 224.2 L118.1 223.5 L118.2 224.3 L118.2 221.0 L118.2 222.1 L118.2 218.1 L118.3 219.0 L118.3 216.5 L118.2 215.8 L118.2 214.0 L118.5 213.1 L118.5 212.6 L118.6 210.5 L118.4 210.3 L118.5 210.6 L118.4 210.3 L118.6 207.5 L118.6 205.5 L118.5 206.6 L118.4 203.3 L118.4 203.7 L118.4 203.0 L118.6 200.3 L118.5 200.3 L118.6 199.6 L118.4 198.7 L118.6 196.5 L118.8 195.1 L118.5 194.9 L118.5 193.5 L118.5 193.8 L118.5 189.9 L118.7 190.0 L118.7 190.0 L118.9 190.7 L119.1 192.5 L118.9 194.7 L119.3 195.5 L119.2 198.6 L119.4 199.4 L119.6 200.7 L119.3 200.6 L119.4 201.0 L119.7 203.6 L119.7 204.0 L119.9 206.5 L120.3 207.0 L120.4 207.6 L120.3 209.8 L120.8 211.6 L120.6 210.5 L120.8 212.6 L120.9 215.2 L121.1 214.4 L120.7 217.4 L121.1 219.0 L121.0 219.2 L121.4 219.7 L121.3 221.0 L121.4 222.9 L121.6 222.1 L121.7 225.5 L121.6 224.2 L121.6 228.2 L121.7 229.0 L121.7 229.3 L121.9 229.7 L122.0 231.3 L121.7 231.1 L121.7 234.4 L122.0 233.1 L121.9 236.3 L122.2 235.6 L122.1 239.0 L122.3 237.5 L122.3 238.8 L122.4 240.8 L122.4 241.2 L122.3 237.0 L122.4 237.2 L122.8 237.2 L122.9 235.3 L122.7 234.1 L123.0 233.3 L123.2 232.6 L122.8 229.4 L122.9 228.7 L123.3 228.2 L123.0 228.1 L123.3 226.0 L123.3 226.3 L123.3 225.1 L123.4 222.0 L123.3 221.2 L123.6 219.2 L123.6 220.1 L123.6 219.9 L124.0 216.2 L123.7 216.8 L123.7 216.3 L123.8 212.2 L124.2 212.3 L124.1 211.9 L124.3 211.5 L124.3 207.9 L124.4 206.8 L124.4 207.0 L124.5 206.3 L124.5 205.0 L124.5 205.1 L124.4 206.6 L124.9 208.9 L124.6 210.6 L124.9 211.1 L124.7 212.1 L124.7 213.4 L125.0 214.5 L125.2 214.3 L125.2 217.9 L125.1 216.2 L125.1 218.9 L125.3 220.0 L126.0 219.6 L126.3 216.5 L126.7 216.7 L127.2 218.6 L127.7 220.9 L128.0 220.0 L128.3 218.3 L128.1 217.3 L128.6 217.5 L128.6 216.9 L128.4 213.5 L128.8 211.7 L128.8 211.9 L128.8 210.8 L129.1 210.1 L129.2 208.3 L129.4 208.7 L129.4 206.5 L129.4 204.1 L129.3 203.1 L129.8 202.1 L129.7 201.0 L129.7 199.3 L129.7 199.8 L130.2 196.9 L130.2 197.4 L130.1 195.5 L130.3 195.0 L130.6 192.5 L131.1 193.4 L131.7 191.7 L132.0 192.3 L131.7 193.1 L132.2 196.2 L131.9 195.3 L132.0 196.3 L132.4 197.9 L132.5 200.0 L132.9 202.3 L132.7 200.7 L133.0 203.1 L133.2 206.0 L133.3 206.1 L133.3 208.1 L133.7 208.3 L133.9 210.0 L133.7 209.2 L134.3 210.8 L134.0 213.4 L134.3 215.8 L134.7 213.9 L134.7 216.7 L134.7 219.6 L135.1 220.1 L135.3 222.0 L135.1 219.8 L135.2 221.7 L135.6 225.6 L135.7 225.0 L135.6 223.0 L136.0 221.4 L135.8 222.6 L135.9 219.7 L136.2 218.4 L136.2 218.2 L136.1 218.8 L136.3 215.0 L136.3 215.6 L136.4 214.2 L136.4 212.7 L136.7 211.7 L136.8 210.7 L136.9 207.8 L136.7 210.0 L137.0 206.4 L137.1 207.7 L137.0 204.9 L137.2 204.0 L137.4 201.6 L137.2 202.8 L137.6 201.3 L137.5 200.0 L137.5 198.3 L137.5 200.2 L137.6 199.7 L138.0 201.7 L137.8 203.4 L138.3 204.0 L138.3 204.6 L138.5 207.8 L138.3 205.6 L138.7 208.3 L138.8 207.7 L139.1 211.0 L139.2 213.4 L139.7 212.9 L139.5 214.4 L139.8 214.8 L140.0 216.7 L140.5 218.5 L140.8 217.7 L141.0 220.0 L141.1 222.8 L141.1 221.4 L141.2 222.7 L141.7 225.3 L141.7 224.7 L141.9 228.8 L142.0 228.3 L142.3 225.6 L142.3 226.5 L142.1 223.3 L142.2 222.5 L142.7 221.6 L142.8 221.1 L142.8 220.4 L143.0 218.0 L142.9 219.1 L143.0 216.7 L143.2 214.7 L143.1 214.6 L143.4 213.5 L143.5 211.2 L143.6 211.8 L143.3 209.0 L143.4 209.0 L143.9 206.3 L144.0 207.4 L144.0 206.8 L144.1 203.3 L144.0 203.3 L144.0 202.0 L144.1 201.6 L144.2 200.3 L144.2 200.1 L144.3 197.5 L144.4 196.6 L144.3 194.4 L144.7 193.5 L144.4 194.4 L144.4 191.6 L145.0 192.6 L144.9 189.5 L144.9 188.4 L145.1 189.3 L145.0 186.7 L144.9 186.4 L145.0 183.6 L145.1 181.9 L145.3 181.9 L145.2 181.4 L145.5 180.0 L145.8 179.8 L145.6 180.7 L146.1 183.9 L145.9 185.7 L146.1 186.6 L146.3 188.0 L146.6 186.4 L146.6 189.7 L146.7 190.0 L146.8 190.4 L147.2 190.8 L147.3 191.7 L147.7 192.8 L147.9 194.5 L148.0 196.7 L148.2 198.8 L148.4 199.7 L148.6 200.1 L148.8 200.6 L149.3 202.5 L149.4 205.3 L149.4 203.6 L149.7 205.8 L149.8 205.7 L150.5 204.5 L150.3 203.4 L150.8 200.8 L151.0 198.1 L151.6 199.7 L151.5 197.0 L152.1 197.5 L152.1 196.4 L152.5 193.3 L152.7 192.9 L152.9 191.1 L153.2 189.8 L153.3 188.7 L153.6 189.3 L153.8 185.7 L153.9 185.1 L154.2 185.9 L154.2 183.3 L154.3 180.3 L154.5 180.3 L154.9 180.6 L154.7 179.2 L154.9 178.9 L154.9 174.4 L155.3 175.0 L155.4 174.9 L155.6 173.1 L156.0 170.8 L155.9 170.0 L156.1 167.7 L155.8 166.0 L156.0 165.5 L156.0 165.0 L155.9 165.0 L156.0 166.5 L155.9 169.9 L156.2 168.5 L156.2 169.4 L156.4 172.2 L156.3 173.3 L156.4 173.1 L156.5 172.2 L156.7 171.2 L156.8 169.0 L156.5 167.5 L156.8 165.0 L157.0 164.1 L156.8 163.4 L157.0 163.3 L157.0 160.5 L157.5 162.6 L157.5 160.2 L157.7 157.7 L158.0 157.5 L158.4 156.9 L158.5 160.4 L158.6 162.2 L158.7 160.5 L158.7 162.8 L159.0 163.5 L158.9 165.6 L159.2 166.7 L159.2 168.6 L159.2 167.7 L159.5 171.6 L159.5 172.5 L159.7 172.1 L159.6 173.4 L159.9 175.8 L160.0 175.8 L159.9 176.3 L159.8 172.5 L160.3 171.7 L160.2 171.8 L160.2 170.3 L160.3 167.5 L160.0 167.2 L160.3 168.3 L160.3 164.4 L160.2 164.3 L160.4 164.8 L160.3 161.4 L160.3 161.5 L160.5 158.9 L160.6 159.6 L160.2 158.0 L160.1 157.2 L160.3 156.8 L160.3 153.1 L160.7 152.1 L160.7 151.9 L160.5 150.6 L160.5 151.7 L160.3 150.4 L160.7 149.0 L160.4 146.3 L160.4 145.7 L160.6 143.2 L160.7 143.3 L161.7 141.7 L161.9 144.3 L161.8 144.2 L161.9 144.8 L161.7 145.4 L162.0 148.0 L162.2 148.8 L162.2 149.7 L161.9 149.5 L162.4 153.1 L162.2 151.8 L162.3 153.9 L162.4 154.5 L162.6 158.0 L162.2 156.3 L162.2 160.4 L162.5 160.0 L162.8 158.0 L162.8 156.6 L162.5 155.2 L162.9 155.7 L162.6 152.8 L162.7 154.2 L162.7 150.6 L162.8 152.1 L163.0 149.7 L162.9 149.3 L163.2 146.3 L163.1 148.0 L163.3 144.4 L163.0 145.4 L163.2 144.6 L163.2 141.5 L163.3 140.8 L164.3 139.2 L164.5 137.1 L164.3 135.3 L164.4 136.0 L164.4 135.7 L164.7 132.8 L164.7 133.1 L165.0 132.4 L164.9 129.2 L165.1 128.2 L164.8 127.7 L165.0 126.7 L166.2 125.0 L166.4 127.6 L166.3 127.0 L166.2 127.6 L166.3 128.9 L166.3 129.6 L166.6 130.4 L166.5 132.7 L167.0 132.3 L166.7 133.3 L167.1 136.2 L167.1 136.7 L167.0 138.3 L167.2 139.5 L167.0 139.0 L167.2 142.0 L167.1 141.2 L167.1 144.0 L167.1 145.0 L167.3 145.4 L167.3 145.7 L167.4 149.4 L167.7 149.2 L167.5 152.0 L167.8 150.1 L167.7 152.3 L167.5 152.4 L168.0 154.0 L168.1 156.7 L168.1 156.7 L168.0 158.3 L168.1 155.6 L168.3 155.8 L168.0 156.4 L168.2 152.9 L168.4 152.5 L168.2 150.4 L168.1 148.9 L168.3 148.9 L168.5 149.3 L168.7 145.8 L168.4 144.5 L168.6 144.9 L168.4 143.5 L168.8 142.3 L168.6 142.0 L168.8 140.7 L168.8 139.2 L168.9 140.3 L169.2 141.6 L169.4 141.6 L169.3 144.5 L169.7 145.0 L169.7 145.8 L169.8 147.6 L170.0 149.8 L170.0 150.0 L170.3 150.4 L170.5 150.5 L170.4 152.1 L170.6 154.4 L170.5 155.0 L170.4 157.9 L170.7 157.8 L170.6 159.0 L171.1 159.8 L171.0 159.4 L171.2 162.5 L170.9 164.4 L171.1 163.0 L171.4 165.9 L171.3 166.7 L171.4 165.4 L171.6 165.7 L171.2 164.5 L171.4 161.5 L171.4 161.6 L171.7 158.8 L171.5 156.9 L171.7 156.4 L171.7 154.7 L172.1 156.7 L172.0 153.4 L171.7 152.5 L172.0 151.7 L173.0 150.0 L172.9 151.0 L172.9 151.5 L173.1 154.0 L173.3 154.8 L173.4 154.0 L173.4 158.3 L173.1 158.2 L173.3 158.8 L173.2 160.0 L173.4 160.4 L173.5 160.7 L173.5 162.7 L173.3 163.0 L173.6 165.2 L173.6 168.2 L173.3 169.2 L173.3 167.4 L173.5 170.2 L173.6 171.1 L173.5 170.9 L173.4 174.1 L173.6 173.2 L173.7 176.2 L173.7 176.7 L173.9 173.9 L173.7 175.9 L173.9 171.9 L173.8 172.9 L174.0 171.6 L174.2 171.1 L174.3 168.3 L174.7 166.8 L174.3 166.0 L174.7 165.0 L174.9 162.0 L174.9 163.4 L175.1 160.0 L175.2 159.3 L175.5 158.3 L175.7 158.4 L175.8 156.7 L176.1 154.9 L176.2 154.3 L176.2 153.3 L176.5 151.0 L176.4 149.3 L176.7 148.2 L176.7 148.3 L176.8 145.4 L177.4 144.4 L177.4 143.1 L177.7 142.4 L178.0 142.0 L178.2 142.4 L178.0 144.1 L177.9 145.7 L178.0 147.5 L178.1 148.4 L178.5 147.6 L178.2 150.4 L178.2 150.0 L178.6 153.6 L178.4 154.7 L178.4 155.4 L178.4 156.9 L178.7 156.7 L178.7 158.3 L178.9 159.1 L179.0 161.5 L179.3 160.2 L179.7 163.3 L179.9 165.8 L179.6 164.0 L180.1 168.1 L179.9 168.6 L180.0 167.8 L180.0 169.5 L180.3 169.6 L180.1 172.5 L180.1 173.0 L180.4 176.0 L180.5 174.1 L180.3 176.7 L180.6 176.8 L180.9 180.7 L180.8 180.0 L180.7 181.9 L181.0 183.8 L181.1 184.6 L181.1 186.1 L181.5 184.5 L181.3 186.7 L181.5 187.4 L181.5 189.6 L181.5 191.7 L181.7 190.4 L182.0 191.4 L181.8 192.1 L182.3 193.2 L182.0 197.1 L182.1 198.7 L182.3 198.3 L182.6 198.9 L182.5 201.2 L182.7 201.3 L182.6 203.4 L183.0 203.0 L183.2 203.6 L183.0 204.9 L183.2 206.3 L183.3 208.3 L183.5 209.4 L183.5 209.7 L183.5 212.6 L183.6 212.2 L184.2 213.9 L184.0 217.0 L184.1 216.0 L184.1 218.9 L184.4 218.8 L184.5 220.0 L184.4 218.4 L185.0 218.9 L184.9 216.1 L185.1 216.9 L185.0 214.9 L185.1 214.4 L185.3 211.7 L185.5 210.5 L185.3 207.8 L185.5 209.9 L185.6 207.5 L185.7 205.6 L185.6 205.3 L185.6 202.5 L185.5 202.9 L186.0 201.5 L185.8 199.1 L185.8 200.3 L186.1 196.5 L185.8 197.4 L185.8 196.3 L185.9 194.4 L186.3 194.2 L186.2 192.5 L186.5 194.2 L186.1 195.6 L186.2 197.4 L186.1 197.8 L186.5 199.8 L186.7 199.7 L186.5 199.7 L186.8 201.9 L186.4 203.9 L186.8 202.2 L186.5 204.6 L186.9 206.2 L186.6 206.1 L186.9 208.6 L186.8 209.8 L187.0 210.7 L187.0 211.7 L187.0 213.5 L187.3 215.0 L187.3 214.3 L187.1 214.5 L187.4 218.3 L187.8 218.7 L187.6 219.9 L187.5 220.0 L187.8 221.7 L187.8 220.3 L188.1 220.4 L188.0 217.6 L188.0 218.0 L188.4 214.9 L188.4 214.3 L188.3 213.9 L188.4 213.2 L188.6 210.7 L188.4 210.4 L188.7 208.0 L188.8 208.3 L188.8 207.3 L188.9 205.4 L189.3 203.1 L189.1 204.9 L189.4 202.6 L189.3 200.5 L189.3 199.7 L189.6 200.1 L189.7 199.0 L189.7 196.7 L190.0 194.5 L190.1 195.9 L190.5 193.3 L190.7 195.3 L191.0 196.2 L190.9 198.2 L191.3 197.2 L191.6 199.0 L191.7 200.0 L191.9 199.5 L191.8 200.9 L192.2 202.8 L192.4 206.2 L192.2 206.1 L192.7 207.4 L192.6 208.0 L192.5 208.5 L192.7 209.8 L193.0 211.7 L193.2 214.1 L193.5 212.8 L193.4 214.9 L193.7 217.7 L194.1 218.5 L194.2 218.3 L194.3 215.9 L194.3 215.6 L194.4 213.1 L194.9 212.6 L194.7 213.6 L194.9 211.0 L195.0 210.0 L195.0 210.0 L195.1 209.4 L195.3 206.9 L195.1 204.1 L195.1 204.3 L195.4 205.0 L195.4 202.6 L195.5 200.4 L195.6 200.1 L195.8 197.9 L195.9 197.5 L195.8 196.7 L196.1 196.1 L195.9 193.7 L196.0 191.9 L196.3 191.6 L196.4 190.0 L196.4 190.1 L196.6 188.7 L196.9 187.2 L196.6 185.1 L196.7 185.8 L197.0 184.2 L197.0 185.1 L197.4 186.5 L197.6 187.0 L197.5 188.5 L197.5 191.5 L197.7 191.8 L197.9 193.8 L198.0 193.3 L197.9 193.9 L198.5 196.1 L198.5 197.7 L198.7 196.3 L198.8 198.6 L198.9 200.2 L198.8 202.1 L199.2 203.1 L199.2 203.3 L199.2 203.5 L199.6 206.8 L199.5 206.0 L199.9 209.5 L199.9 207.6 L199.7 208.8 L200.3 210.8 L200.3 213.7 L200.3 213.3 L200.7 212.7 L200.8 214.8 L200.8 215.8 L201.0 216.9 L201.3 219.2 L201.5 218.1 L202.0 215.4 L202.0 214.8 L202.2 214.7 L202.5 213.3 L202.4 213.7 L202.4 210.0 L202.9 208.7 L203.0 207.6 L202.9 208.0 L203.0 207.6 L203.3 204.9 L203.3 203.4 L203.3 204.9 L203.6 201.1 L203.7 202.5 L203.7 200.0 L203.7 200.2 L203.9 201.2 L203.9 203.1 L204.3 205.0 L204.2 205.5 L204.3 207.6 L204.3 206.2 L204.8 209.3 L204.7 211.7 L204.8 212.5 L204.7 214.0 L205.0 213.3 L205.1 213.0 L205.1 209.4 L205.3 209.8 L205.5 207.6 L205.7 207.0 L206.0 205.8 L206.3 207.6 L206.3 210.0 L206.3 210.8 L206.3 209.9 L206.9 212.3 L206.8 213.3 L207.1 214.6 L206.7 216.2 L207.1 217.2 L206.9 219.1 L207.3 220.4 L207.2 219.6 L207.4 220.8 L207.3 223.7 L207.3 224.2 L207.5 225.0 L207.4 223.0 L207.6 222.3 L207.9 222.6 L207.9 221.1 L208.2 219.1 L208.2 216.8 L208.0 216.3 L208.0 216.7 L208.3 215.0 L208.2 215.3 L208.6 213.1 L208.5 212.5 L209.1 211.2 L208.8 209.7 L209.3 209.2 L209.3 206.0 L209.4 205.9 L209.7 203.3 L209.7 203.3 L210.1 203.4 L210.2 199.1 L210.3 199.2 L210.6 199.8 L210.3 199.8 L210.6 202.4 L210.7 204.8 L210.6 204.8 L211.0 207.6 L210.9 205.5 L211.2 208.1 L211.2 210.5 L211.1 209.9 L211.3 211.7 L211.3 211.5 L211.7 212.7 L211.9 214.5 L211.9 214.7 L212.0 218.1 L212.4 217.1 L212.5 220.0 L212.9 219.6 L213.0 221.9 L213.1 222.2 L213.2 223.8 L213.2 223.9 L213.3 226.7 L213.3 227.4 L213.6 227.9 L214.1 229.2 L214.0 232.9 L214.2 232.5 L214.4 231.3 L214.5 230.1 L214.5 230.7 L214.5 226.2 L214.6 227.0 L214.9 225.8 L215.1 225.4 L215.0 223.3 L215.3 221.1 L215.3 220.1 L215.1 219.1 L215.3 217.3 L215.8 217.8 L215.9 216.7 L215.8 215.0 L216.1 215.5 L215.8 214.0 L216.2 210.9 L216.4 210.6 L216.2 210.5 L216.3 207.5 L216.9 208.0 L217.0 206.3 L216.9 202.9 L217.0 203.3 L217.1 203.4 L217.5 201.2 L217.6 199.8 L218.0 197.2 L218.2 198.8 L218.3 195.8 L218.7 195.0 L218.5 196.4 L218.8 198.4 L219.0 199.8 L218.9 200.4 L219.0 199.1 L219.1 203.1 L219.2 202.1 L219.6 203.5 L219.6 206.6 L219.7 206.7 L219.6 208.5 L219.8 207.6 L219.9 211.5 L220.0 211.9 L220.2 213.6 L220.2 215.0 L220.0 214.9 L220.5 214.3 L220.6 218.7 L220.5 218.3 L220.6 217.1 L220.8 215.7 L221.0 215.8 L221.0 214.0 L220.8 214.2 L221.0 212.4 L221.3 210.7 L221.3 210.2 L221.3 208.3 L221.3 208.1 L221.8 207.1 L222.0 204.2 L222.1 202.4 L222.3 202.5 L222.3 203.1 L222.4 206.4 L222.7 207.6 L222.8 205.6 L222.9 209.1 L223.0 208.3 L222.8 210.6 L223.0 210.8 L223.2 212.4 L223.1 213.5 L223.3 215.0 L223.3 214.1 L223.8 212.2 L223.6 210.6 L224.0 211.6 L224.2 209.0 L224.3 209.4 L224.3 206.7 L224.4 206.8 L224.3 209.3 L224.5 208.4 L224.5 212.8 L224.9 212.9 L224.9 212.4 L225.0 213.4 L225.4 214.9 L225.3 216.7 L225.5 216.5 L225.5 220.6 L225.7 219.0 L225.8 222.0 L225.7 221.4 L226.1 225.0 L226.1 224.9 L226.3 225.7 L226.0 228.8 L226.3 228.3 L226.6 228.7 L226.3 229.1 L226.7 232.8 L226.6 234.1 L227.0 235.1 L227.2 236.1 L227.0 235.4 L227.3 238.0 L227.2 237.3 L227.3 236.8 L227.3 234.2 L227.6 234.9 L227.9 230.9 L227.6 230.5 L227.7 231.0 L228.0 228.4 L228.1 226.5 L228.1 226.5 L228.2 224.3 L228.1 225.0 L227.9 222.7 L228.0 221.4 L228.1 220.3 L228.3 220.0 L228.3 221.6 L228.6 222.0 L228.8 224.7 L228.9 226.1 L228.7 225.0 L229.1 227.7 L229.0 228.6 L229.1 228.0 L229.3 230.8 L229.3 230.1 L229.6 229.2 L229.5 225.6 L229.6 225.4 L229.9 225.4 L230.0 223.4 L230.1 221.6 L230.1 220.2 L230.3 220.0 L230.3 217.8 L230.6 218.2 L230.6 215.7 L230.6 215.2 L230.5 215.8 L230.8 213.0 L230.7 213.0 L230.6 211.6 L231.0 211.0 L230.8 209.7 L231.0 206.6 L230.9 206.6 L231.1 205.3 L231.1 203.7 L231.0 202.6 L231.1 200.7 L230.9 200.8 L231.4 200.8 L231.3 198.5 L231.0 198.6 L231.2 195.2 L231.3 195.0 L231.5 197.6 L231.6 197.5 L231.8 199.6 L231.6 198.0 L231.5 201.8 L231.8 201.3 L231.7 201.5 L231.8 204.2 L232.3 206.2 L232.2 207.3 L232.3 207.5 L232.3 208.3 L232.2 207.1 L232.7 205.9 L232.8 206.0 L232.5 204.0 L232.9 202.9 L233.2 200.0 L232.9 200.9 L233.1 199.4 L233.1 196.9 L233.3 196.7 L233.2 197.0 L233.5 195.8 L233.5 193.0 L233.7 193.6 L233.7 189.9 L234.0 190.3 L233.9 189.6 L234.1 187.7 L234.6 185.0 L234.5 185.8 L234.6 182.9 L234.7 183.3 L234.7 183.9 L234.7 185.0 L234.7 185.7 L235.1 188.6 L235.1 187.9 L235.3 190.0 L235.2 192.6 L235.2 192.5 L235.0 194.6 L235.3 195.0 L235.3 195.0 L235.7 191.1 L235.4 191.3 L235.5 189.7 L235.9 189.8 L235.7 189.9 L236.1 188.4 L236.2 187.2 L236.3 185.6 L236.3 182.7 L236.1 184.2 L236.3 181.7 L236.4 181.7 L236.6 178.7 L236.6 177.6 L236.7 175.8 L236.6 175.1 L236.7 176.4 L236.8 174.4 L236.9 174.0 L237.0 171.7 L237.2 169.8 L237.2 168.3 L236.8 169.6 L236.8 165.7 L237.1 165.6 L236.9 165.6 L236.9 164.6 L237.0 161.4 L237.2 161.5 L237.0 160.0 L237.2 160.1 L237.2 157.9 L237.1 155.1 L237.3 156.4 L237.2 155.4 L237.2 153.2 L237.2 153.6 L237.1 150.5 L237.4 148.9 L237.5 147.9 L237.6 147.2 L237.3 146.8 L237.3 146.1 L237.5 144.2 L237.4 146.9 L237.5 146.0 L237.9 148.4 L237.9 149.5 L237.8 149.8 L238.2 150.8 L238.2 151.2 L238.3 152.8 L238.3 155.0 L238.3 156.3 L238.3 156.4 L238.7 158.7 L238.3 160.3 L238.6 160.8 L238.6 160.1 L238.6 163.3 L238.6 163.2 L238.8 164.3 L238.8 165.4 L239.1 168.1 L239.0 168.3 L238.9 168.3 L238.8 165.8 L239.2 164.8 L239.3 162.3 L239.1 161.7 L239.3 161.7 L239.2 160.0 L239.1 160.4 L239.2 159.0 L239.2 155.5 L239.4 154.9 L239.2 155.0 L239.4 152.9 L239.7 151.6 L239.5 150.1 L239.7 150.4 L239.6 148.8 L239.5 147.0 L239.7 146.7 L239.5 146.0 L240.0 144.8 L240.0 144.5 L240.0 143.1 L239.7 142.1 L239.8 139.7 L240.1 137.3 L240.1 138.1 L240.2 135.1 L240.3 133.9 L240.4 135.3 L240.1 131.7 L240.5 131.1 L240.3 131.2 L240.3 129.2 L241.1 130.1 L241.3 131.7 L241.4 131.3 L241.6 133.1 L241.7 135.1 L241.7 135.9 L241.5 138.5 L241.7 138.3 L241.7 138.7 L242.0 140.7 L241.6 140.3 L242.0 144.6 L241.7 142.8 L242.2 145.2 L242.2 147.0 L242.2 146.6 L241.9 148.8 L242.3 148.4 L242.0 150.0 L242.3 152.3 L242.3 153.3 L242.6 152.6 L242.2 149.4 L242.4 149.6 L242.5 147.6 L242.4 147.4 L242.9 147.4 L242.6 144.7 L243.0 144.0 L242.9 141.6 L243.1 142.9 L242.8 141.1 L243.1 139.6 L243.4 137.3 L243.0 138.0 L243.1 136.4 L243.3 135.0 L244.2 133.3 L244.4 133.2 L244.3 134.8 L244.3 137.7 L244.3 137.1 L244.3 139.2 L244.6 139.0 L244.3 142.6 L244.3 142.0 L244.6 142.6 L244.4 143.7 L244.4 145.1 L244.6 146.6 L244.3 146.2 L244.4 148.6 L244.4 148.3 L244.5 149.4 L244.6 152.5 L244.4 152.2 L244.5 154.1 L244.5 153.9 L244.8 155.5 L244.5 159.0 L244.8 158.4 L244.6 159.2 L244.9 161.2 L244.9 163.4 L244.9 161.5 L244.7 165.1 L244.8 164.5 L245.0 166.9 L244.7 166.9 L245.1 167.3 L244.8 169.5 L245.0 170.8 L245.0 168.0 L245.0 168.0 L245.1 167.0 L245.3 165.0 L245.2 166.4 L245.4 164.5 L245.3 162.6 L245.3 160.4 L245.6 160.7 L245.2 160.2 L245.4 159.3 L245.5 158.0 L245.4 156.1 L245.9 154.0 L245.7 154.8 L245.8 152.0 L245.8 151.7 L246.1 150.6 L246.0 148.7 L245.9 147.2 L246.0 146.5 L245.8 144.7 L245.9 145.5 L245.9 144.5 L246.1 141.2 L246.3 141.1 L246.1 140.6 L245.9 140.5 L246.1 138.4 L245.9 137.9 L246.2 137.2 L246.0 136.4 L246.3 134.6 L245.9 132.7 L246.3 133.1 L246.4 129.4 L246.2 130.2 L246.1 129.2 L246.5 128.5 L246.3 126.0 L246.3 125.0 L246.3 125.9 L246.7 126.5 L246.8 130.0 L246.7 130.0 L246.7 129.3 L246.8 128.0 L246.5 125.5 L246.9 124.6 L246.9 125.8 L246.7 124.3 L246.6 122.3 L246.7 121.6 L246.6 120.6 L246.7 119.8 L246.7 118.4 L247.1 115.8 L247.0 115.0 L246.8 117.6 L247.2 117.1 L247.2 118.8 L247.2 120.9 L247.0 119.9 L247.1 123.2 L247.0 122.3 L247.3 122.5 L247.4 125.5 L247.4 127.0 L247.4 127.1 L247.1 128.8 L247.4 130.6 L247.3 131.1 L247.3 131.7 L247.4 130.3 L247.5 129.0 L247.3 128.5 L247.3 127.8 L247.3 124.7 L247.6 124.4 L247.3 123.2 L247.6 121.8 L247.6 119.8 L247.6 121.5 L247.6 118.7 L247.2 117.6 L247.5 117.3 L247.4 116.8 L247.7 115.2 L247.5 113.3 L247.7 115.5 L247.7 114.5 L247.5 118.3 L247.8 118.0 L247.8 118.6 L247.8 118.5 L247.5 120.5 L247.5 121.4 L247.9 124.0 L247.5 123.4 L247.9 125.6 L247.5 125.6 L247.9 128.6 L247.7 128.3 L247.8 130.0 L247.6 128.9 L248.1 127.6 L247.9 126.2 L248.1 126.8 L247.8 126.1 L248.2 123.5 L248.0 123.3 L247.9 120.5 L248.3 120.8 L248.1 119.7 L248.3 117.3 L248.3 116.6 L248.3 115.9 L248.3 113.3 L248.5 113.9 L248.1 111.8 L248.1 112.4 L248.3 110.0 L248.1 112.2 L248.6 112.6 L248.6 115.0 L248.4 113.2 L248.4 117.2 L248.4 116.7 L248.5 118.9 L248.4 120.0 L248.5 119.7 L248.4 121.8 L248.6 123.8 L248.8 123.2 L248.7 124.4 L248.6 126.6 L248.9 125.7 L248.7 128.3 L249.2 130.0 L249.4 130.5 L249.0 127.2 L249.5 126.0 L249.4 124.9 L249.1 125.4 L249.1 123.3 L249.4 123.3 L249.1 122.6 L249.2 118.6 L249.5 118.4 L249.5 118.8 L249.2 117.6 L249.3 114.8 L249.6 113.5 L249.6 112.5 L249.7 113.0 L249.4 111.1 L249.5 110.0 L249.5 112.0 L249.5 111.3 L249.7 112.1 L249.6 114.8 L249.5 116.6 L249.8 116.2 L249.5 118.2 L249.5 119.2 L249.9 119.4 L249.5 122.2 L249.9 122.6 L249.8 124.2 L249.8 123.2 L250.0 126.9 L249.8 126.7 L250.0 124.2 L250.1 124.7 L250.1 122.1 L250.1 122.3 L250.0 120.6 L249.7 120.3 L249.7 119.1 L249.9 116.2 L249.9 117.7 L249.9 115.5 L250.0 115.3 L250.1 113.3 L249.8 113.3 L250.0 109.1 L249.8 110.5 L250.0 108.3 L250.2 105.6 L250.0 106.0 L250.3 105.0 L250.5 105.3 L250.4 101.0 L250.6 100.9 L250.9 100.6 L250.6 99.2 L251.0 99.0 L250.9 97.3 L250.9 95.1 L251.3 94.0 L251.3 93.3 L251.3 93.6 L251.9 90.3 L251.9 88.7 L252.3 87.8 L252.5 87.2 L252.6 88.6 L252.6 88.6 L252.7 90.7 L252.8 91.1 L252.7 91.2 L253.2 94.7 L252.9 95.2 L253.2 95.9 L253.2 96.7 L253.3 98.3 L253.3 98.0 L253.3 99.2 L253.4 101.8 L253.7 104.0 L253.6 105.5 L253.9 103.9 L253.7 107.7 L253.8 107.9 L254.0 110.5 L254.2 110.0 L254.4 110.9 L254.2 112.8 L254.5 113.8 L254.9 113.0 L254.6 115.6 L255.1 118.4 L255.0 118.3 L255.3 115.9 L255.3 116.0 L255.3 113.7 L255.4 112.4 L255.6 113.7 L255.8 110.4 L255.8 110.0 L256.1 108.8 L256.4 106.1 L256.6 106.7 L257.0 104.7 L257.2 104.7 L257.3 108.7 L257.1 107.7 L257.4 110.8 L257.4 110.3 L257.4 113.1 L257.2 111.7 L257.5 115.3 L257.4 114.4 L257.7 116.7 L257.8 118.3 L257.8 118.7 L257.7 119.5 L257.6 122.6 L257.4 122.5 L257.6 121.7 L257.9 124.7 L257.5 126.6 L257.7 127.4 L257.5 128.9 L257.8 128.6 L257.8 131.5 L257.7 130.6 L257.6 133.6 L257.7 133.3 L257.4 133.1 L257.7 132.2 L257.6 131.3 L257.6 130.3 L257.5 127.9 L257.7 126.7 L257.7 126.6 L257.8 127.6 L257.8 130.9 L257.9 129.7 L258.0 130.9 L257.7 131.8 L258.0 135.9 L258.1 134.7 L257.8 138.0 L258.3 138.5 L257.9 140.3 L258.2 138.6 L257.9 141.1 L258.2 142.2 L258.0 143.9 L258.1 144.9 L258.3 144.8 L258.3 146.7 L258.4 148.9 L258.4 150.4 L258.2 150.0 L258.4 149.7 L258.6 153.5 L258.6 152.5 L258.8 152.9 L258.4 156.8 L258.6 155.3 L258.9 158.1 L258.8 159.2 L258.8 160.0 L258.9 158.0 L259.0 156.9 L258.9 157.3 L259.1 155.1 L259.3 153.0 L259.0 153.8 L259.1 152.7 L259.3 152.4 L259.2 149.0 L259.4 149.7 L259.5 147.9 L259.7 147.2 L259.4 145.0 L259.6 144.1 L259.7 143.3 L259.5 142.3 L260.0 141.9 L259.9 139.2 L259.9 139.4 L260.1 135.9 L260.3 137.3 L260.4 135.5 L260.5 133.5 L260.5 132.5 L260.5 132.3 L260.5 136.5 L261.0 137.3 L261.0 138.7 L261.0 139.1 L261.3 138.1 L261.3 141.6 L261.3 141.7 L261.8 143.1 L262.1 145.4 L262.5 145.0 L262.4 145.3 L262.8 149.0 L263.1 150.2 L262.9 151.3 L263.2 149.5 L263.0 153.2 L263.3 153.3 L263.8 153.0 L263.9 153.0 L264.5 150.0 L264.7 152.9 L264.6 151.6 L264.7 154.0 L265.0 155.1 L265.1 155.1 L264.9 156.4 L265.2 159.8 L265.3 158.3 L265.5 160.8 L265.6 159.5 L265.8 158.8 L266.0 159.1 L265.9 157.7 L266.0 155.2 L266.3 153.1 L266.2 154.2 L266.3 151.7 L266.3 150.9 L266.4 148.3 L266.5 147.9 L266.3 145.9 L266.9 147.7 L266.8 146.6 L266.5 143.8 L267.0 141.4 L266.9 140.8 L266.9 139.9 L266.7 139.2 L266.9 136.8 L266.9 135.7 L267.0 137.6 L267.2 135.0 L267.2 133.8 L267.5 134.0 L267.3 130.7 L267.4 129.2 L267.6 130.1 L267.5 127.3 L267.8 125.7 L267.7 124.7 L267.7 125.8 L267.7 123.7 L268.1 121.1 L268.0 121.7 L268.0 121.8 L268.1 120.0 L268.2 116.6 L268.3 116.3 L268.4 116.3 L268.7 114.8 L268.7 113.0 L268.9 113.3 L269.0 115.1 L269.1 115.0 L269.3 117.1 L269.2 118.2 L269.1 120.8 L269.6 121.2 L269.6 122.3 L269.6 123.8 L269.7 125.0 L269.7 126.3 L269.7 127.0 L270.0 128.5 L269.9 130.4 L270.0 130.0 L270.1 133.0 L269.9 132.2 L270.2 133.3 L270.1 135.9 L270.3 135.7 L270.3 138.0 L270.3 138.3 L270.3 138.7 L270.5 140.3 L270.7 142.0 L270.5 141.1 L270.7 142.4 L271.0 146.5 L271.0 145.9 L270.9 147.8 L271.2 147.2 L271.1 149.4 L271.4 149.9 L271.3 151.7 L271.5 151.0 L271.4 155.2 L271.9 155.0 L272.0 155.1 L271.7 158.0 L272.0 159.4 L272.1 161.2 L272.3 160.2 L272.3 161.7 L272.4 163.9 L272.2 163.0 L272.6 164.3 L272.6 166.6 L272.8 166.0 L272.9 167.5 L272.7 170.4 L272.7 171.4 L272.8 171.0 L272.8 171.3 L272.9 172.4 L273.0 175.0 L273.1 172.8 L273.3 173.6 L273.4 172.1 L273.1 170.9 L273.2 168.5 L273.5 167.6 L273.6 166.5 L273.3 165.3 L273.3 165.9 L273.7 162.5 L273.6 163.9 L273.5 162.2 L273.7 160.0 L274.7 158.3 L274.7 158.4 L274.9 159.0 L275.1 162.6 L275.0 163.0 L274.8 165.4 L275.0 166.0 L275.1 165.8 L275.1 168.5 L275.1 169.6 L275.1 170.0 L275.2 170.5 L275.3 171.7 L275.3 174.3 L275.5 173.0 L275.8 174.9 L275.8 176.0 L276.0 178.4 L276.0 177.6 L275.8 178.8 L276.3 181.6 L276.2 181.7 L276.0 179.5 L276.0 180.0 L276.1 178.3 L276.2 175.7 L276.3 176.4 L276.2 175.9 L276.1 174.2 L276.0 171.2 L276.4 171.0 L276.1 169.1 L276.2 169.4 L276.6 167.0 L276.5 166.7 L276.2 165.3 L276.3 165.0 L276.3 165.6 L276.5 166.5 L276.4 166.8 L276.7 170.9 L276.7 170.0 L276.9 170.1 L276.9 172.6 L277.1 173.2 L277.0 175.0 L277.0 174.4 L277.0 172.7 L277.1 170.6 L277.1 170.9 L277.5 169.2 L277.7 167.6 L277.6 167.3 L277.8 165.4 L277.9 165.7 L277.7 162.2 L277.8 162.7 L278.0 161.7 L278.0 160.9 L278.0 158.7 L278.1 157.2 L278.6 156.0 L278.5 154.8 L278.7 155.0 L279.0 153.4 L278.9 151.8 L278.8 151.9 L278.9 148.8 L279.2 150.9 L279.0 147.3 L279.4 146.7 L279.4 146.7 L279.5 145.0 L279.7 142.5 L279.5 142.1 L279.8 140.5 L279.7 139.8 L279.9 138.7 L280.3 138.7 L280.3 136.2 L280.3 135.8 L280.6 138.5 L281.2 138.3 L281.0 139.0 L281.4 142.3 L281.5 142.5 L281.6 142.0 L281.8 145.1 L281.6 146.3 L281.5 145.0 L281.7 147.5 L282.1 149.8 L282.0 150.0 L282.3 150.3 L282.3 152.7 L282.0 153.0 L282.5 153.6 L282.5 155.4 L282.5 157.0 L282.4 157.8 L282.6 159.2 L282.9 161.1 L282.8 161.7 L282.8 159.2 L283.0 158.6 L283.1 157.5 L282.8 158.7 L283.1 155.7 L283.4 153.5 L283.1 153.4 L283.4 151.4 L283.4 152.5 L283.5 148.8 L283.2 147.6 L283.5 148.9 L283.3 146.1 L283.4 145.8 L283.4 143.0 L283.7 143.3 L283.7 141.5 L283.9 141.9 L283.9 140.0 L283.9 140.2 L284.3 138.5 L284.1 135.1 L284.4 134.5 L284.2 135.6 L284.3 132.0 L284.4 131.7 L284.4 132.6 L284.7 130.0 L285.0 130.5 L285.0 126.6 L285.0 125.8 L285.4 126.4 L285.6 123.9 L285.5 123.3 L285.6 122.9 L285.6 119.7 L285.9 119.0 L286.2 117.6 L286.3 117.0 L286.6 119.6 L286.7 118.7 L286.8 121.1 L286.5 122.4 L286.6 123.6 L286.9 122.1 L286.9 123.7 L287.1 125.0 L287.2 125.9 L287.0 128.3 L287.0 128.5 L287.2 130.1 L287.5 132.3 L287.1 131.5 L287.6 132.7 L287.6 135.7 L287.7 135.7 L287.8 137.5 L287.7 138.3 L287.5 137.7 L287.7 135.0 L288.0 136.2 L287.9 133.8 L287.9 132.9 L288.1 129.8 L288.1 130.9 L288.1 128.5 L288.3 126.9 L288.2 127.4 L288.3 124.6 L288.3 123.5 L288.3 123.3 L288.4 123.9 L288.8 119.9 L289.1 121.5 L289.0 118.8 L289.3 118.7 L289.7 116.3 L289.7 116.2 L289.9 120.0 L290.3 120.6 L290.2 121.8 L290.3 124.2 L290.5 125.0 L290.5 125.0 L290.9 125.6 L291.1 127.8 L291.1 129.1 L291.3 130.0 L291.7 130.3 L291.8 133.5 L291.8 133.5 L291.8 135.0 L291.8 135.9 L291.9 137.1 L292.2 138.3 L292.0 141.1 L292.5 140.8 L292.2 142.3 L292.3 143.4 L292.2 144.9 L292.6 145.3 L292.4 145.4 L292.3 147.9 L292.3 149.9 L292.6 149.2 L292.7 149.5 L292.8 152.8 L292.5 151.4 L292.6 153.4 L292.6 154.3 L292.6 154.9 L292.5 156.0 L292.7 157.6 L292.7 158.6 L292.7 160.2 L292.7 160.5 L292.8 162.6 L293.1 163.2 L293.0 165.3 L293.0 162.9 L293.2 161.7 L293.4 160.3 L293.1 161.4 L293.4 158.5 L293.4 157.8 L293.4 156.1 L293.5 156.7 L293.6 156.4 L293.8 153.6 L293.8 153.5 L293.8 151.7 L293.9 152.0 L294.2 150.2 L294.3 147.7 L294.1 147.7 L294.1 147.0 L294.2 144.5 L294.4 143.6 L294.5 141.8 L294.3 140.8 L294.7 141.0 L294.6 139.2 L294.7 138.3 L294.7 138.9 L295.1 136.8 L294.9 135.8 L295.1 135.5 L295.3 132.0 L295.3 131.2 L295.3 131.0 L295.4 129.0 L295.5 128.3 L295.8 130.0 L295.8 130.0 L295.5 132.8 L295.9 133.0 L296.0 135.7 L296.1 134.7 L296.2 136.3 L296.2 138.7 L296.2 137.1 L296.0 138.1 L296.3 140.8 L296.6 141.2 L296.7 140.1 L296.3 136.1 L296.6 137.2 L296.8 134.4 L296.8 133.3 L296.8 132.2 L297.1 130.1 L296.7 128.9 L296.9 129.2 L297.2 129.0 L297.2 126.7 L297.0 126.9 L297.4 125.6 L297.3 122.4 L297.6 123.3 L297.6 121.0 L297.9 120.9 L297.5 118.8 L297.7 116.1 L298.2 116.8 L298.0 115.0 L298.2 114.9 L298.1 114.1 L298.5 112.5 L298.7 110.3 L298.7 107.3 L298.8 109.1 L298.8 106.7 L298.6 106.2 L298.9 105.4 L299.0 101.6 L298.8 101.7 L298.7 104.4 L298.8 103.5 L298.9 104.6 L299.0 108.0 L298.6 108.8 L298.8 109.7 L298.8 110.0 L298.9 110.1 L298.9 109.2 L298.8 106.2 L298.8 104.1 L298.9 105.4 L299.0 102.7 L298.7 101.3 L298.8 99.7 L298.8 100.8 L298.9 98.8 L298.8 99.0 L299.1 95.1 L299.0 96.5 L298.7 95.7 L298.8 92.2 L298.8 92.9 L298.8 91.6 L298.7 88.9 L299.0 88.7 L299.0 89.7 L299.1 90.2 L299.2 91.9 L299.1 92.0 L299.2 95.4 L299.2 93.9 L299.1 96.6 L299.4 96.0 L299.1 98.6 L299.6 101.3 L299.1 101.0 L299.3 103.5 L299.2 102.5 L299.5 103.8 L299.4 105.4 L299.5 106.7 L299.4 105.6 L299.5 104.3 L299.8 103.6 L299.8 101.6 L299.9 100.7 L299.8 98.9 L299.8 97.8 L299.7 97.0 L299.6 97.3 L299.9 96.4 L300.0 94.4 L300.0 93.3 L299.9 95.9 L299.9 94.7 L300.3 96.4 L299.9 96.8 L300.1 99.1 L300.3 98.7 L300.2 100.8 L300.2 103.1 L300.3 104.6 L300.0 104.0 L300.5 107.2 L300.1 107.3 L300.5 108.1 L300.3 109.2 L300.8 108.3 L301.1 106.5 L300.8 105.9 L300.8 104.0 L300.7 102.5 L300.8 101.6 L300.9 101.6 L301.1 99.0 L301.2 97.9 L301.2 98.7 L301.0 97.8 L300.9 94.3 L301.3 94.5 L301.3 94.4 L301.0 93.5 L300.9 90.9 L301.2 90.0 L301.3 92.5 L301.3 90.5 L301.7 93.3 L301.7 94.9 L302.0 94.6 L301.6 97.8 L301.7 96.7 L302.0 97.7 L301.9 101.8 L302.0 102.7 L302.1 102.7 L301.8 103.6 L302.1 105.5 L302.0 104.7 L301.7 106.4 L302.0 108.3 L301.8 107.3 L301.8 106.2 L302.1 104.1 L302.0 105.0 L301.9 103.3 L301.9 102.0 L301.9 101.7 L302.0 99.3 L302.0 97.7 L302.2 98.3 L302.0 96.9 L302.3 93.5 L302.0 93.5 L302.0 92.6 L302.3 90.1 L302.5 90.0 L302.4 88.3 L302.5 89.3 L302.1 87.1 L302.2 87.4 L302.3 85.0 L302.4 82.7 L302.4 82.8 L302.7 81.7 L302.6 82.9 L302.6 83.5 L302.7 84.2 L302.8 87.6 L302.8 85.7 L302.7 88.9 L302.7 89.1 L302.6 90.2 L302.6 93.2 L302.6 91.6 L302.6 93.7 L302.7 95.9 L303.1 96.2 L302.7 98.8 L302.8 98.3 L302.9 100.0 L302.9 101.4 L303.2 101.5 L302.8 103.2 L303.2 103.2 L303.0 105.0 L303.2 105.0 L303.1 102.1 L302.8 100.5 L303.2 100.3 L302.8 99.2 L303.0 97.6 L302.9 97.2 L303.4 96.5 L303.0 95.7 L303.1 93.3 L303.3 91.0 L303.2 92.8 L303.3 89.2 L303.4 88.2 L303.3 87.9 L303.1 85.6 L303.1 84.4 L303.0 85.8 L303.5 82.8 L303.4 81.6 L303.3 81.3 L303.5 81.5 L303.5 83.4 L303.5 84.1 L303.5 85.9 L303.7 87.4 L303.7 88.8 L303.7 90.2 L303.5 91.0 L303.3 90.9 L303.7 91.0 L303.5 93.5 L303.9 95.9 L303.8 94.2 L303.9 96.5 L303.9 99.0 L303.9 99.7 L303.9 100.1 L303.7 101.2 L303.8 103.4 L303.8 103.3 L303.8 100.9 L303.9 102.1 L303.7 99.5 L304.0 99.8 L303.8 97.6 L304.1 96.6 L304.0 96.2 L303.8 94.2 L304.2 92.9 L304.0 91.1 L304.2 90.1 L304.1 90.0 L304.1 88.6 L304.1 87.5 L304.5 87.2 L304.3 85.0 L304.6 85.0 L304.3 85.9 L304.3 89.4 L304.5 89.4 L304.4 89.9 L304.5 90.8 L304.6 92.0 L304.5 95.7 L304.6 95.6 L304.3 97.9 L304.6 98.1 L304.5 98.5 L304.5 99.3 L304.5 101.8 L304.8 102.4 L304.8 103.8 L304.6 103.2 L304.6 105.3 L304.7 106.7 L304.6 107.2 L304.8 104.2 L304.7 101.8 L305.0 102.4 L305.2 100.6 L305.0 100.0 L305.2 98.1 L304.8 96.2 L305.3 95.7 L305.2 94.8 L305.1 95.7 L305.3 94.5 L305.1 91.3 L305.1 90.1 L305.0 89.9 L305.4 87.8 L305.4 88.4 L305.0 87.6 L305.5 87.1 L305.2 86.1 L305.3 83.3 L305.7 81.7 L305.5 81.4 L305.9 84.6 L305.6 85.0 L305.7 87.2 L305.8 87.2 L306.0 89.7 L305.7 89.2 L305.6 91.3 L305.9 91.2 L305.8 92.5 L305.8 95.2 L306.1 96.6 L306.1 94.9 L306.1 96.3 L306.0 98.7 L306.0 100.5 L306.0 99.9 L306.0 100.7 L306.0 103.3 L306.0 103.5 L306.3 102.0 L306.0 98.7 L305.9 97.3 L306.4 99.3 L306.0 97.2 L306.4 94.5 L306.0 93.6 L306.1 91.8 L306.0 93.0 L306.3 91.9 L306.2 90.5 L306.5 89.4 L306.1 87.9 L306.4 85.8 L306.5 85.8 L306.2 82.6 L306.3 82.5 L306.7 82.8 L306.6 81.8 L306.5 79.7 L306.4 82.1 L306.7 82.7 L306.3 81.9 L306.5 84.6 L306.8 86.1 L306.7 86.4 L306.5 88.8 L306.5 88.2 L306.9 88.6 L306.8 92.0 L306.8 91.4 L306.6 92.6 L306.9 95.5 L306.7 94.8 L306.8 95.4 L306.8 98.8 L306.9 97.0 L307.0 98.9 L306.9 99.8 L306.8 101.7 L306.7 101.5 L306.6 99.3 L306.7 96.8 L306.9 95.4 L306.9 96.7 L307.2 95.9 L307.0 93.3 L307.2 94.2 L306.8 94.9 L307.1 97.3 L307.0 97.9 L307.3 100.1 L307.2 98.8 L307.1 100.5 L307.0 100.7 L307.3 102.8 L307.3 104.2 L307.4 106.2 L307.1 106.9 L307.2 106.7 L307.3 107.9 L307.3 110.0 L308.0 111.7 L308.8 110.8 L308.6 112.5 L308.8 112.2 L308.6 115.9 L308.8 114.3 L309.0 117.9 L308.8 118.0 L309.0 118.4 L308.8 119.6 L308.8 121.7 L309.1 123.4 L308.7 124.1 L308.9 124.7 L308.8 125.5 L309.1 127.6 L308.9 129.3 L309.1 130.4 L308.9 131.7 L309.1 133.7 L309.0 132.7 L309.2 132.7 L309.3 136.8 L309.2 138.0 L309.5 136.6 L309.4 137.6 L309.5 140.5 L309.5 140.8 L309.6 144.0 L309.6 142.6 L309.8 145.9 L309.7 145.8 L309.8 144.5 L309.8 143.4 L309.8 140.8 L310.1 140.7 L310.0 139.6 L310.0 139.5 L310.4 138.6 L310.4 135.9 L310.3 136.5 L310.5 133.1 L310.5 133.3 L310.8 133.2 L310.7 130.2 L310.9 131.3 L310.9 128.2 L311.2 127.1 L310.8 128.2 L311.0 125.0 L311.3 123.2 L311.3 123.3 L311.5 123.1 L312.2 120.8 L312.4 122.3 L312.6 124.3 L312.2 125.5 L312.2 126.3 L312.6 126.0 L312.7 127.5 L312.5 129.8 L312.8 131.9 L312.6 132.1 L312.8 132.7 L313.2 135.0 L313.0 135.0 L313.8 133.3 L313.7 133.5 L313.9 136.2 L314.2 135.3 L314.4 138.3 L314.5 139.6 L314.5 140.6 L314.3 140.4 L314.7 142.5 L314.5 143.0 L314.5 144.8 L315.1 146.1 L314.8 146.9 L315.0 148.3 L315.0 148.2 L315.1 146.2 L315.3 143.7 L315.6 142.5 L315.3 143.2 L315.8 141.4 L315.5 140.8 L315.7 139.8 L315.8 138.3 L315.7 136.6 L316.1 134.4 L316.1 133.6 L315.9 134.2 L316.2 131.9 L316.1 131.2 L316.1 132.0 L316.1 130.5 L316.2 127.9 L316.6 125.8 L316.6 127.2 L316.5 124.6 L316.4 123.1 L316.7 121.3 L316.8 119.7 L316.7 120.0 L317.7 118.3 L317.7 121.0 L317.8 119.6 L317.9 123.1 L318.1 123.4 L318.3 124.3 L318.3 124.1 L318.4 127.0 L318.5 128.5 L318.5 128.1 L318.7 130.0 L318.8 130.7 L319.0 133.3 L319.0 133.0 L319.0 134.3 L319.0 137.0 L318.9 135.2 L319.3 136.3 L319.3 139.4 L319.2 138.4 L319.5 141.4 L319.6 143.0 L319.7 142.9 L319.7 143.8 L319.6 144.9 L319.7 146.7 L319.8 144.2 L319.9 146.0 L320.0 142.2 L320.2 141.8 L320.4 141.2 L320.4 139.9 L320.5 138.3 L320.7 137.0 L320.7 136.3 L321.2 133.1 L321.3 133.3 L321.4 133.4 L321.5 130.0 L321.7 129.2 L321.6 127.0 L321.8 128.5 L321.9 124.8 L321.8 124.6 L321.8 124.7 L322.1 124.2 L322.2 121.7 L322.1 119.0 L322.4 118.4 L322.6 119.7 L322.8 116.3 L322.8 115.8 L322.9 116.1 L322.9 113.8 L323.0 112.5 L323.1 112.6 L323.2 114.9 L323.0 117.4 L323.3 117.9 L323.4 118.7 L323.3 118.7 L323.4 119.3 L323.6 121.3 L323.7 122.4 L324.0 124.3 L323.8 125.0 L323.8 124.6 L323.8 124.0 L323.8 121.7 L323.9 122.6 L324.2 124.0 L324.2 124.6 L324.2 127.2 L324.4 127.4 L324.5 129.8 L324.7 130.0 L324.8 132.7 L324.7 131.9 L324.9 134.1 L325.0 134.4 L325.1 136.7 L325.2 136.7 L325.4 137.0 L325.3 139.6 L325.3 140.8 L325.3 141.7 L325.2 143.2 L325.4 142.8 L325.7 145.2 L325.6 146.3 L325.4 145.7 L325.6 147.4 L325.6 148.2 L325.9 149.9 L325.7 151.9 L326.1 152.5 L325.9 153.2 L326.0 155.0 L326.2 155.3 L326.3 158.7 L325.9 157.7 L325.9 159.5 L326.0 162.4 L326.0 160.8 L326.4 162.3 L326.2 164.0 L326.4 164.7 L326.5 166.1 L326.2 166.9 L326.6 169.1 L326.5 170.0 L326.5 169.7 L326.6 171.1 L326.7 173.3 L326.7 172.8 L326.8 170.7 L326.8 169.9 L326.6 169.8 L326.7 167.2 L326.6 168.1 L327.1 164.5 L327.0 162.8 L327.1 162.7 L327.0 162.7 L327.0 159.7 L327.0 161.1 L327.1 158.7 L327.2 156.7 L327.3 157.0 L327.3 156.7 L327.1 155.6 L327.3 152.0 L327.5 152.4 L327.2 150.9 L327.3 149.1 L327.5 146.8 L327.3 146.7 L327.3 145.7 L327.5 145.0 L328.0 141.8 L328.2 142.5 L328.7 141.7 L328.8 142.3 L328.9 143.4 L329.3 146.5 L329.2 145.2 L329.5 149.3 L329.4 149.0 L329.7 150.0 L329.7 151.8 L329.9 153.8 L329.7 154.4 L330.1 155.1 L329.9 155.8 L330.2 156.4 L330.0 158.0 L330.1 158.7 L330.2 160.2 L330.5 162.7 L330.2 163.4 L330.5 162.4 L330.7 164.4 L330.4 166.1 L330.7 167.7 L330.9 168.2 L331.0 169.7 L330.8 170.0 L330.9 168.3 L331.1 167.6 L331.0 167.1 L331.1 165.3 L331.0 162.9 L331.4 163.7 L331.1 162.3 L331.4 161.6 L331.5 160.2 L331.2 159.7 L331.3 156.6 L331.7 157.3 L331.5 156.5 L331.6 154.7 L331.7 153.3 L331.7 151.9 L331.8 150.1 L332.1 149.1 L332.1 149.3 L332.4 146.4 L332.5 146.7 L332.8 145.5 L332.9 144.3 L332.9 141.4 L333.0 142.8 L333.0 139.3 L333.0 138.1 L333.0 138.4 L333.3 137.0 L334.2 138.3 L334.2 139.0 L334.2 139.6 L334.4 141.9 L334.2 144.3 L334.3 143.4 L334.5 143.3 L334.6 145.9 L334.3 146.3 L334.4 147.0 L334.8 147.9 L334.5 149.8 L334.7 150.0 L335.0 151.5 L334.9 152.2 L334.9 156.1 L335.0 157.3 L334.8 156.7 L335.0 158.3 L335.1 158.8 L335.3 156.0 L335.2 154.0 L335.2 154.4 L335.5 154.0 L335.4 151.7 L335.3 149.1 L335.8 150.0 L335.7 149.0 L335.5 146.8 L335.8 146.3 L335.6 146.4 L336.1 144.0 L336.0 143.8 L336.0 141.7 L335.9 139.6 L336.2 137.9 L336.0 137.2 L336.4 137.2 L336.3 135.7 L336.1 133.5 L336.2 134.0 L336.4 134.0 L336.3 132.3 L336.5 130.1 L336.3 128.4 L336.7 126.9 L336.4 127.8 L336.6 126.6 L336.7 125.0 L337.8 125.3 L337.6 126.5 L337.7 127.0 L338.0 127.5 L337.8 131.4 L338.1 129.3 L338.0 130.6 L338.0 132.0 L338.1 132.7 L338.0 134.4 L338.1 136.2 L338.4 136.5 L337.9 138.9 L338.3 139.8 L338.2 141.6 L338.0 141.7 L338.2 143.6 L338.1 143.0 L338.3 144.7 L338.3 146.7 L338.2 148.9 L338.7 149.8 L338.3 149.5 L338.5 150.0 L338.8 153.4 L338.4 152.0 L338.9 156.0 L338.8 154.0 L338.8 157.6 L338.7 158.5 L339.1 157.9 L339.1 160.4 L339.1 161.2 L338.7 162.4 L339.0 163.3 L339.1 163.4 L339.3 167.0 L339.1 168.4 L339.2 169.4 L339.2 168.6 L339.4 171.6 L339.4 170.1 L339.6 173.5 L339.7 174.2 L339.4 175.0 L339.9 176.6 L339.6 177.8 L339.9 177.3 L339.9 179.4 L339.8 181.0 L340.1 181.6 L340.4 182.1 L340.4 182.8 L340.3 185.1 L340.7 183.5 L341.1 182.5 L341.4 181.7 L342.6 179.9 L342.3 180.3 L342.7 181.7 L342.5 183.9 L342.4 184.8 L342.6 185.3 L342.7 187.4 L342.6 188.8 L342.4 189.3 L342.8 191.3 L342.6 191.7 L342.8 189.9 L342.8 188.3 L342.4 187.7 L342.8 185.1 L342.8 184.4 L342.7 184.3 L342.6 183.0 L342.5 183.3 L342.5 186.8 L342.8 185.7 L342.5 187.0 L342.5 190.1 L342.8 190.4 L342.4 190.8 L342.8 190.7 L342.5 194.1 L342.4 195.2 L342.4 194.4 L342.6 197.9 L342.4 197.7 L342.6 199.0 L342.4 200.5 L342.6 202.3 L342.6 202.2 L342.6 203.2 L342.7 204.3 L342.6 207.1 L342.8 208.2 L342.5 208.0 L342.6 209.2 L342.4 207.3 L342.8 206.0 L342.5 205.5 L342.4 205.8 L342.5 202.9 L342.7 203.5 L342.4 200.8 L342.5 199.0 L342.3 198.8 L342.7 199.6 L342.4 198.2 L342.5 195.8 L342.6 195.0 L342.7 193.2 L342.5 192.6 L342.4 192.0 L342.7 189.5 L342.8 189.3 L342.6 189.4 L342.6 185.6 L342.6 186.0 L342.4 185.8 L342.8 187.6 L342.4 189.9 L342.4 189.4 L342.8 192.2 L342.7 193.5 L342.5 194.4 L342.4 195.2 L342.4 197.2 L342.3 199.1 L342.7 198.0 L342.5 199.7 L342.3 201.0 L342.7 202.7 L342.6 203.3 L342.6 201.4 L342.4 200.4 L342.4 199.3 L342.4 198.4 L342.4 196.8 L342.7 198.0 L342.7 196.3 L342.7 195.6 L342.5 191.5 L342.7 190.7 L342.4 189.6 L342.4 188.1 L342.6 189.6 L342.7 187.2 L342.4 186.4 L342.4 186.6 L342.6 184.0 L342.6 185.8 L342.6 186.4 L342.7 188.2 L342.5 187.9 L342.6 188.9 L342.7 192.0 L342.7 191.4 L342.6 192.9 L342.6 194.0 L342.6 194.4 L342.6 190.7 L342.5 190.7 L342.7 191.1 L342.4 189.7 L342.5 188.8 L342.7 186.6 L342.8 183.9 L342.8 185.0 L342.6 183.0 L342.5 184.2 L342.7 185.6 L342.7 186.9 L342.6 187.9 L342.4 188.8 L342.7 188.3 L342.8 191.4 L342.8 192.3 L342.5 193.5 L342.9 192.9 L343.0 195.8 L342.9 195.2 L343.0 196.1 L342.9 197.6 L342.9 199.7 L342.5 199.9 L342.7 201.0 L342.6 203.1 L342.6 202.5 L342.8 205.3 L342.8 207.5 L342.7 206.7 L342.7 207.0 L342.6 210.9 L342.9 211.7 L342.9 213.2 L342.9 211.4 L343.1 213.2 L342.9 215.0 L342.7 213.0 L343.1 211.9 L342.8 213.2 L343.0 212.0 L343.2 208.0 L343.0 209.3 L343.2 208.5 L343.0 205.0 L342.8 205.0 L343.0 203.2 L343.2 202.3 L343.0 200.6 L342.9 200.9 L343.3 198.1 L343.2 198.0 L343.3 198.7 L343.0 195.2 L342.9 193.7 L343.4 195.3 L343.3 192.2 L343.1 193.0 L343.4 190.6 L343.1 190.9 L343.5 188.7 L343.4 188.7 L343.5 187.1 L343.3 185.0 L343.3 185.7 L343.2 187.9 L343.4 188.7 L343.3 189.4 L343.7 192.0 L343.6 192.8 L343.6 191.4 L343.4 194.2 L343.7 195.4 L343.6 194.7 L343.8 197.5 L343.6 197.7 L344.0 195.4 L343.6 194.2 L343.9 191.8 L344.1 192.4 L343.7 191.9 L343.8 188.1 L344.2 189.0 L344.1 188.5 L343.9 185.5 L344.0 186.1 L344.0 185.5 L344.2 183.0 L344.2 185.6 L344.4 184.0 L344.2 186.8 L344.6 189.3 L344.6 188.1 L344.6 190.4 L344.6 191.7 L344.7 190.3 L344.5 188.1 L344.9 187.7 L344.8 187.9 L344.8 184.1 L344.9 185.0 L344.8 184.1 L345.0 182.0 L344.9 181.8 L345.1 183.0 L345.0 184.2 L345.0 185.7 L345.4 187.1 L345.0 188.8 L345.2 190.7 L345.1 191.0 L345.4 193.1 L345.2 193.0 L345.2 193.1 L345.4 196.2 L345.3 197.7 L345.2 198.9 L345.3 198.8 L345.2 199.6 L345.6 201.1 L345.5 202.2 L345.8 200.6 L345.4 200.4 L345.7 198.7 L345.8 196.3 L345.7 195.4 L345.9 194.7 L346.0 195.0 L345.8 193.5 L345.8 193.6 L345.7 191.8 L346.1 188.4 L346.1 188.2 L346.0 187.3 L345.8 184.9 L345.8 185.9 L346.0 184.0 L346.1 184.2 L346.1 186.0 L346.1 186.3 L346.3 189.8 L346.1 190.5 L346.5 190.6 L346.4 191.7 L346.5 191.9 L346.6 190.7 L346.5 187.2 L346.5 185.8 L346.6 186.5 L346.6 185.8 L347.0 183.5 L346.6 182.3 L346.9 181.0 L347.2 180.7 L346.7 182.6 L347.0 185.5 L347.1 186.2 L347.3 187.9 L347.3 187.9 L347.3 187.9 L347.3 190.6 L347.3 191.9 L347.2 194.2 L347.2 193.1 L347.2 195.2 L347.3 195.0 L347.4 191.7 L347.3 190.2 L347.6 191.9 L347.5 189.2 L347.6 189.7 L347.9 188.5 L347.9 184.8 L347.7 185.1 L347.8 183.5 L347.6 181.0 L348.0 182.1 L348.0 180.8 L348.0 179.5 L347.8 176.4 L347.9 177.1 L347.8 177.2 L347.8 176.0 L347.6 174.7 L348.0 171.7 L347.8 172.2 L347.8 170.0 L348.0 169.6 L347.6 168.0 L347.9 165.9 L347.6 166.3 L348.0 165.6 L347.7 164.0 L347.9 161.9 L347.7 162.0 L347.7 159.6 L347.8 158.3 L348.4 157.2 L348.6 157.1 L348.9 155.7 L348.9 153.4 L349.0 154.3 L349.1 150.7 L349.4 150.2 L349.5 150.2 L349.4 152.5 L349.8 153.0 L349.5 154.9 L349.9 154.8 L349.8 157.9 L349.9 158.3 L349.8 159.9 L350.2 160.8 L350.0 162.2 L350.3 164.5 L350.1 163.3 L350.4 165.3 L350.5 167.5 L350.8 169.2 L350.7 168.9 L350.8 169.5 L351.0 169.7 L351.1 172.3 L351.2 173.2 L351.1 174.6 L351.3 174.5 L351.5 177.6 L351.4 177.2 L351.6 179.3 L351.7 181.9 L351.5 181.2 L351.7 184.6 L351.6 183.1 L351.6 185.5 L351.6 187.0 L351.6 189.0 L352.0 189.6 L351.7 190.8 L351.9 193.0 L352.0 191.1 L352.4 192.8 L352.3 195.2 L352.3 196.0 L352.4 196.0 L352.3 199.0 L352.6 200.3 L352.8 202.4 L352.6 202.2 L352.7 202.8 L352.8 203.9 L353.1 205.7 L353.3 204.6 L353.5 201.7 L353.3 200.4 L353.8 201.4 L353.6 198.7 L353.7 199.0 L353.9 197.5 L353.9 199.1 L354.1 199.4 L354.3 200.7 L354.2 202.0 L354.4 203.3 L354.4 203.8 L354.6 204.5 L354.8 206.8 L355.1 209.3 L355.5 208.1 L355.5 210.7 L355.8 211.5 L356.1 212.8 L356.0 214.0 L355.8 215.7 L356.3 214.7 L356.2 217.1 L356.6 218.2 L356.6 220.8 L356.6 220.8 L356.6 221.8 L356.4 223.3 L356.6 223.8 L356.7 225.7 L356.6 227.5 L356.6 227.3 L356.5 227.2 L356.9 229.9 L356.5 230.2 L356.8 230.8 L356.7 233.3 L356.7 232.9 L356.5 236.7 L356.7 236.2 L356.7 236.9 L356.6 237.5 L357.0 238.6 L356.7 241.1 L357.0 242.8 L357.0 244.8 L356.9 245.0 L357.2 244.3 L357.1 247.2 L357.0 249.2 L357.0 249.9 L357.3 251.9 L357.2 251.7 L357.4 250.7 L357.1 249.7 L357.1 247.5 L357.4 248.6 L357.4 245.8 L357.4 243.4 L357.3 242.1 L357.3 241.3 L357.2 242.5 L357.6 240.6 L357.5 240.6 L357.8 237.6 L357.7 237.1 L357.8 235.4 L357.7 234.0 L357.7 233.3 L357.6 231.6 L358.0 232.6 L358.0 228.3 L358.1 227.8 L358.1 228.5 L358.0 226.3 L357.9 225.1 L358.1 225.8 L358.4 222.3 L358.6 221.0 L358.5 220.1 L358.5 220.7 L358.6 219.6 L358.6 215.6 L358.9 217.4 L358.6 214.2 L358.7 213.1 L358.9 212.7 L359.1 211.7 L359.0 211.8 L358.8 209.5 L359.2 207.2 L359.0 206.7 L359.1 206.9 L359.1 203.9 L359.3 202.0 L359.1 203.4 L359.5 200.9 L359.6 200.3 L359.5 199.5 L359.5 197.5 L359.4 197.0 L359.5 196.0 L359.5 194.0 L359.7 192.6 L360.0 190.3 L359.9 191.4 L360.0 189.4 L359.7 187.5 L360.1 186.6 L360.1 185.8 L360.3 185.9 L360.0 182.7 L360.0 183.9 L359.9 180.2 L360.2 181.8 L359.9 178.8 L359.8 178.0 L359.9 177.7 L360.1 176.7 L360.2 173.6 L360.1 174.6 L360.1 171.0 L359.9 171.4 L360.1 170.0 L360.0 167.4 L360.3 169.1 L360.2 167.1 L359.9 166.8 L359.9 164.4 L360.0 161.9 L360.2 160.9 L360.2 160.0 L360.0 160.6 L360.1 158.3 L360.2 158.6 L359.9 161.5 L360.1 161.8 L360.9 163.0 L361.6 162.4 L361.7 162.9 L361.9 164.2 L362.0 165.0 L361.8 168.1 L361.9 166.7 L361.9 169.5 L362.2 170.2 L362.2 171.5 L362.4 172.3 L362.4 173.5 L362.6 174.9 L362.6 175.0 L363.0 176.3 L362.6 178.9 L362.6 178.4 L363.0 182.1 L363.0 181.7 L363.0 183.0 L363.1 184.1 L363.0 186.5 L363.0 185.9 L363.0 188.4 L363.2 189.3 L363.2 189.8 L363.6 191.7 L363.5 191.8 L363.4 195.6 L363.6 195.6 L363.6 195.4 L363.7 197.0 L363.9 199.5 L363.8 200.8 L364.0 201.7 L363.8 203.7 L364.2 203.3 L364.4 204.4 L364.1 206.8 L364.3 208.3 L364.3 206.7 L364.4 208.7 L364.3 210.1 L364.5 210.0 L364.4 214.0 L364.4 212.6 L364.4 216.4 L364.3 215.5 L364.6 218.1 L364.7 218.3 L364.9 220.5 L364.7 220.8 L364.8 222.0 L364.7 220.1 L364.7 220.5 L364.6 218.2 L364.9 218.5 L365.0 215.2 L365.0 216.6 L365.0 215.9 L364.9 214.0 L365.1 212.1 L365.1 211.2 L365.1 208.2 L364.9 210.1 L364.9 208.1 L364.8 207.2 L365.1 205.7 L364.8 204.4 L365.3 202.7 L364.9 202.2 L365.1 201.0 L365.2 198.7 L365.1 200.1 L365.0 196.7 L365.5 197.5 L365.4 195.4 L365.2 193.3 L365.1 194.7 L365.4 193.6 L365.3 191.6 L365.6 190.9 L365.5 189.0 L365.4 187.5 L365.4 185.3 L365.6 185.3 L365.7 186.5 L365.9 188.3 L365.6 187.8 L365.6 190.2 L366.0 189.5 L365.8 190.6 L366.0 191.6 L366.3 195.5 L366.3 196.6 L366.0 196.1 L366.3 197.5 L366.6 197.4 L366.5 201.4 L366.8 201.6 L367.0 200.6 L367.1 203.3 L367.4 203.9 L367.3 206.9 L367.7 206.7 L367.5 209.8 L367.7 209.4 L367.9 210.3 L368.0 211.3 L368.2 211.3 L368.2 212.2 L368.3 215.8 L368.0 216.9 L368.5 216.8 L368.1 219.1 L368.4 218.6 L368.3 222.4 L368.7 221.6 L368.3 222.4 L368.6 224.3 L368.6 222.5 L368.9 222.3 L368.6 219.2 L368.8 218.0 L369.0 218.0 L369.0 216.7 L369.1 217.2 L369.3 214.0 L369.2 213.8 L369.6 213.3 L369.7 215.2 L370.0 217.3 L369.9 220.1 L369.9 218.4 L369.9 220.3 L370.2 221.2 L370.2 224.1 L370.5 224.1 L370.5 226.9 L370.6 227.8 L370.5 228.1 L370.4 228.6 L370.6 230.1 L371.4 230.1 L371.7 228.9 L371.4 229.2 L371.4 225.3 L371.4 225.0 L371.8 225.5 L371.8 222.8 L371.5 223.3 L371.8 220.9 L371.8 221.1 L372.0 218.3 L371.8 218.0 L372.0 217.4 L372.1 215.0 L372.2 213.3 L372.0 212.7 L372.3 212.9 L372.4 209.5 L372.4 210.3 L372.4 207.1 L372.3 208.9 L372.5 207.5 L372.1 203.9 L372.4 204.5 L372.4 202.5 L372.2 202.1 L372.6 200.4 L372.5 200.3 L372.6 199.9 L372.3 198.3 L372.7 195.6 L372.8 195.2 L372.6 194.0 L372.4 194.2 L372.6 191.3 L372.6 192.2 L372.6 189.6 L372.8 188.8 L372.4 188.7 L372.6 187.4 L372.6 184.0 L372.5 183.2 L372.7 182.0 L372.4 180.3 L372.4 179.1 L372.6 179.7 L372.6 179.1 L372.6 175.4 L372.5 176.7 L372.5 175.1 L372.6 174.7 L372.5 172.1 L372.5 169.7 L372.6 170.0 L372.8 170.0 L372.7 168.9 L372.4 166.1 L372.4 165.2 L372.3 165.9 L372.5 162.3 L372.8 163.0 L372.7 161.2 L372.6 160.1 L372.6 160.1 L372.7 163.2 L372.8 163.2 L372.6 164.1 L372.5 166.2 L372.7 166.5 L372.7 167.0 L372.6 167.5 L372.8 170.0 L373.1 171.6 L372.9 173.4 L373.0 173.1 L373.1 174.2 L372.8 174.1 L373.0 177.7 L373.0 176.2 L372.9 177.7 L373.3 180.6 L373.1 181.7 L373.2 182.5 L373.1 182.4 L373.5 183.9 L373.1 183.8 L373.2 185.2 L373.6 187.4 L373.5 190.1 L373.6 190.8 L373.6 190.7 L373.8 192.4 L373.8 193.2 L373.6 193.8 L373.5 196.6 L373.7 196.6 L373.7 197.5 L374.0 199.5 L373.9 199.8 L374.0 199.6 L373.8 202.9 L374.2 204.1 L374.2 203.8 L373.9 206.3 L374.1 206.8 L374.3 209.1 L374.2 209.9 L374.1 211.5 L374.3 212.8 L374.3 212.7 L374.5 210.4 L374.4 208.7 L374.3 208.5 L374.8 206.7 L374.7 205.2 L374.5 207.3 L375.0 203.2 L374.6 201.8 L375.0 202.9 L375.0 201.0 L375.4 198.7 L375.3 199.1 L375.5 198.7 L375.6 197.6 L375.5 194.9 L375.8 194.0 L376.0 193.0 L376.2 190.6 L376.3 190.7 L376.3 189.2 L376.2 187.6 L376.5 185.4 L376.4 185.3 L376.4 186.3 L376.6 186.3 L376.3 187.5 L376.7 189.2 L376.7 191.9 L376.4 190.8 L376.8 194.6 L376.4 195.8 L376.9 194.8 L376.9 197.8 L376.7 197.0 L376.8 197.6 L376.7 200.8 L376.6 201.7 L376.9 203.6 L377.1 205.0 L376.7 203.6 L376.8 204.5 L377.1 205.3 L377.0 208.0 L377.0 205.6 L377.3 207.2 L377.3 205.1 L377.5 201.8 L377.3 203.4 L377.4 201.1 L377.5 199.8 L377.3 200.0 L377.6 197.5 L377.5 196.6 L377.9 195.8 L377.9 194.3 L378.0 193.7 L377.9 191.4 L378.1 189.8 L378.3 188.9 L378.3 189.9 L378.4 187.0 L378.4 185.7 L378.5 184.2 L378.5 183.7 L378.6 183.6 L378.6 182.4 L378.6 179.2 L378.6 177.9 L378.5 178.7 L378.2 175.0 L378.2 176.5 L378.5 173.8 L378.3 172.5 L378.6 173.1 L378.6 170.7 L378.5 169.4 L378.8 171.2 L378.8 171.3 L379.1 173.8 L379.3 174.7 L379.7 174.2 L380.3 177.0 L380.3 177.5 L380.4 175.6 L380.2 173.7 L380.3 170.7 L380.4 171.2 L380.9 169.9 L380.6 167.5 L380.7 167.1 L381.1 167.2 L380.8 166.7 L380.9 164.9 L381.3 162.7 L381.3 162.1 L381.4 159.5 L381.0 159.5 L381.3 158.3 L381.1 156.0 L381.4 157.2 L381.5 154.1 L381.2 155.4 L381.3 151.4 L381.2 151.6 L381.4 149.0 L381.3 148.9 L381.4 149.6 L381.4 147.8 L381.8 144.5 L381.6 144.7 L381.4 143.7 L381.7 142.6 L381.5 142.4 L381.6 144.0 L381.6 146.4 L381.7 146.2 L381.6 147.2 L382.0 150.0 L381.7 150.1 L382.0 151.7 L381.7 153.8 L381.8 154.0 L381.7 155.8 L381.9 157.4 L381.9 158.8 L381.9 158.3 L382.0 160.2 L382.0 162.3 L381.8 162.8 L381.9 162.1 L381.9 162.5 L382.1 165.3 L382.0 167.9 L382.4 167.2 L382.2 169.3 L382.3 169.2 L382.1 170.6 L382.1 173.7 L382.3 173.2 L382.2 173.0 L382.2 176.8 L382.3 178.0 L381.9 178.7 L382.3 177.4 L382.2 178.6 L381.9 182.6 L382.3 181.8 L381.9 184.9 L382.1 184.1 L382.1 185.8 L382.2 186.8 L382.6 187.4 L382.7 189.8 L382.8 188.7 L382.8 191.7 L383.1 193.6 L383.2 195.4 L383.4 195.5 L383.1 197.3 L383.4 197.7 L383.6 198.6 L383.8 201.6 L383.8 201.0 L384.0 201.6 L383.9 198.5 L384.4 196.9 L384.1 195.3 L384.5 195.6 L384.6 194.0 L384.4 194.2 L384.8 195.0 L384.9 197.6 L384.6 199.0 L384.8 199.6 L384.7 201.2 L384.6 200.7 L385.0 203.9 L385.1 203.3 L385.2 204.1 L385.2 207.1 L384.9 208.9 L385.1 207.8 L385.1 211.4 L385.2 212.4 L385.2 212.7 L385.1 210.2 L385.4 209.9 L385.5 209.3 L385.6 209.5 L385.4 206.7 L385.9 204.6 L385.8 205.0 L385.8 203.0 L385.9 201.7 L386.1 201.0 L386.3 202.0 L386.9 203.3 L387.4 200.5 L387.7 201.0 L387.9 203.6 L388.1 202.6 L388.0 205.5 L388.0 205.2 L388.2 207.6 L388.5 208.1 L388.4 209.2 L388.8 211.3 L388.6 210.7 L389.0 210.9 L388.8 215.5 L389.3 215.0 L389.7 211.8 L390.1 212.7 L390.4 213.9 L390.0 214.3 L390.3 216.7 L390.4 217.3 L390.4 220.1 L390.5 217.9 L390.8 220.8 L391.1 220.3 L391.0 221.6 L391.3 223.5 L391.7 224.6 L391.6 226.7 L391.6 225.0 L391.5 223.8 L391.4 221.7 L391.7 222.3 L391.6 220.0 L391.7 220.1 L391.8 222.8 L391.5 222.1 L391.3 224.8 L391.5 226.5 L391.8 225.8 L391.6 228.3 L391.9 225.9 L392.1 225.5 L392.0 224.1 L391.9 222.3 L392.4 223.0 L392.5 221.7 L392.4 223.5 L392.8 225.0 L392.6 223.8 L392.8 227.2 L392.9 226.5 L393.1 229.0 L393.3 230.4 L393.1 230.8 L393.2 232.2 L393.5 232.8 L393.7 233.4 L393.4 236.0 L393.7 236.7 L393.6 234.1 L394.1 235.8 L393.9 232.7 L394.2 232.3 L394.0 229.8 L394.5 229.8 L394.6 230.4 L394.4 228.1 L394.5 226.7 L394.7 226.9 L394.9 223.1 L394.8 222.4 L394.8 220.7 L394.7 221.1 L395.1 220.6 L395.1 219.5 L394.9 218.5 L395.3 218.0 L395.4 214.9 L395.3 214.2 L395.4 216.3 L395.8 215.9 L396.0 218.2 L396.1 219.0 L396.1 219.8 L396.2 221.7 L396.8 218.2 L397.3 219.2 L397.5 220.5 L397.7 220.4 L397.7 223.3 L397.9 223.7 L397.9 223.8 L398.0 226.9 L398.4 225.6 L398.3 228.3 L398.3 230.0 L398.3 231.2 L398.4 232.9 L399.0 234.1 L398.7 234.2 L399.1 234.8 L399.2 237.0 L399.2 237.6 L399.3 238.3 L399.2 237.9 L399.6 242.1 L399.7 240.7 L399.9 242.8 L400.1 244.6 L399.8 247.1 L400.0 246.5 L400.2 247.6 L400.3 249.2 L400.3 247.1 L400.4 246.2 L400.7 246.5 L400.7 243.9 L401.0 244.3 L401.3 242.6 L401.4 241.3 L401.3 240.0 L401.7 238.4 L401.8 239.5 L402.3 236.7 L402.4 236.2 L403.0 232.7 L403.2 231.9 L403.3 231.7 L403.5 231.6 L403.3 233.9 L403.8 236.6 L403.9 236.3 L403.5 237.3 L403.8 240.0 L404.1 240.8 L403.9 241.9 L404.1 240.5 L404.0 243.6 L404.1 245.4 L404.4 243.8 L404.3 246.7 L404.6 246.8 L404.5 247.9 L404.6 251.7 L405.0 251.6 L405.1 252.0 L405.2 253.8 L405.3 255.6 L405.3 255.5 L405.3 256.7 L405.3 257.2 L405.4 260.5 L405.9 259.4 L405.7 259.6 L405.7 260.8 L405.8 265.1 L406.4 265.0 L406.5 265.5 L406.3 266.7 L407.5 268.0 L407.8 268.3 L407.7 264.4 L407.5 263.3 L408.0 263.0 L408.0 263.3 L407.9 259.8 L408.2 260.5 L408.1 258.5 L408.4 258.5 L408.4 254.6 L408.3 255.0 L408.5 252.5 L408.6 252.1 L408.7 251.1 L408.8 249.4 L409.1 248.0 L408.8 248.9 L408.9 247.6 L408.9 247.3 L409.2 245.9 L409.3 243.3 L409.4 243.7 L409.8 240.2 L409.7 240.1 L410.2 240.1 L410.3 237.5 L410.5 239.8 L410.6 241.5 L410.7 240.8 L411.0 244.3 L411.0 242.8 L411.3 245.0 L411.5 242.4 L412.1 242.6 L412.1 239.8 L412.3 240.0 L412.4 239.6 L412.8 241.8 L412.7 244.6 L412.5 245.1 L413.0 246.5 L413.2 245.7 L413.0 248.6 L413.0 248.3 L413.4 249.6 L413.3 251.7 L413.5 249.2 L413.4 247.8 L413.2 248.1 L413.7 248.5 L413.7 245.3 L413.5 246.4 L413.5 245.1 L413.5 244.1 L413.8 240.2 L413.9 239.5 L413.7 239.0 L413.7 238.7 L413.9 237.9 L413.8 234.0 L413.9 233.9 L414.0 233.3 L414.2 232.1 L414.1 232.0 L414.4 230.6 L414.1 227.7 L414.4 228.8 L414.6 224.9 L414.6 223.9 L414.5 223.8 L414.7 222.8 L414.7 221.7 L414.9 222.3 L415.0 225.2 L415.1 226.5 L415.0 226.9 L415.1 228.0 L415.3 228.1 L415.1 231.5 L415.4 232.4 L415.7 231.5 L415.5 233.3 L415.6 233.9 L415.6 235.5 L415.4 235.8 L415.7 238.0 L416.0 237.5 L415.9 240.6 L415.6 241.8 L415.9 243.5 L415.9 245.1 L416.0 244.4 L415.9 246.3 L415.9 246.6 L416.2 248.3 L416.1 245.7 L416.2 245.1 L416.1 243.2 L416.3 243.3 L416.7 242.3 L416.6 240.2 L416.6 241.2 L416.6 238.2 L416.6 237.4 L416.6 235.4 L416.8 234.9 L416.7 234.5 L417.0 233.3 L417.3 233.2 L417.0 232.3 L417.1 231.3 L417.1 229.1 L417.5 229.5 L417.3 227.9 L417.6 226.0 L417.5 223.3 L417.9 222.1 L417.9 222.4 L417.9 221.2 L418.0 220.0 L418.1 218.5 L418.1 216.4 L418.3 216.0 L418.2 215.5 L418.7 215.2 L418.5 213.2 L418.6 213.3 L418.4 212.3 L418.9 209.3 L418.9 209.8 L418.8 208.3 L419.0 206.7 L419.0 209.4 L419.2 210.5 L419.1 209.9 L419.4 211.5 L419.5 213.4 L419.6 212.4 L419.7 216.2 L419.7 214.9 L420.0 216.7 L420.2 216.5 L420.4 220.1 L420.3 219.8 L420.7 221.2 L420.8 222.3 L420.8 224.0 L420.7 223.2 L421.0 224.8 L421.0 226.7 L421.3 226.4 L420.9 227.6 L421.4 230.0 L421.5 232.4 L421.2 233.4 L421.5 234.9 L421.8 235.4 L421.6 235.1 L421.6 236.9 L421.8 237.5 L422.1 240.4 L422.0 240.0 L422.2 238.4 L422.2 237.9 L422.5 236.6 L422.7 236.8 L422.5 233.8 L422.9 234.2 L422.7 231.8 L423.1 231.4 L423.0 230.0 L423.2 228.0 L423.3 228.7 L423.9 224.6 L424.0 225.0 L424.6 222.2 L424.8 221.9 L425.0 221.7 L425.1 222.3 L425.2 222.6 L425.5 224.1 L425.6 225.8 L425.5 227.4 L425.6 229.7 L426.0 230.0 L427.0 228.3 L426.9 230.1 L426.9 231.3 L427.4 232.1 L427.2 233.2 L427.3 235.2 L427.3 236.1 L427.7 236.7 L427.5 235.9 L427.6 238.1 L427.9 240.3 L427.9 239.3 L428.0 241.7 L428.1 238.9 L428.4 240.5 L428.7 238.7 L428.7 239.0 L428.7 236.0 L429.0 235.0 L429.1 237.9 L429.2 236.9 L429.1 238.8 L429.2 238.7 L429.4 239.8 L429.7 242.4 L429.8 244.3 L429.6 245.5 L429.7 245.3 L430.0 247.0 L430.5 244.5 L430.5 244.4 L430.8 241.7 L431.0 241.7 L431.1 241.1 L431.3 240.6 L431.2 237.3 L431.4 238.4 L431.7 236.2 L431.5 235.4 L431.7 233.3 L432.7 231.7 L432.6 231.7 L433.2 231.0 L433.4 226.8 L433.4 228.7 L433.6 226.8 L433.7 225.0 L433.9 225.2 L433.8 222.9 L434.0 221.0 L434.1 219.6 L434.2 219.9 L434.4 216.5 L434.3 216.6 L434.4 214.3 L434.6 215.2 L434.4 214.6 L434.4 213.9 L434.8 210.0 L434.7 210.0 L434.5 210.4 L434.7 211.4 L435.0 212.2 L434.9 213.1 L435.1 214.8 L434.9 216.5 L435.4 217.8 L435.5 217.8 L435.2 220.6 L435.3 222.8 L435.5 222.6 L435.7 223.3 L435.9 222.3 L435.9 220.4 L436.1 218.8 L436.5 218.8 L436.7 218.1 L436.7 216.7 L437.1 214.6 L437.1 216.1 L437.4 213.6 L437.7 211.7 L437.8 209.7 L437.9 210.7 L438.1 207.6 L437.9 208.7 L437.9 205.0 L438.3 205.6 L438.5 204.2 L438.3 203.3 L438.5 201.6 L438.7 200.0 L439.7 201.7 L439.6 200.3 L440.0 199.1 L439.9 199.9 L440.2 196.7 L440.1 197.3 L440.5 195.0 L440.6 192.3 L440.7 192.3 L440.7 191.7 L440.9 191.9 L440.8 188.0 L440.7 188.2 L440.7 187.3 L441.2 186.5 L441.1 185.0 L441.2 182.0 L441.2 182.7 L441.5 181.3 L441.3 180.0 L441.2 180.2 L441.3 176.8 L441.6 175.3 L441.6 175.5 L441.5 174.4 L441.8 171.7 L441.6 171.8 L441.7 171.2 L442.0 170.0 L442.1 172.4 L442.4 173.6 L442.3 173.2 L442.2 173.2 L442.5 174.4 L442.2 177.8 L442.6 179.0 L442.4 179.8 L442.7 179.2 L442.5 180.1 L442.8 183.7 L442.6 184.5 L442.6 183.1 L442.8 186.2 L443.0 186.7 L443.0 186.4 L443.3 188.0 L443.2 190.4 L443.5 190.6 L443.6 193.4 L443.5 194.2 L443.4 196.0 L443.7 194.3 L443.8 196.7 L444.2 196.6 L444.3 195.7 L444.7 192.5 L444.6 193.1 L444.7 195.0 L444.5 194.5 L445.0 196.8 L444.6 199.5 L444.5 198.0 L444.6 201.3 L444.9 202.7 L445.1 202.3 L445.1 205.2 L444.9 204.4 L445.2 206.6 L444.9 208.6 L445.0 208.3 L445.1 208.1 L445.0 209.9 L444.9 211.3 L445.1 211.6 L445.0 215.2 L445.0 213.3 L445.1 217.0 L445.1 216.0 L445.0 218.9 L445.1 220.7 L445.3 221.1 L445.1 221.4 L445.4 222.5 L445.5 223.5 L445.3 224.7 L445.2 226.3 L445.3 228.6 L445.5 229.0 L445.4 228.7 L445.2 230.1 L445.2 233.1 L445.3 231.5 L445.7 233.8 L445.6 234.6 L445.4 235.2 L445.4 237.9 L445.6 238.5 L445.7 240.9 L445.4 240.8 L445.3 242.8 L445.8 243.0 L445.7 244.1 L445.7 243.2 L445.5 246.1 L445.7 247.0 L445.7 247.4 L445.9 245.2 L445.6 242.9 L445.9 241.6 L445.9 240.9 L445.6 239.7 L445.8 239.0 L445.9 238.4 L445.8 237.5 L446.0 237.3 L446.1 236.3 L445.9 234.7 L446.0 231.8 L446.3 230.7 L446.3 231.8 L446.0 228.7 L446.3 226.7 L446.5 228.0 L446.3 225.3 L446.3 225.0 L446.6 225.6 L446.8 223.5 L446.7 222.6 L446.8 220.6 L447.3 220.5 L447.1 217.3 L447.3 216.7 L447.3 215.5 L447.7 216.2 L447.8 214.5 L447.9 213.9 L447.9 210.7 L448.2 208.8 L447.9 208.7 L448.2 209.4 L448.3 206.7 L448.3 203.8 L448.6 205.3 L448.8 202.9 L448.9 202.9 L449.0 199.3 L449.0 199.7 L448.9 198.9 L449.0 197.5 L448.8 197.6 L449.3 200.3 L449.3 199.8 L449.3 203.6 L449.0 203.1 L449.6 204.2 L449.4 206.3 L449.4 205.4 L449.3 208.4 L449.5 209.3 L449.6 211.0 L449.5 210.0 L449.9 213.4 L449.6 215.2 L450.0 214.2 L449.8 216.1 L450.1 217.3 L450.0 218.3 L449.9 220.1 L450.2 221.5 L450.2 223.2 L450.3 221.6 L450.1 222.9 L450.3 226.4 L450.2 227.1 L450.3 226.0 L450.3 227.7 L450.6 229.4 L450.7 232.1 L450.6 230.8 L450.5 232.9 L450.8 233.2 L450.7 234.6 L450.8 236.5 L450.8 238.3 L451.0 238.3 L451.0 237.8 L451.2 235.9 L451.3 236.2 L451.0 233.0 L451.3 232.2 L451.5 232.2 L451.3 230.1 L451.6 228.2 L451.6 228.7 L451.5 225.7 L451.6 226.0 L451.7 225.0 L451.8 225.1 L451.9 221.9 L452.1 221.5 L452.3 220.5 L451.9 219.4 L452.5 219.4 L452.3 216.7 L452.4 217.2 L452.7 219.9 L452.6 221.4 L452.8 220.0 L452.8 223.4 L452.8 222.3 L452.6 225.8 L452.7 225.2 L452.8 227.7 L453.1 226.5 L453.3 230.0 L453.0 231.2 L453.1 232.3 L453.1 231.1 L453.3 233.3 L453.6 233.7 L453.5 230.5 L453.3 228.4 L453.4 227.8 L453.7 226.7 L453.4 227.9 L453.5 227.0 L453.9 222.7 L454.0 222.3 L453.7 220.9 L454.0 222.1 L453.8 220.9 L453.8 217.9 L454.1 217.8 L454.2 215.5 L454.3 214.9 L454.0 215.0 L454.2 212.1 L454.3 211.7 L454.3 210.3 L454.5 210.9 L454.8 207.6 L455.0 208.0 L455.0 205.8 L455.3 206.7 L455.4 207.0 L455.4 209.8 L455.2 210.6 L455.2 212.1 L455.6 214.0 L455.9 214.1 L456.0 214.5 L455.7 214.9 L456.0 217.6 L456.0 218.3 L456.2 215.3 L456.5 214.5 L456.8 213.4 L457.0 213.3 L456.9 213.3 L457.0 215.4 L457.3 215.6 L457.5 219.7 L457.3 220.0 L457.8 222.0 L457.8 221.7 L458.0 224.0 L458.0 223.2 L458.0 225.0 L458.1 226.5 L458.5 226.7 L458.4 227.6 L458.6 228.4 L458.8 232.2 L459.0 231.7 L459.1 231.3 L459.0 234.5 L459.4 234.6 L459.5 235.4 L459.3 236.7 L459.7 237.5 L459.5 238.9 L459.6 242.7 L459.6 240.7 L459.6 243.9 L459.6 245.6 L459.7 244.7 L460.0 247.0 L460.2 244.4 L460.3 245.0 L460.4 245.3 L460.2 241.5 L460.5 241.0 L460.3 239.3 L460.6 238.6 L460.4 239.3 L461.0 235.8 L460.8 235.9 L460.9 233.2 L461.0 233.3 L461.5 234.3 L461.5 237.1 L461.9 237.9 L462.0 238.3 L462.1 239.0 L462.4 237.4 L462.3 234.8 L462.6 234.8 L462.8 233.5 L462.6 232.6 L463.0 230.9 L462.8 228.0 L463.0 228.3 L463.2 229.5 L463.6 230.1 L463.5 233.3 L463.4 234.5 L463.9 235.3 L464.0 235.0 L464.3 232.2 L464.0 233.0 L464.4 232.0 L464.3 231.3 L464.5 230.3 L464.5 226.5 L464.6 226.3 L464.8 225.2 L464.9 225.9 L465.0 223.3 L465.1 223.6 L465.2 220.9 L465.1 219.0 L465.2 220.0 L465.4 218.1 L465.6 214.9 L465.5 213.7 L465.8 215.2 L465.8 211.3 L465.7 211.3 L465.9 210.4 L465.7 210.0 L466.0 208.3 L466.0 209.4 L466.1 211.4 L466.3 213.5 L466.5 213.1 L466.3 215.6 L466.8 216.3 L466.6 215.1 L466.7 218.9 L466.7 219.0 L467.0 220.0 L467.0 217.3 L467.3 217.2 L467.1 215.5 L467.3 214.3 L467.3 214.6 L467.3 211.8 L467.2 212.3 L467.5 211.3 L467.3 210.8 L467.3 209.0 L467.6 207.8 L467.7 206.7 L468.7 208.3 L468.6 207.9 L468.9 205.3 L468.8 204.2 L469.0 204.3 L469.2 202.8 L469.0 201.5 L468.9 201.5 L469.1 199.0 L469.2 197.4 L469.5 196.7 L469.3 197.7 L469.4 194.9 L469.3 195.0 L469.5 194.3 L469.7 191.7 L469.8 191.7 L470.0 193.8 L470.6 195.9 L470.7 196.7 L470.8 196.8 L471.1 196.9 L471.7 200.0 L471.9 197.9 L471.9 198.2 L472.1 197.2 L472.1 195.3 L472.0 194.5 L472.4 192.8 L472.6 192.7 L472.8 189.6 L472.7 190.0 L473.7 191.7 L473.7 188.6 L474.0 189.3 L474.4 186.8 L474.7 186.7 L474.8 186.8 L475.0 185.1 L475.2 182.9 L475.7 181.7 L475.6 180.3 L475.6 180.0 L475.7 176.5 L475.8 176.7 L475.8 176.8 L476.0 174.9 L476.2 174.3 L476.2 173.2 L476.3 169.4 L476.2 168.9 L476.4 169.6 L476.3 168.4 L476.3 166.5 L476.5 165.3 L476.5 165.6 L476.5 169.0 L476.7 169.1 L476.7 171.3 L477.0 172.9 L476.9 172.8 L477.0 172.9 L477.2 175.5 L477.3 177.3 L477.1 178.2 L477.3 178.3 L478.7 176.7 L478.6 178.1 L479.0 177.8 L478.9 178.7 L478.8 181.0 L479.0 181.7 L478.8 183.4 L478.9 184.8 L479.2 186.7 L479.2 187.8 L479.4 187.0 L479.3 187.9 L479.3 190.0 L479.3 190.0 L479.6 191.9 L479.8 191.1 L479.4 194.1 L479.8 195.7 L480.0 194.7 L480.0 195.4 L480.2 197.9 L480.0 198.5 L480.2 201.1 L480.3 201.7 L480.7 200.3 L480.6 200.5 L480.6 198.0 L480.7 197.9 L480.5 196.5 L480.7 194.4 L480.9 194.0 L481.1 191.2 L481.1 192.8 L481.2 190.8 L481.2 188.1 L481.3 188.3 L482.7 187.5 L482.6 187.7 L483.0 189.2 L483.2 192.5 L483.4 193.5 L483.2 193.0 L483.2 195.0 L483.5 195.2 L483.7 196.7 L483.9 197.0 L484.3 199.1 L484.3 198.9 L484.7 201.7 L484.6 202.1 L485.0 202.5 L485.2 204.2 L485.2 204.8 L485.1 206.1 L485.3 208.3 L485.4 207.9 L485.4 209.7 L485.5 212.4 L485.6 214.4 L485.6 215.6 L485.5 215.8 L485.7 216.9 L485.9 218.0 L485.5 217.5 L486.0 219.2 L486.0 220.1 L485.9 222.5 L485.7 222.6 L485.7 225.0 L486.1 226.9 L486.0 226.7 L486.2 226.3 L486.0 225.0 L486.0 223.7 L486.3 222.4 L486.3 219.9 L486.4 221.3 L486.7 217.1 L486.7 218.8 L486.6 214.6 L486.9 214.5 L487.0 212.8 L486.8 214.0 L487.0 211.7 L487.3 212.2 L487.4 208.6 L487.7 208.3 L487.6 208.9 L487.8 211.3 L487.9 213.0 L487.9 214.3 L487.9 215.0 L488.0 214.6 L488.1 215.3 L488.3 216.4 L488.5 219.7 L488.4 220.7 L488.6 219.4 L488.7 221.7 L488.7 220.6 L488.9 219.4 L488.9 217.0 L488.9 217.2 L489.4 214.3 L489.5 214.2 L489.3 214.0 L489.2 213.2 L489.6 209.9 L489.7 210.0 L489.7 211.6 L489.8 213.6 L490.1 214.4 L490.0 214.9 L490.1 215.9 L490.4 218.2 L490.4 216.6 L490.5 220.5 L490.7 220.0 L491.0 218.6 L491.1 219.1 L491.7 216.7 L491.6 214.0 L492.0 214.7 L491.8 213.5 L492.3 212.7 L492.2 209.8 L492.1 208.9 L492.2 209.3 L492.3 206.8 L492.8 207.6 L492.7 205.0 L493.0 204.9 L493.5 206.0 L493.7 208.3 L493.9 205.8 L493.9 205.1 L494.2 204.2 L494.7 203.3 L495.0 202.8 L494.8 202.1 L495.0 198.7 L494.9 200.6 L495.2 198.5 L495.6 198.0 L495.7 193.9 L495.7 196.0 L495.7 193.3 L496.7 192.5 L497.7 191.7 L498.0 193.5 L497.9 193.9 L498.0 193.3 L498.0 196.1 L498.2 196.6 L498.5 198.8 L498.2 199.3 L498.7 200.8 L498.7 201.7 L498.7 203.1 L498.8 203.4 L499.2 206.0 L499.1 207.7 L499.3 208.3 L499.6 207.4 L499.7 210.0 L500.7 211.7 L501.7 213.3 L502.1 213.8 L502.0 216.4 L502.3 218.0 L502.2 216.7 L502.7 220.6 L502.7 220.0 L503.0 219.0 L502.9 216.4 L502.9 215.1 L503.3 216.1 L503.4 213.3 L503.5 211.7 L503.7 211.7 L504.2 208.6 L504.2 209.2 L504.7 208.3 L505.1 208.6 L505.1 206.1 L505.7 205.0 L505.6 206.1 L506.0 208.2 L506.1 208.7 L506.1 209.8 L506.2 211.7 L506.5 211.6 L506.6 212.0 L506.2 214.2 L506.4 215.9 L506.7 216.7 L506.8 217.8 L507.0 218.3 L506.8 220.9 L506.9 221.7 L507.2 222.5 L507.2 223.0 L507.5 224.0 L507.4 225.9 L507.4 225.8 L507.7 228.3 L507.8 230.5 L508.1 231.9 L508.3 231.2 L508.1 233.3 L508.7 233.5 L508.7 235.0 L508.6 234.8 L508.7 236.2 L509.1 239.6 L508.9 239.5 L508.9 240.0 L509.4 242.4 L509.3 243.0 L509.3 242.6 L509.7 240.4 L509.5 238.3 L509.6 238.9 L509.4 238.6 L509.8 237.7 L509.6 235.0 L509.7 233.1 L510.0 233.5 L510.1 231.5 L509.9 229.6 L510.0 230.3 L510.1 229.4 L510.3 228.6 L510.5 226.2 L510.3 225.0 L511.3 223.3 L511.5 222.1 L511.6 220.9 L511.9 221.8 L512.0 218.7 L512.1 216.8 L512.3 216.7 L512.9 218.4 L512.9 220.2 L513.3 220.0 L513.7 217.7 L514.0 216.0 L514.1 215.9 L514.3 215.0 L515.3 213.3 L515.8 216.2 L515.9 216.6 L516.0 217.3 L516.3 218.3 L516.1 216.5 L516.2 215.1 L516.6 214.7 L516.4 213.6 L516.9 214.1 L516.6 211.0 L516.7 209.8 L516.8 210.7 L517.1 209.9 L517.0 208.9 L516.7 205.7 L516.8 206.2 L516.8 204.7 L517.0 203.7 L517.0 202.7 L517.1 200.1 L517.2 200.5 L517.3 198.3 L517.4 197.8 L517.6 200.6 L518.0 203.5 L518.3 203.3 L518.4 204.6 L518.7 206.3 L518.8 205.6 L518.8 206.6 L519.1 207.9 L518.8 211.2 L518.9 210.6 L519.2 211.1 L519.3 213.3 L519.6 211.9 L519.3 209.5 L519.4 209.9 L519.8 208.1 L519.8 209.5 L520.1 207.2 L519.8 206.8 L520.1 205.8 L520.1 202.1 L520.0 200.7 L520.4 201.9 L520.3 200.0 L520.4 199.5 L520.9 202.7 L520.7 205.0 L521.0 205.3 L521.0 207.4 L521.3 206.7 L521.3 204.0 L521.8 204.9 L521.6 202.0 L522.0 201.5 L521.7 201.1 L522.2 198.7 L521.9 199.7 L522.4 196.7 L522.3 196.7 L522.3 195.1 L522.3 195.6 L522.5 194.2 L522.8 191.0 L522.7 189.4 L522.8 189.8 L522.9 187.8 L523.4 187.9 L523.1 185.2 L523.3 185.0 L523.9 183.6 L524.3 182.5 L524.4 182.8 L524.8 179.2 L524.9 180.1 L525.0 176.8 L524.9 176.3 L524.9 176.0 L525.2 176.1 L525.2 171.9 L525.5 172.5 L525.8 174.0 L525.5 174.5 L525.7 177.2 L525.8 176.3 L525.7 179.6 L526.1 178.0 L526.1 181.1 L526.3 180.2 L526.1 183.1 L526.1 185.0 L526.3 185.0 L526.3 185.7 L526.9 185.7 L527.0 187.8 L527.2 188.1 L527.2 192.1 L527.3 191.7 L527.1 192.6 L527.5 193.8 L527.3 193.8 L527.7 196.9 L527.4 196.1 L527.4 198.5 L527.4 198.4 L527.9 200.4 L527.9 200.8 L527.6 202.4 L527.7 202.4 L528.0 204.1 L527.8 207.6 L527.8 208.3 L528.0 208.3 L528.2 207.3 L528.4 207.7 L528.4 204.3 L528.5 202.5 L528.4 202.0 L528.5 203.1 L528.3 200.6 L528.7 200.1 L528.8 196.9 L529.0 196.5 L529.0 196.7 L529.0 194.6 L529.0 193.3 L529.5 191.6 L529.5 191.5 L530.0 190.0 L529.9 191.5 L530.3 193.6 L530.3 193.1 L530.4 196.1 L530.7 195.7 L530.7 196.1 L530.8 198.0 L530.9 197.4 L531.0 200.0 L531.0 202.5 L531.0 203.9 L531.1 202.2 L531.3 205.8 L531.5 205.6 L531.7 205.7 L531.9 207.8 L531.8 208.3 L532.0 210.0 L531.9 211.1 L531.9 213.8 L532.1 214.5 L532.3 214.9 L532.4 216.6 L532.5 218.2 L532.2 216.2 L532.7 220.0 L532.7 218.9 L532.8 222.3 L532.6 221.9 L532.7 223.5 L532.7 223.6 L533.0 225.9 L532.8 226.7 L532.8 226.2 L532.9 223.0 L533.0 224.7 L533.2 220.7 L533.2 221.3 L533.1 219.7 L533.2 217.4 L533.4 218.1 L533.6 215.1 L533.7 216.4 L533.7 214.4 L533.4 214.8 L533.6 212.9 L533.9 212.0 L533.8 210.0 L533.9 207.7 L534.2 206.2 L534.1 205.8 L534.4 203.9 L534.6 203.0 L534.5 201.2 L534.8 201.5 L534.5 200.3 L534.8 199.2 L535.0 199.4 L535.2 202.2 L535.4 203.4 L535.5 203.4 L535.5 206.9 L535.7 206.6 L535.8 206.1 L535.9 208.2 L535.8 210.0 L536.0 211.9 L536.2 214.0 L536.4 215.2 L536.4 215.1 L536.7 215.1 L536.8 216.7 L536.8 214.0 L537.3 214.9 L537.3 215.0 L537.5 211.6 L537.2 211.4 L537.5 209.6 L537.6 209.7 L537.8 208.2 L537.8 206.7 L538.1 206.8 L538.0 202.5 L538.7 203.1 L538.8 202.0 L538.8 200.8 L539.0 202.6 L539.2 203.3 L539.1 204.2 L539.2 204.5 L539.5 206.1 L539.3 208.1 L539.2 207.8 L539.6 210.2 L539.6 212.6 L539.7 211.6 L539.8 213.3 L540.2 213.2 L539.8 216.2 L539.9 216.7 L540.2 217.8 L540.4 220.4 L540.3 220.2 L540.5 219.6 L540.6 221.7 L540.8 223.3 L541.0 221.9 L540.9 222.2 L541.3 220.5 L541.2 219.3 L541.7 217.5 L541.6 215.2 L541.8 215.0 L542.3 213.9 L542.5 211.7 L542.8 210.9 L542.8 210.0 L543.1 211.0 L542.9 213.4 L543.4 212.6 L543.6 214.0 L543.5 215.8 L543.9 216.2 L543.8 218.3 L543.9 216.7 L544.1 216.9 L544.2 214.2 L544.0 213.7 L544.4 213.1 L544.2 213.2 L544.3 209.4 L544.4 210.6 L544.4 207.7 L544.5 206.3 L544.7 205.8 L545.0 207.4 L545.4 208.6 L545.7 210.0 L546.0 210.2 L545.8 212.5 L545.9 213.7 L546.2 213.2 L546.7 214.2 L546.7 216.7 L546.9 219.4 L547.2 220.6 L547.2 221.4 L547.4 220.9 L547.7 221.8 L547.7 223.3 L548.1 224.0 L548.1 223.1 L548.7 220.0 L548.9 219.6 L548.9 221.2 L549.3 224.3 L549.3 223.9 L549.6 226.1 L549.7 226.7 L550.1 228.8 L550.1 230.6 L550.7 230.0 L550.6 231.2 L550.8 232.5 L550.9 230.9 L551.3 231.1 L551.1 229.4 L551.1 227.5 L551.2 226.5 L551.5 226.5 L551.6 223.1 L551.7 223.3 L552.0 222.5 L552.7 220.8 L553.0 221.4 L552.8 223.7 L553.2 225.7 L553.3 225.3 L553.1 227.7 L553.3 229.2 L553.4 227.8 L553.4 228.3 L553.6 229.2 L553.7 232.0 L553.8 228.9 L554.3 231.0 L554.5 228.9 L554.7 226.7 L555.7 228.3 L555.7 227.7 L556.4 226.2 L556.5 225.0 L556.7 223.3 L557.7 221.7 L557.5 218.9 L557.9 220.4 L557.6 219.3 L558.0 217.3 L558.0 217.0 L558.1 216.2 L558.1 213.1 L558.4 213.2 L558.3 210.4 L558.2 211.0 L558.4 208.6 L558.6 209.8 L558.6 205.9 L558.5 206.1 L558.7 205.0 L558.5 206.5 L559.1 207.5 L559.1 209.4 L559.2 209.6 L558.9 211.3 L558.9 211.1 L559.5 212.9 L559.3 215.1 L559.6 214.6 L559.3 215.8 L559.4 217.1 L559.7 218.3 L559.9 218.6 L560.2 221.7 L560.5 222.3 L560.7 223.3 L560.5 225.9 L560.7 225.3 L560.7 228.2 L560.9 227.6 L561.0 229.1 L560.7 230.6 L560.7 231.6 L560.7 232.5 L560.6 232.7 L561.0 233.6 L560.8 234.6 L560.7 236.9 L560.8 238.3 L560.7 238.1 L560.7 236.6 L560.9 234.4 L561.0 232.5 L561.2 232.4 L561.1 231.5 L561.1 230.0 L561.4 228.3 L561.5 229.9 L561.4 226.1 L561.5 225.9 L561.3 225.3 L561.3 223.9 L561.4 221.2 L561.8 222.1 L562.0 221.4 L561.9 218.9 L562.0 217.2 L562.0 218.7 L562.0 214.8 L562.0 215.0 L562.0 212.2 L562.0 211.3 L562.4 213.0 L562.4 210.1 L562.5 210.2 L562.8 207.5 L562.8 206.5 L562.6 206.8 L563.0 203.7 L563.0 203.3 L563.1 201.1 L563.7 201.1 L564.2 200.0 L564.3 199.4 L564.7 202.6 L564.8 202.1 L565.0 204.2 L564.9 204.3 L565.2 206.7 L565.3 206.2 L565.7 209.5 L565.5 212.0 L565.7 212.4 L566.1 214.0 L565.9 215.4 L566.2 215.0 L566.4 217.5 L566.3 217.3 L566.4 218.6 L566.7 219.6 L566.6 222.3 L566.9 221.2 L566.8 224.4 L567.0 225.1 L567.0 226.4 L567.2 226.7 L567.4 228.2 L567.9 227.5 L568.3 230.0 L569.0 226.7 L569.6 227.9 L570.0 226.7 L570.4 228.9 L570.2 229.4 L570.6 228.7 L570.9 230.3 L571.0 233.3 L570.9 233.8 L571.2 234.0 L571.5 237.3 L571.7 236.7 L571.7 235.4 L571.9 236.0 L572.1 232.6 L572.0 233.0 L572.2 230.4 L572.6 230.1 L572.6 229.9 L572.7 228.0 L572.9 227.2 L573.0 225.0 L573.3 226.9 L573.0 226.6 L573.2 227.9 L573.2 230.7 L573.1 229.9 L573.3 231.4 L573.3 233.4 L573.4 235.7 L573.8 234.3 L573.6 235.6 L573.8 239.3 L573.8 239.9 L574.2 239.8 L574.1 241.0 L574.2 242.1 L574.2 243.3 L574.4 241.0 L574.6 241.9 L574.4 241.1 L574.9 239.1 L574.7 238.9 L575.1 234.9 L575.0 235.7 L575.0 234.4 L575.3 233.3 L575.5 234.9 L575.7 237.6 L576.3 237.6 L576.3 238.3 L576.5 235.7 L576.7 234.6 L576.6 235.2 L576.6 234.2 L576.7 233.7 L576.7 230.8 L576.8 231.7 L577.3 229.8 L577.3 228.2 L577.1 226.5 L577.5 225.7 L577.5 225.0 L577.6 227.0 L577.9 227.1 L578.2 227.4 L578.4 227.6 L578.5 230.6 L578.7 231.7 L578.8 231.2 L578.8 227.4 L579.4 229.7 L579.2 227.7 L579.4 224.3 L579.7 224.2 L580.7 223.3 L580.8 225.8 L580.7 226.4 L581.1 228.0 L580.8 227.3 L580.8 228.3 L581.2 228.8 L581.1 229.9 L581.4 232.7 L581.3 232.3 L581.3 235.0 L581.7 234.1 L581.8 233.1 L581.8 231.7 L581.6 234.1 L582.0 235.7 L582.0 236.6 L581.9 234.8 L581.9 238.4 L581.9 237.6 L581.9 241.1 L582.1 239.5 L582.3 242.5 L582.4 242.0 L582.2 245.8 L582.3 245.8 L582.7 243.8 L582.9 241.8 L582.8 242.5 L583.1 243.4 L583.2 244.2 L583.2 246.2 L583.1 247.5 L582.9 247.9 L583.2 250.3 L583.3 250.8 L583.6 250.9 L583.6 248.7 L583.8 247.5 L583.7 247.1 L583.8 249.9 L584.2 251.1 L584.2 251.9 L584.1 255.0 L584.1 254.4 L584.3 254.6 L584.3 257.8 L584.1 258.4 L584.3 259.2 L584.5 258.1 L584.8 256.7 L585.0 258.3 L584.9 260.4 L584.7 260.0 L584.9 261.5 L585.0 263.4 L585.2 262.6 L584.9 263.0 L585.1 266.8 L585.0 265.9 L585.0 267.9 L585.1 267.9 L585.2 270.0 L585.3 267.4 L585.3 267.8 L585.5 267.6 L585.5 265.0 L585.3 266.4 L585.7 266.9 L585.7 267.2 L585.7 269.1 L585.7 269.5 L585.5 272.0 L585.3 273.4 L585.3 272.8 L585.6 276.4 L585.4 278.0 L585.3 278.6 L585.6 279.9 L585.8 278.7 L585.6 281.0 L586.0 278.0 L586.2 278.0 L586.4 280.6 L586.2 279.5 L586.2 280.6 L586.5 283.6 L586.1 283.7 L586.3 285.7 L586.2 287.3 L586.5 288.9 L586.2 289.4 L586.4 289.5 L586.4 291.1 L586.4 292.0 L586.6 290.3 L586.9 289.0 L587.0 289.9 L587.1 289.7 L587.0 293.3 L586.9 292.6 L587.1 295.9 L587.1 297.0 L587.2 298.4 L587.0 299.9 L586.9 300.6 L587.0 301.0 L587.2 300.9 L587.1 303.0 L587.1 304.2 L587.0 303.7 L587.2 307.7 L587.3 306.9 L587.3 307.9 L587.0 308.6 L587.2 311.9 L587.3 313.4 L587.2 313.6 L587.5 313.6 L587.3 313.8 L587.1 317.1 L587.3 318.7 L587.0 318.2 L587.5 320.7 L587.1 320.9 L587.3 321.5 L587.1 324.1 L587.3 325.7 L587.3 324.6 L587.5 327.5 L587.4 327.6 L587.3 325.4 L587.4 323.9 L587.9 324.6 L587.6 323.5 L588.1 322.9 L588.2 322.0 L587.9 318.0 L588.2 318.0 L588.3 318.8 L588.5 320.1 L588.7 322.9 L588.6 323.0 L588.5 321.5 L588.9 319.6 L588.6 320.8 L588.8 316.9 L588.6 316.5 L589.0 317.7 L588.8 314.2 L588.9 313.1 L588.9 313.4 L589.0 312.5 L588.8 310.1 L588.9 309.6 L589.1 309.7 L589.2 306.2 L589.1 307.4 L589.2 305.0 L589.1 303.5 L589.6 303.8 L589.3 301.7 L589.6 300.0 L589.6 299.7 L589.8 295.9 L590.0 296.0 L590.0 294.7 L590.2 294.6 L590.2 293.5 L590.6 292.6 L590.6 290.0 L590.7 289.6 L590.7 288.7 L590.8 288.0 L591.0 286.5 L590.9 283.9 L591.0 283.8 L590.9 282.0" stroke="#000" stroke-width="1.2" fill="none" stroke-linejoin="bevel" stroke-linecap="butt"/>
</svg>
</div></body></html>
